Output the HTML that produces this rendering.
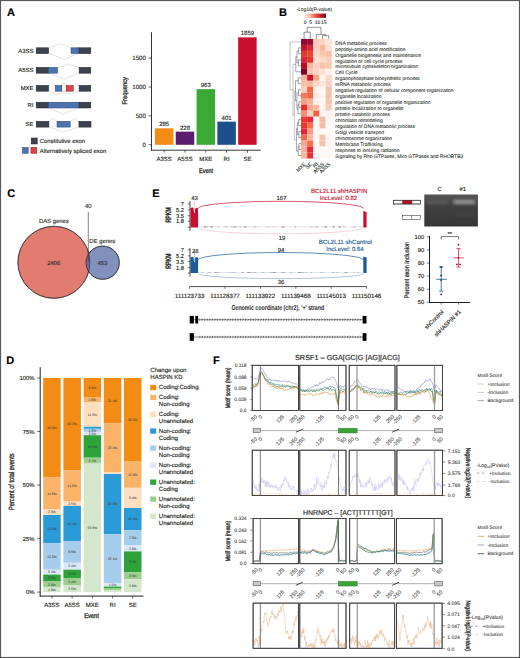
<!DOCTYPE html>
<html><head><meta charset="utf-8"><style>
html,body{margin:0;padding:0;background:#fff;}
body{width:520px;height:658px;overflow:hidden;}
svg{display:block;font-family:"Liberation Sans",sans-serif;text-rendering:geometricPrecision;}
</style></head><body>
<svg width="520" height="658" viewBox="0 0 520 658">
<rect x="0" y="0" width="520" height="658" fill="#fff"/>
<text stroke="#000" stroke-width="0.14" x="7.10" y="15.86" font-size="11" text-anchor="start" fill="#000" font-weight="bold">A</text>
<text stroke="#231f20" stroke-width="0.14" x="33.40" y="52.82" font-size="5.9" text-anchor="end" fill="#231f20">A3SS</text>
<text stroke="#231f20" stroke-width="0.14" x="33.40" y="72.42" font-size="5.9" text-anchor="end" fill="#231f20">A5SS</text>
<text stroke="#231f20" stroke-width="0.14" x="33.40" y="90.42" font-size="5.9" text-anchor="end" fill="#231f20">MXE</text>
<text stroke="#231f20" stroke-width="0.14" x="33.40" y="107.22" font-size="5.9" text-anchor="end" fill="#231f20">RI</text>
<text stroke="#231f20" stroke-width="0.14" x="33.40" y="126.32" font-size="5.9" text-anchor="end" fill="#231f20">SE</text>
<polyline points="48.60,48.10 59.60,43.80 71.00,48.10" fill="none" stroke="#c4c4c8" stroke-width="0.5"/>
<polyline points="48.60,53.30 64.30,59.50 79.10,53.30" fill="none" stroke="#c4c4c8" stroke-width="0.5"/>
<rect x="36.20" y="47.80" width="12.40" height="5.80" fill="#3c4250" stroke="#1d2027" stroke-width="0.5"/>
<rect x="71.00" y="47.80" width="8.10" height="5.80" fill="#4d73ae" stroke="#2c4a7c" stroke-width="0.5"/>
<rect x="79.10" y="47.80" width="11.70" height="5.80" fill="#3c4250" stroke="#1d2027" stroke-width="0.5"/>
<polyline points="57.60,67.70 68.40,64.00 79.10,67.70" fill="none" stroke="#c4c4c8" stroke-width="0.5"/>
<polyline points="48.60,72.90 64.30,79.00 79.10,72.90" fill="none" stroke="#c4c4c8" stroke-width="0.5"/>
<rect x="36.20" y="67.40" width="12.40" height="5.80" fill="#3c4250" stroke="#1d2027" stroke-width="0.5"/>
<rect x="48.60" y="67.40" width="9.00" height="5.80" fill="#4d73ae" stroke="#2c4a7c" stroke-width="0.5"/>
<rect x="79.10" y="67.40" width="11.70" height="5.80" fill="#3c4250" stroke="#1d2027" stroke-width="0.5"/>
<polyline points="48.60,85.90 51.70,82.80 55.20,85.90" fill="none" stroke="#c4c4c8" stroke-width="0.5"/>
<polyline points="61.90,90.70 70.50,94.50 79.10,90.70" fill="none" stroke="#c4c4c8" stroke-width="0.5"/>
<polyline points="48.60,90.70 57.40,94.60 66.10,90.70" fill="none" stroke="#eab4b8" stroke-width="0.5"/>
<polyline points="61.90,85.90 64.30,82.60 66.10,85.90" fill="none" stroke="#eab4b8" stroke-width="0.5"/>
<polyline points="73.30,85.90 76.20,82.80 79.10,85.90" fill="none" stroke="#eab4b8" stroke-width="0.5"/>
<rect x="36.20" y="85.40" width="12.40" height="5.80" fill="#3c4250" stroke="#1d2027" stroke-width="0.5"/>
<rect x="55.20" y="85.40" width="6.70" height="5.80" fill="#4d73ae" stroke="#2c4a7c" stroke-width="0.5"/>
<rect x="66.10" y="85.40" width="7.20" height="5.80" fill="#d9434c" stroke="#a02028" stroke-width="0.5"/>
<rect x="79.10" y="85.40" width="11.70" height="5.80" fill="#3c4250" stroke="#1d2027" stroke-width="0.5"/>
<polyline points="48.60,107.70 62.80,114.00 79.10,107.70" fill="none" stroke="#c4c4c8" stroke-width="0.5"/>
<rect x="36.20" y="102.20" width="12.40" height="5.80" fill="#3c4250" stroke="#1d2027" stroke-width="0.5"/>
<rect x="48.60" y="102.20" width="30.50" height="5.80" fill="#4d73ae" stroke="#2c4a7c" stroke-width="0.5"/>
<rect x="79.10" y="102.20" width="11.70" height="5.80" fill="#3c4250" stroke="#1d2027" stroke-width="0.5"/>
<polyline points="48.90,121.60 52.90,118.40 57.00,121.60" fill="none" stroke="#c4c4c8" stroke-width="0.5"/>
<polyline points="70.20,121.60 74.90,118.40 78.90,121.60" fill="none" stroke="#c4c4c8" stroke-width="0.5"/>
<polyline points="48.90,126.80 63.60,132.20 78.90,126.80" fill="none" stroke="#c4c4c8" stroke-width="0.5"/>
<rect x="36.20" y="121.30" width="12.70" height="5.80" fill="#3c4250" stroke="#1d2027" stroke-width="0.5"/>
<rect x="57.00" y="121.30" width="13.20" height="5.80" fill="#4d73ae" stroke="#2c4a7c" stroke-width="0.5"/>
<rect x="78.90" y="121.30" width="12.10" height="5.80" fill="#3c4250" stroke="#1d2027" stroke-width="0.5"/>
<rect x="31.20" y="138.00" width="6.00" height="6.00" fill="#3c4250" stroke="#1d2027" stroke-width="0.5"/>
<text stroke="#231f20" stroke-width="0.14" x="39.80" y="143.12" font-size="5.9" text-anchor="start" fill="#231f20">Constitutive exon</text>
<rect x="22.50" y="147.40" width="5.70" height="5.90" fill="#4d73ae" stroke="#2c4a7c" stroke-width="0.5"/>
<rect x="30.90" y="147.40" width="5.90" height="5.90" fill="#d9434c" stroke="#a02028" stroke-width="0.5"/>
<text stroke="#231f20" stroke-width="0.14" x="39.80" y="152.52" font-size="5.9" text-anchor="start" fill="#231f20">Alternatively spliced exon</text>
<line x1="151.50" y1="32.20" x2="151.50" y2="150.50" stroke="#231f20" stroke-width="0.9"/>
<line x1="151.10" y1="150.20" x2="260.80" y2="150.20" stroke="#231f20" stroke-width="0.9"/>
<line x1="148.60" y1="144.80" x2="151.50" y2="144.80" stroke="#231f20" stroke-width="0.7"/>
<text stroke="#231f20" stroke-width="0.14" x="146.00" y="147.03" font-size="6.2" text-anchor="end" fill="#231f20">0</text>
<line x1="148.60" y1="115.90" x2="151.50" y2="115.90" stroke="#231f20" stroke-width="0.7"/>
<text stroke="#231f20" stroke-width="0.14" x="146.00" y="118.13" font-size="6.2" text-anchor="end" fill="#231f20">500</text>
<line x1="148.60" y1="87.00" x2="151.50" y2="87.00" stroke="#231f20" stroke-width="0.7"/>
<text stroke="#231f20" stroke-width="0.14" x="146.00" y="89.23" font-size="6.2" text-anchor="end" fill="#231f20">1000</text>
<line x1="148.60" y1="58.10" x2="151.50" y2="58.10" stroke="#231f20" stroke-width="0.7"/>
<text stroke="#231f20" stroke-width="0.14" x="146.00" y="60.33" font-size="6.2" text-anchor="end" fill="#231f20">1500</text>
<rect x="154.95" y="128.33" width="18.50" height="16.47" fill="#f28c14"/>
<text stroke="#231f20" stroke-width="0.14" x="164.20" y="126.29" font-size="6" text-anchor="middle" fill="#231f20">285</text>
<line x1="164.20" y1="150.20" x2="164.20" y2="152.60" stroke="#231f20" stroke-width="0.7"/>
<text stroke="#231f20" stroke-width="0.14" x="164.20" y="161.46" font-size="6" text-anchor="middle" fill="#231f20">A3SS</text>
<rect x="175.75" y="131.62" width="18.50" height="13.18" fill="#5b1e6e"/>
<text stroke="#231f20" stroke-width="0.14" x="185.00" y="129.58" font-size="6" text-anchor="middle" fill="#231f20">228</text>
<line x1="185.00" y1="150.20" x2="185.00" y2="152.60" stroke="#231f20" stroke-width="0.7"/>
<text stroke="#231f20" stroke-width="0.14" x="185.00" y="161.46" font-size="6" text-anchor="middle" fill="#231f20">A5SS</text>
<rect x="196.55" y="89.14" width="18.50" height="55.66" fill="#3aaa35"/>
<text stroke="#231f20" stroke-width="0.14" x="205.80" y="87.10" font-size="6" text-anchor="middle" fill="#231f20">963</text>
<line x1="205.80" y1="150.20" x2="205.80" y2="152.60" stroke="#231f20" stroke-width="0.7"/>
<text stroke="#231f20" stroke-width="0.14" x="205.80" y="161.46" font-size="6" text-anchor="middle" fill="#231f20">MXE</text>
<rect x="217.35" y="121.62" width="18.50" height="23.18" fill="#1d4f8c"/>
<text stroke="#231f20" stroke-width="0.14" x="226.60" y="119.58" font-size="6" text-anchor="middle" fill="#231f20">401</text>
<line x1="226.60" y1="150.20" x2="226.60" y2="152.60" stroke="#231f20" stroke-width="0.7"/>
<text stroke="#231f20" stroke-width="0.14" x="226.60" y="161.46" font-size="6" text-anchor="middle" fill="#231f20">RI</text>
<rect x="238.15" y="37.35" width="18.50" height="107.45" fill="#c8102e"/>
<text stroke="#231f20" stroke-width="0.14" x="247.40" y="35.31" font-size="6" text-anchor="middle" fill="#231f20">1859</text>
<line x1="247.40" y1="150.20" x2="247.40" y2="152.60" stroke="#231f20" stroke-width="0.7"/>
<text stroke="#231f20" stroke-width="0.14" x="247.40" y="161.46" font-size="6" text-anchor="middle" fill="#231f20">SE</text>
<text x="206.00" y="173.00" font-size="6.8" text-anchor="middle" fill="#231f20" stroke="#231f20" stroke-width="0.28" transform="translate(206 0) scale(0.8 1) translate(-206 0)">Event</text>
<text x="0" y="0" font-size="6.8" text-anchor="middle" fill="#231f20" stroke="#231f20" stroke-width="0.28" transform="translate(126.5 90.8) rotate(-90) scale(0.86 1)">Frequency</text>
<text stroke="#000" stroke-width="0.14" x="279.00" y="15.86" font-size="11" text-anchor="start" fill="#000" font-weight="bold">B</text>
<text stroke="#231f20" stroke-width="0.07" x="296.50" y="10.78" font-size="4.95" text-anchor="start" fill="#231f20">-Log10(P-value)</text>
<defs><linearGradient id="hmg" x1="0" x2="1" y1="0" y2="0"><stop offset="0" stop-color="#fff5ee"/><stop offset="0.3" stop-color="#f9b59c"/><stop offset="0.6" stop-color="#e8403a"/><stop offset="1" stop-color="#7a0428"/></linearGradient></defs>
<rect x="303.50" y="13.60" width="22.50" height="4.30" fill="url(#hmg)"/>
<text stroke="#231f20" stroke-width="0.07" x="305.20" y="23.98" font-size="4.95" text-anchor="middle" fill="#231f20">0</text>
<text stroke="#231f20" stroke-width="0.07" x="310.60" y="23.98" font-size="4.95" text-anchor="middle" fill="#231f20">5</text>
<text stroke="#231f20" stroke-width="0.07" x="317.60" y="23.98" font-size="4.95" text-anchor="middle" fill="#231f20">10</text>
<text stroke="#231f20" stroke-width="0.07" x="323.80" y="23.98" font-size="4.95" text-anchor="middle" fill="#231f20">15</text>
<rect x="301.00" y="38.90" width="6.20" height="6.03" fill="#8b0a30"/>
<rect x="307.15" y="38.90" width="6.20" height="6.03" fill="#9a0c35"/>
<rect x="313.30" y="38.90" width="6.20" height="6.03" fill="#f9c9b8"/>
<rect x="319.45" y="38.90" width="6.20" height="6.03" fill="#fbd5c5"/>
<rect x="325.60" y="38.90" width="6.20" height="6.03" fill="#fde5da"/>
<rect x="301.00" y="44.88" width="6.20" height="6.03" fill="#c0152e"/>
<rect x="307.15" y="44.88" width="6.20" height="6.03" fill="#d4283a"/>
<rect x="313.30" y="44.88" width="6.20" height="6.03" fill="#fbd0c0"/>
<rect x="319.45" y="44.88" width="6.20" height="6.03" fill="#f8b8a0"/>
<rect x="325.60" y="44.88" width="6.20" height="6.03" fill="#fde0d0"/>
<rect x="301.00" y="50.86" width="6.20" height="6.03" fill="#e03a30"/>
<rect x="307.15" y="50.86" width="6.20" height="6.03" fill="#e84a35"/>
<rect x="313.30" y="50.86" width="6.20" height="6.03" fill="#fcd8c8"/>
<rect x="319.45" y="50.86" width="6.20" height="6.03" fill="#fac8b0"/>
<rect x="325.60" y="50.86" width="6.20" height="6.03" fill="#f9c0a8"/>
<rect x="301.00" y="56.84" width="6.20" height="6.03" fill="#d82838"/>
<rect x="307.15" y="56.84" width="6.20" height="6.03" fill="#e03a30"/>
<rect x="313.30" y="56.84" width="6.20" height="6.03" fill="#fde0d0"/>
<rect x="319.45" y="56.84" width="6.20" height="6.03" fill="#fcd8c8"/>
<rect x="325.60" y="56.84" width="6.20" height="6.03" fill="#fad0c0"/>
<rect x="301.00" y="62.82" width="6.20" height="6.03" fill="#b0102e"/>
<rect x="307.15" y="62.82" width="6.20" height="6.03" fill="#f8b8a0"/>
<rect x="313.30" y="62.82" width="6.20" height="6.03" fill="#fbd0c0"/>
<rect x="319.45" y="62.82" width="6.20" height="6.03" fill="#f8c0a8"/>
<rect x="325.60" y="62.82" width="6.20" height="6.03" fill="#fac8b0"/>
<rect x="301.00" y="68.80" width="6.20" height="6.03" fill="#7a0428"/>
<rect x="307.15" y="68.80" width="6.20" height="6.03" fill="#f9c4b0"/>
<rect x="313.30" y="68.80" width="6.20" height="6.03" fill="#fcd4c4"/>
<rect x="319.45" y="68.80" width="6.20" height="6.03" fill="#fde0d4"/>
<rect x="325.60" y="68.80" width="6.20" height="6.03" fill="#fef0e8"/>
<rect x="301.00" y="74.78" width="6.20" height="6.03" fill="#f7b09a"/>
<rect x="307.15" y="74.78" width="6.20" height="6.03" fill="#c8142e"/>
<rect x="313.30" y="74.78" width="6.20" height="6.03" fill="#f5a888"/>
<rect x="319.45" y="74.78" width="6.20" height="6.03" fill="#fef4ee"/>
<rect x="325.60" y="74.78" width="6.20" height="6.03" fill="#fcd8c8"/>
<rect x="301.00" y="80.76" width="6.20" height="6.03" fill="#f9c0a8"/>
<rect x="307.15" y="80.76" width="6.20" height="6.03" fill="#f8b8a0"/>
<rect x="313.30" y="80.76" width="6.20" height="6.03" fill="#fcd4c4"/>
<rect x="319.45" y="80.76" width="6.20" height="6.03" fill="#fde8e0"/>
<rect x="325.60" y="80.76" width="6.20" height="6.03" fill="#fbd0c0"/>
<rect x="301.00" y="86.74" width="6.20" height="6.03" fill="#fbd0c0"/>
<rect x="307.15" y="86.74" width="6.20" height="6.03" fill="#f06848"/>
<rect x="313.30" y="86.74" width="6.20" height="6.03" fill="#fef0ea"/>
<rect x="319.45" y="86.74" width="6.20" height="6.03" fill="#fff8f5"/>
<rect x="325.60" y="86.74" width="6.20" height="6.03" fill="#f6c0a8"/>
<rect x="301.00" y="92.72" width="6.20" height="6.03" fill="#f47a5e"/>
<rect x="307.15" y="92.72" width="6.20" height="6.03" fill="#f06a4a"/>
<rect x="313.30" y="92.72" width="6.20" height="6.03" fill="#fde8e0"/>
<rect x="319.45" y="92.72" width="6.20" height="6.03" fill="#fff5f0"/>
<rect x="325.60" y="92.72" width="6.20" height="6.03" fill="#f6c0a8"/>
<rect x="301.00" y="98.70" width="6.20" height="6.03" fill="#f7a088"/>
<rect x="307.15" y="98.70" width="6.20" height="6.03" fill="#f8b098"/>
<rect x="313.30" y="98.70" width="6.20" height="6.03" fill="#fef0ea"/>
<rect x="319.45" y="98.70" width="6.20" height="6.03" fill="#fff8f5"/>
<rect x="325.60" y="98.70" width="6.20" height="6.03" fill="#f6c2aa"/>
<rect x="301.00" y="104.68" width="6.20" height="6.03" fill="#e8302e"/>
<rect x="307.15" y="104.68" width="6.20" height="6.03" fill="#f7a890"/>
<rect x="313.30" y="104.68" width="6.20" height="6.03" fill="#f8bca4"/>
<rect x="319.45" y="104.68" width="6.20" height="6.03" fill="#fff5f0"/>
<rect x="325.60" y="104.68" width="6.20" height="6.03" fill="#f8ccb8"/>
<rect x="301.00" y="110.66" width="6.20" height="6.03" fill="#f4907a"/>
<rect x="307.15" y="110.66" width="6.20" height="6.03" fill="#fbd0bc"/>
<rect x="313.30" y="110.66" width="6.20" height="6.03" fill="#f06048"/>
<rect x="319.45" y="110.66" width="6.20" height="6.03" fill="#fff5f0"/>
<rect x="325.60" y="110.66" width="6.20" height="6.03" fill="#fef0ea"/>
<rect x="301.00" y="116.64" width="6.20" height="6.03" fill="#e83a30"/>
<rect x="307.15" y="116.64" width="6.20" height="6.03" fill="#e82838"/>
<rect x="313.30" y="116.64" width="6.20" height="6.03" fill="#fef4f0"/>
<rect x="319.45" y="116.64" width="6.20" height="6.03" fill="#f5bca4"/>
<rect x="325.60" y="116.64" width="6.20" height="6.03" fill="#fff5f0"/>
<rect x="301.00" y="122.62" width="6.20" height="6.03" fill="#e83830"/>
<rect x="307.15" y="122.62" width="6.20" height="6.03" fill="#f07058"/>
<rect x="313.30" y="122.62" width="6.20" height="6.03" fill="#fff5f0"/>
<rect x="319.45" y="122.62" width="6.20" height="6.03" fill="#f5bca4"/>
<rect x="325.60" y="122.62" width="6.20" height="6.03" fill="#fff8f5"/>
<rect x="301.00" y="128.60" width="6.20" height="6.03" fill="#e0283a"/>
<rect x="307.15" y="128.60" width="6.20" height="6.03" fill="#f7a088"/>
<rect x="313.30" y="128.60" width="6.20" height="6.03" fill="#fff5f0"/>
<rect x="319.45" y="128.60" width="6.20" height="6.03" fill="#fff8f5"/>
<rect x="325.60" y="128.60" width="6.20" height="6.03" fill="#fff8f5"/>
<rect x="301.00" y="134.58" width="6.20" height="6.03" fill="#f06850"/>
<rect x="307.15" y="134.58" width="6.20" height="6.03" fill="#f8b8a0"/>
<rect x="313.30" y="134.58" width="6.20" height="6.03" fill="#fff5f0"/>
<rect x="319.45" y="134.58" width="6.20" height="6.03" fill="#f6c4ac"/>
<rect x="325.60" y="134.58" width="6.20" height="6.03" fill="#fff5f0"/>
<rect x="301.00" y="140.56" width="6.20" height="6.03" fill="#f8a890"/>
<rect x="307.15" y="140.56" width="6.20" height="6.03" fill="#f07050"/>
<rect x="313.30" y="140.56" width="6.20" height="6.03" fill="#fff5f0"/>
<rect x="319.45" y="140.56" width="6.20" height="6.03" fill="#f6c4ac"/>
<rect x="325.60" y="140.56" width="6.20" height="6.03" fill="#fff5f0"/>
<rect x="301.00" y="146.54" width="6.20" height="6.03" fill="#f8b098"/>
<rect x="307.15" y="146.54" width="6.20" height="6.03" fill="#e8283a"/>
<rect x="313.30" y="146.54" width="6.20" height="6.03" fill="#fff5f0"/>
<rect x="319.45" y="146.54" width="6.20" height="6.03" fill="#fff8f5"/>
<rect x="325.60" y="146.54" width="6.20" height="6.03" fill="#fff8f5"/>
<rect x="301.00" y="152.52" width="6.20" height="6.03" fill="#f8b8a0"/>
<rect x="307.15" y="152.52" width="6.20" height="6.03" fill="#e83038"/>
<rect x="313.30" y="152.52" width="6.20" height="6.03" fill="#fff5f0"/>
<rect x="319.45" y="152.52" width="6.20" height="6.03" fill="#fff8f5"/>
<rect x="325.60" y="152.52" width="6.20" height="6.03" fill="#fff8f5"/>
<text stroke="#231f20" stroke-width="0.07" x="335.30" y="44.57" font-size="4.95" text-anchor="start" fill="#231f20">DNA metabolic process</text>
<text stroke="#231f20" stroke-width="0.07" x="335.30" y="50.55" font-size="4.95" text-anchor="start" fill="#231f20">peptidyl-amino acid modification</text>
<text stroke="#231f20" stroke-width="0.07" x="335.30" y="56.53" font-size="4.95" text-anchor="start" fill="#231f20">Organelle biogenesis and maintenance</text>
<text stroke="#231f20" stroke-width="0.07" x="335.30" y="62.51" font-size="4.95" text-anchor="start" fill="#231f20">regulation of cell cycle process</text>
<text stroke="#231f20" stroke-width="0.07" x="335.30" y="68.49" font-size="4.95" text-anchor="start" fill="#231f20">microtubule cytoskeleton organization</text>
<text stroke="#231f20" stroke-width="0.07" x="335.30" y="74.47" font-size="4.95" text-anchor="start" fill="#231f20">Cell Cycle</text>
<text stroke="#231f20" stroke-width="0.07" x="335.30" y="80.45" font-size="4.95" text-anchor="start" fill="#231f20">organophosphate biosynthetic process</text>
<text stroke="#231f20" stroke-width="0.07" x="335.30" y="86.43" font-size="4.95" text-anchor="start" fill="#231f20">mRNA metabolic process</text>
<text stroke="#231f20" stroke-width="0.07" x="335.30" y="92.41" font-size="4.95" text-anchor="start" fill="#231f20">negative regulation of cellular component organization</text>
<text stroke="#231f20" stroke-width="0.07" x="335.30" y="98.39" font-size="4.95" text-anchor="start" fill="#231f20">organelle localization</text>
<text stroke="#231f20" stroke-width="0.07" x="335.30" y="104.37" font-size="4.95" text-anchor="start" fill="#231f20">positive regulation of organelle organization</text>
<text stroke="#231f20" stroke-width="0.07" x="335.30" y="110.35" font-size="4.95" text-anchor="start" fill="#231f20">protein localization to organelle</text>
<text stroke="#231f20" stroke-width="0.07" x="335.30" y="116.33" font-size="4.95" text-anchor="start" fill="#231f20">protein catabolic process</text>
<text stroke="#231f20" stroke-width="0.07" x="335.30" y="122.31" font-size="4.95" text-anchor="start" fill="#231f20">chromatin remodeling</text>
<text stroke="#231f20" stroke-width="0.07" x="335.30" y="128.29" font-size="4.95" text-anchor="start" fill="#231f20">regulation of DNA metabolic process</text>
<text stroke="#231f20" stroke-width="0.07" x="335.30" y="134.27" font-size="4.95" text-anchor="start" fill="#231f20">Golgi vesicle transport</text>
<text stroke="#231f20" stroke-width="0.07" x="335.30" y="140.25" font-size="4.95" text-anchor="start" fill="#231f20">chromosome organization</text>
<text stroke="#231f20" stroke-width="0.07" x="335.30" y="146.23" font-size="4.95" text-anchor="start" fill="#231f20">Membrane Trafficking</text>
<text stroke="#231f20" stroke-width="0.07" x="335.30" y="152.21" font-size="4.95" text-anchor="start" fill="#231f20">response to ionizing radiation</text>
<text stroke="#231f20" stroke-width="0.07" x="335.30" y="158.19" font-size="4.95" text-anchor="start" fill="#231f20">Signaling by Rho GTPases, Miro GTPases and RHOBTB3</text>
<polyline points="304.07,38.90 304.07,32.20 310.23,32.20 310.23,38.90" fill="none" stroke="#3a3a3a" stroke-width="0.55"/>
<polyline points="322.52,38.90 322.52,35.60 328.68,35.60 328.68,38.90" fill="none" stroke="#3a3a3a" stroke-width="0.55"/>
<polyline points="316.38,38.90 316.38,34.40 325.60,34.40 325.60,35.60" fill="none" stroke="#3a3a3a" stroke-width="0.55"/>
<polyline points="307.15,32.20 307.15,27.30 320.99,27.30 320.99,34.40" fill="none" stroke="#3a3a3a" stroke-width="0.55"/>
<polyline points="301.00,47.87 298.60,47.87 298.60,53.85 301.00,53.85" fill="none" stroke="#4a4a4a" stroke-width="0.5"/>
<polyline points="301.00,59.83 298.40,59.83 298.40,65.81 301.00,65.81" fill="none" stroke="#4a4a4a" stroke-width="0.5"/>
<polyline points="298.60,50.86 297.00,50.86 297.00,62.82 298.40,62.82" fill="none" stroke="#4a4a4a" stroke-width="0.5"/>
<polyline points="297.00,56.84 295.80,56.84 295.80,71.79 301.00,71.79" fill="none" stroke="#4a4a4a" stroke-width="0.5"/>
<polyline points="301.00,77.77 298.20,77.77 298.20,83.75 301.00,83.75" fill="none" stroke="#4a4a4a" stroke-width="0.5"/>
<polyline points="301.00,89.73 298.60,89.73 298.60,95.71 301.00,95.71" fill="none" stroke="#4a4a4a" stroke-width="0.5"/>
<polyline points="301.00,101.69 299.00,101.69 299.00,107.67 301.00,107.67" fill="none" stroke="#4a4a4a" stroke-width="0.5"/>
<polyline points="299.00,104.68 298.00,104.68 298.00,113.65 301.00,113.65" fill="none" stroke="#4a4a4a" stroke-width="0.5"/>
<polyline points="298.60,92.72 296.90,92.72 296.90,109.17 298.00,109.17" fill="none" stroke="#4a4a4a" stroke-width="0.5"/>
<polyline points="298.20,80.76 295.50,80.76 295.50,100.94 296.90,100.94" fill="none" stroke="#4a4a4a" stroke-width="0.5"/>
<polyline points="301.00,119.63 298.60,119.63 298.60,125.61 301.00,125.61" fill="none" stroke="#4a4a4a" stroke-width="0.5"/>
<polyline points="301.00,131.59 298.80,131.59 298.80,137.57 301.00,137.57" fill="none" stroke="#4a4a4a" stroke-width="0.5"/>
<polyline points="298.60,122.62 297.40,122.62 297.40,134.58 298.80,134.58" fill="none" stroke="#4a4a4a" stroke-width="0.5"/>
<polyline points="301.00,143.55 299.00,143.55 299.00,149.53 301.00,149.53" fill="none" stroke="#4a4a4a" stroke-width="0.5"/>
<polyline points="299.00,146.54 298.20,146.54 298.20,155.51 301.00,155.51" fill="none" stroke="#4a4a4a" stroke-width="0.5"/>
<polyline points="297.40,128.60 296.40,128.60 296.40,151.03 298.20,151.03" fill="none" stroke="#4a4a4a" stroke-width="0.5"/>
<polyline points="295.50,90.85 294.30,90.85 294.30,139.81 296.40,139.81" fill="none" stroke="#8a8a90" stroke-width="0.5"/>
<polyline points="295.80,64.31 293.00,64.31 293.00,115.33 294.30,115.33" fill="none" stroke="#8a8a90" stroke-width="0.5"/>
<polyline points="301.00,41.89 290.10,41.89 290.10,89.82 293.00,89.82" fill="none" stroke="#8a8a90" stroke-width="0.5"/>
<text stroke="#231f20" stroke-width="0.07" x="0" y="0" font-size="5.1" text-anchor="end" fill="#231f20" transform="translate(306.07 164.50) rotate(-45)">MXE</text>
<text stroke="#231f20" stroke-width="0.07" x="0" y="0" font-size="5.1" text-anchor="end" fill="#231f20" transform="translate(312.23 164.50) rotate(-45)">SE</text>
<text stroke="#231f20" stroke-width="0.07" x="0" y="0" font-size="5.1" text-anchor="end" fill="#231f20" transform="translate(318.38 164.50) rotate(-45)">RI</text>
<text stroke="#231f20" stroke-width="0.07" x="0" y="0" font-size="5.1" text-anchor="end" fill="#231f20" transform="translate(324.52 164.50) rotate(-45)">A5SS</text>
<text stroke="#231f20" stroke-width="0.07" x="0" y="0" font-size="5.1" text-anchor="end" fill="#231f20" transform="translate(330.68 164.50) rotate(-45)">A3SS</text>
<text stroke="#000" stroke-width="0.14" x="7.20" y="196.96" font-size="11" text-anchor="start" fill="#000" font-weight="bold">C</text>
<defs><clipPath id="bigc"><circle cx="53.9" cy="262.3" r="36.0"/></clipPath></defs>
<circle cx="53.9" cy="262.3" r="36.0" fill="#e27b70" stroke="#2a2a2a" stroke-width="0.6"/>
<circle cx="102.7" cy="262.7" r="16.6" fill="#8190bd" stroke="#2a2a2a" stroke-width="0.6"/>
<circle cx="102.7" cy="262.7" r="16.6" fill="#7a6a98" clip-path="url(#bigc)"/>
<circle cx="102.7" cy="262.7" r="16.6" fill="none" stroke="#2a2a2a" stroke-width="0.6"/>
<circle cx="53.9" cy="262.3" r="36.0" fill="none" stroke="#2a2a2a" stroke-width="0.6"/>
<text stroke="#333" stroke-width="0.14" x="53.80" y="222.52" font-size="5.9" text-anchor="middle" fill="#333">DAS genes</text>
<text stroke="#333" stroke-width="0.14" x="102.30" y="242.72" font-size="5.9" text-anchor="middle" fill="#333">DE genes</text>
<text stroke="#333" stroke-width="0.14" x="53.80" y="265.12" font-size="5.9" text-anchor="middle" fill="#333">2406</text>
<text stroke="#333" stroke-width="0.14" x="102.30" y="265.12" font-size="5.9" text-anchor="middle" fill="#333">453</text>
<text stroke="#333" stroke-width="0.14" x="88.20" y="208.22" font-size="5.9" text-anchor="middle" fill="#333">40</text>
<line x1="88.30" y1="212.00" x2="88.30" y2="262.00" stroke="#333" stroke-width="0.6"/>
<text stroke="#000" stroke-width="0.14" x="6.20" y="363.86" font-size="11" text-anchor="start" fill="#000" font-weight="bold">D</text>
<line x1="40.20" y1="367.20" x2="40.20" y2="596.60" stroke="#231f20" stroke-width="1.0"/>
<line x1="39.70" y1="596.10" x2="143.50" y2="596.10" stroke="#231f20" stroke-width="1.0"/>
<line x1="37.30" y1="592.10" x2="40.00" y2="592.10" stroke="#231f20" stroke-width="0.7"/>
<text stroke="#231f20" stroke-width="0.14" x="34.60" y="594.22" font-size="5.9" text-anchor="end" fill="#231f20">0%</text>
<line x1="37.30" y1="538.58" x2="40.00" y2="538.58" stroke="#231f20" stroke-width="0.7"/>
<text stroke="#231f20" stroke-width="0.14" x="34.60" y="540.70" font-size="5.9" text-anchor="end" fill="#231f20">25%</text>
<line x1="37.30" y1="485.05" x2="40.00" y2="485.05" stroke="#231f20" stroke-width="0.7"/>
<text stroke="#231f20" stroke-width="0.14" x="34.60" y="487.17" font-size="5.9" text-anchor="end" fill="#231f20">50%</text>
<line x1="37.30" y1="431.52" x2="40.00" y2="431.52" stroke="#231f20" stroke-width="0.7"/>
<text stroke="#231f20" stroke-width="0.14" x="34.60" y="433.65" font-size="5.9" text-anchor="end" fill="#231f20">75%</text>
<line x1="37.30" y1="378.00" x2="40.00" y2="378.00" stroke="#231f20" stroke-width="0.7"/>
<text stroke="#231f20" stroke-width="0.14" x="34.60" y="380.12" font-size="5.9" text-anchor="end" fill="#231f20">100%</text>
<rect x="43.20" y="378.00" width="17.50" height="99.52" fill="#f28c14"/>
<rect x="43.20" y="477.50" width="17.50" height="32.02" fill="#fbb36a"/>
<rect x="43.20" y="509.50" width="17.50" height="5.52" fill="#fde0c0"/>
<rect x="43.20" y="515.00" width="17.50" height="28.42" fill="#2b9bd8"/>
<rect x="43.20" y="543.40" width="17.50" height="26.32" fill="#a7cdec"/>
<rect x="43.20" y="569.70" width="17.50" height="4.92" fill="#dbe9f6"/>
<rect x="43.20" y="574.60" width="17.50" height="6.92" fill="#2ea33a"/>
<rect x="43.20" y="581.50" width="17.50" height="5.92" fill="#9ccf8d"/>
<rect x="43.20" y="587.40" width="17.50" height="4.72" fill="#d4e7cc"/>
<text stroke="#3a3a3a" stroke-width="0.03" x="51.95" y="428.97" font-size="3.4" text-anchor="middle" fill="#3a3a3a">46.3%</text>
<text stroke="#3a3a3a" stroke-width="0.03" x="51.95" y="494.72" font-size="3.4" text-anchor="middle" fill="#3a3a3a">14.9%</text>
<text stroke="#3a3a3a" stroke-width="0.03" x="51.95" y="513.47" font-size="3.4" text-anchor="middle" fill="#3a3a3a">2.8%</text>
<text stroke="#3a3a3a" stroke-width="0.03" x="51.95" y="530.42" font-size="3.4" text-anchor="middle" fill="#3a3a3a">13.8%</text>
<text stroke="#3a3a3a" stroke-width="0.03" x="51.95" y="557.77" font-size="3.4" text-anchor="middle" fill="#3a3a3a">12.3%</text>
<text stroke="#3a3a3a" stroke-width="0.03" x="51.95" y="573.37" font-size="3.4" text-anchor="middle" fill="#3a3a3a">2.1%</text>
<text stroke="#3a3a3a" stroke-width="0.03" x="51.95" y="579.27" font-size="3.4" text-anchor="middle" fill="#3a3a3a">3.5%</text>
<text stroke="#3a3a3a" stroke-width="0.03" x="51.95" y="585.67" font-size="3.4" text-anchor="middle" fill="#3a3a3a">2.8%</text>
<text stroke="#3a3a3a" stroke-width="0.03" x="51.95" y="590.97" font-size="3.4" text-anchor="middle" fill="#3a3a3a">1.9%</text>
<line x1="51.95" y1="596.10" x2="51.95" y2="598.40" stroke="#231f20" stroke-width="0.7"/>
<text stroke="#231f20" stroke-width="0.14" x="51.95" y="607.16" font-size="6" text-anchor="middle" fill="#231f20">A3SS</text>
<rect x="63.40" y="378.00" width="17.50" height="92.32" fill="#f28c14"/>
<rect x="63.40" y="470.30" width="17.50" height="31.32" fill="#fbb36a"/>
<rect x="63.40" y="501.60" width="17.50" height="4.32" fill="#fde0c0"/>
<rect x="63.40" y="505.90" width="17.50" height="35.12" fill="#2b9bd8"/>
<rect x="63.40" y="541.00" width="17.50" height="21.82" fill="#a7cdec"/>
<rect x="63.40" y="562.80" width="17.50" height="6.92" fill="#dbe9f6"/>
<rect x="63.40" y="569.70" width="17.50" height="8.82" fill="#2ea33a"/>
<rect x="63.40" y="578.50" width="17.50" height="7.02" fill="#9ccf8d"/>
<rect x="63.40" y="585.50" width="17.50" height="6.62" fill="#d4e7cc"/>
<text stroke="#3a3a3a" stroke-width="0.03" x="72.15" y="425.37" font-size="3.4" text-anchor="middle" fill="#3a3a3a">43.2%</text>
<text stroke="#3a3a3a" stroke-width="0.03" x="72.15" y="487.17" font-size="3.4" text-anchor="middle" fill="#3a3a3a">14.6%</text>
<text stroke="#3a3a3a" stroke-width="0.03" x="72.15" y="504.97" font-size="3.4" text-anchor="middle" fill="#3a3a3a">2.5%</text>
<text stroke="#3a3a3a" stroke-width="0.03" x="72.15" y="524.67" font-size="3.4" text-anchor="middle" fill="#3a3a3a">16.1%</text>
<text stroke="#3a3a3a" stroke-width="0.03" x="72.15" y="553.12" font-size="3.4" text-anchor="middle" fill="#3a3a3a">9.9%</text>
<text stroke="#3a3a3a" stroke-width="0.03" x="72.15" y="567.47" font-size="3.4" text-anchor="middle" fill="#3a3a3a">3.4%</text>
<text stroke="#3a3a3a" stroke-width="0.03" x="72.15" y="575.32" font-size="3.4" text-anchor="middle" fill="#3a3a3a">4.3%</text>
<text stroke="#3a3a3a" stroke-width="0.03" x="72.15" y="583.22" font-size="3.4" text-anchor="middle" fill="#3a3a3a">3.4%</text>
<text stroke="#3a3a3a" stroke-width="0.03" x="72.15" y="590.02" font-size="3.4" text-anchor="middle" fill="#3a3a3a">2.5%</text>
<line x1="72.15" y1="596.10" x2="72.15" y2="598.40" stroke="#231f20" stroke-width="0.7"/>
<text stroke="#231f20" stroke-width="0.14" x="72.15" y="607.16" font-size="6" text-anchor="middle" fill="#231f20">A5SS</text>
<rect x="83.60" y="378.00" width="17.50" height="19.62" fill="#f28c14"/>
<rect x="83.60" y="397.60" width="17.50" height="4.62" fill="#fbb36a"/>
<rect x="83.60" y="402.20" width="17.50" height="24.62" fill="#fde0c0"/>
<rect x="83.60" y="426.80" width="17.50" height="2.02" fill="#2b9bd8"/>
<rect x="83.60" y="428.80" width="17.50" height="3.02" fill="#a7cdec"/>
<rect x="83.60" y="431.80" width="17.50" height="3.42" fill="#dbe9f6"/>
<rect x="83.60" y="435.20" width="17.50" height="22.52" fill="#2ea33a"/>
<rect x="83.60" y="457.70" width="17.50" height="5.92" fill="#9ccf8d"/>
<rect x="83.60" y="463.60" width="17.50" height="128.52" fill="#d4e7cc"/>
<text stroke="#3a3a3a" stroke-width="0.03" x="92.35" y="389.02" font-size="3.4" text-anchor="middle" fill="#3a3a3a">8.8%</text>
<text stroke="#3a3a3a" stroke-width="0.03" x="92.35" y="401.12" font-size="3.4" text-anchor="middle" fill="#3a3a3a">1.9%</text>
<text stroke="#3a3a3a" stroke-width="0.03" x="92.35" y="415.72" font-size="3.4" text-anchor="middle" fill="#3a3a3a">11.3%</text>
<text stroke="#3a3a3a" stroke-width="0.03" x="92.35" y="431.52" font-size="3.4" text-anchor="middle" fill="#3a3a3a">1.3%</text>
<text stroke="#3a3a3a" stroke-width="0.03" x="92.35" y="434.72" font-size="3.4" text-anchor="middle" fill="#3a3a3a">2.0%</text>
<text stroke="#3a3a3a" stroke-width="0.03" x="92.35" y="447.67" font-size="3.4" text-anchor="middle" fill="#3a3a3a">10.5%</text>
<text stroke="#3a3a3a" stroke-width="0.03" x="92.35" y="461.87" font-size="3.4" text-anchor="middle" fill="#3a3a3a">2.7%</text>
<text stroke="#3a3a3a" stroke-width="0.03" x="92.35" y="529.07" font-size="3.4" text-anchor="middle" fill="#3a3a3a">59.9%</text>
<line x1="92.35" y1="596.10" x2="92.35" y2="598.40" stroke="#231f20" stroke-width="0.7"/>
<text stroke="#231f20" stroke-width="0.14" x="92.35" y="607.16" font-size="6" text-anchor="middle" fill="#231f20">MXE</text>
<rect x="103.80" y="378.00" width="17.50" height="45.52" fill="#f28c14"/>
<rect x="103.80" y="423.50" width="17.50" height="48.92" fill="#fbb36a"/>
<rect x="103.80" y="472.40" width="17.50" height="1.62" fill="#fde0c0"/>
<rect x="103.80" y="474.00" width="17.50" height="60.22" fill="#2b9bd8"/>
<rect x="103.80" y="534.20" width="17.50" height="48.82" fill="#a7cdec"/>
<rect x="103.80" y="583.00" width="17.50" height="3.62" fill="#dbe9f6"/>
<rect x="103.80" y="586.60" width="17.50" height="1.42" fill="#2ea33a"/>
<rect x="103.80" y="588.00" width="17.50" height="2.02" fill="#9ccf8d"/>
<rect x="103.80" y="590.00" width="17.50" height="2.12" fill="#d4e7cc"/>
<text stroke="#3a3a3a" stroke-width="0.03" x="112.55" y="401.97" font-size="3.4" text-anchor="middle" fill="#3a3a3a">21.4%</text>
<text stroke="#3a3a3a" stroke-width="0.03" x="112.55" y="449.17" font-size="3.4" text-anchor="middle" fill="#3a3a3a">23.4%</text>
<text stroke="#3a3a3a" stroke-width="0.03" x="112.55" y="505.32" font-size="3.4" text-anchor="middle" fill="#3a3a3a">28.5%</text>
<text stroke="#3a3a3a" stroke-width="0.03" x="112.55" y="559.82" font-size="3.4" text-anchor="middle" fill="#3a3a3a">23.1%</text>
<text stroke="#3a3a3a" stroke-width="0.03" x="112.55" y="586.02" font-size="3.4" text-anchor="middle" fill="#3a3a3a">1.5%</text>
<line x1="112.55" y1="596.10" x2="112.55" y2="598.40" stroke="#231f20" stroke-width="0.7"/>
<text stroke="#231f20" stroke-width="0.14" x="112.55" y="607.16" font-size="6" text-anchor="middle" fill="#231f20">RI</text>
<rect x="124.00" y="378.00" width="17.50" height="83.62" fill="#f28c14"/>
<rect x="124.00" y="461.60" width="17.50" height="26.22" fill="#fbb36a"/>
<rect x="124.00" y="487.80" width="17.50" height="20.22" fill="#fde0c0"/>
<rect x="124.00" y="508.00" width="17.50" height="22.32" fill="#2b9bd8"/>
<rect x="124.00" y="530.30" width="17.50" height="15.22" fill="#a7cdec"/>
<rect x="124.00" y="545.50" width="17.50" height="5.92" fill="#dbe9f6"/>
<rect x="124.00" y="551.40" width="17.50" height="21.02" fill="#2ea33a"/>
<rect x="124.00" y="572.40" width="17.50" height="6.92" fill="#9ccf8d"/>
<rect x="124.00" y="579.30" width="17.50" height="12.82" fill="#d4e7cc"/>
<text stroke="#3a3a3a" stroke-width="0.03" x="132.75" y="421.02" font-size="3.4" text-anchor="middle" fill="#3a3a3a">39.2%</text>
<text stroke="#3a3a3a" stroke-width="0.03" x="132.75" y="475.92" font-size="3.4" text-anchor="middle" fill="#3a3a3a">12.8%</text>
<text stroke="#3a3a3a" stroke-width="0.03" x="132.75" y="499.12" font-size="3.4" text-anchor="middle" fill="#3a3a3a">9.4%</text>
<text stroke="#3a3a3a" stroke-width="0.03" x="132.75" y="520.37" font-size="3.4" text-anchor="middle" fill="#3a3a3a">10.1%</text>
<text stroke="#3a3a3a" stroke-width="0.03" x="132.75" y="539.12" font-size="3.4" text-anchor="middle" fill="#3a3a3a">7.2%</text>
<text stroke="#3a3a3a" stroke-width="0.03" x="132.75" y="549.67" font-size="3.4" text-anchor="middle" fill="#3a3a3a">2.8%</text>
<text stroke="#3a3a3a" stroke-width="0.03" x="132.75" y="563.12" font-size="3.4" text-anchor="middle" fill="#3a3a3a">9.7%</text>
<text stroke="#3a3a3a" stroke-width="0.03" x="132.75" y="577.07" font-size="3.4" text-anchor="middle" fill="#3a3a3a">3.5%</text>
<text stroke="#3a3a3a" stroke-width="0.03" x="132.75" y="586.92" font-size="3.4" text-anchor="middle" fill="#3a3a3a">5.8%</text>
<line x1="132.75" y1="596.10" x2="132.75" y2="598.40" stroke="#231f20" stroke-width="0.7"/>
<text stroke="#231f20" stroke-width="0.14" x="132.75" y="607.16" font-size="6" text-anchor="middle" fill="#231f20">SE</text>
<text x="91.50" y="618.20" font-size="6.9" text-anchor="middle" fill="#231f20" stroke="#231f20" stroke-width="0.28" transform="translate(91.5 0) scale(0.82 1) translate(-91.5 0)">Event</text>
<text x="0" y="0" font-size="7.6" text-anchor="middle" fill="#231f20" stroke="#231f20" stroke-width="0.28" transform="translate(14.4 481.7) rotate(-90) scale(0.75 1)">Percent of total events</text>
<text stroke="#231f20" stroke-width="0.14" x="150.30" y="372.46" font-size="6.0" text-anchor="start" fill="#231f20">Change upon</text>
<text stroke="#231f20" stroke-width="0.14" x="150.30" y="379.46" font-size="6.0" text-anchor="start" fill="#231f20">HASPIN KD</text>
<rect x="150.20" y="384.90" width="6.00" height="5.30" fill="#f28c14"/>
<text stroke="#231f20" stroke-width="0.14" x="158.80" y="389.06" font-size="6.0" text-anchor="start" fill="#231f20">Coding:Coding</text>
<rect x="150.20" y="394.70" width="6.00" height="5.30" fill="#fbb36a"/>
<text stroke="#231f20" stroke-width="0.14" x="158.80" y="398.86" font-size="6.0" text-anchor="start" fill="#231f20">Coding:</text>
<text stroke="#231f20" stroke-width="0.14" x="158.80" y="406.26" font-size="6.0" text-anchor="start" fill="#231f20">Non-coding</text>
<rect x="150.20" y="411.80" width="6.00" height="5.30" fill="#fde0c0"/>
<text stroke="#231f20" stroke-width="0.14" x="158.80" y="415.96" font-size="6.0" text-anchor="start" fill="#231f20">Coding:</text>
<text stroke="#231f20" stroke-width="0.14" x="158.80" y="423.36" font-size="6.0" text-anchor="start" fill="#231f20">Unannotated</text>
<rect x="150.20" y="428.40" width="6.00" height="5.30" fill="#2b9bd8"/>
<text stroke="#231f20" stroke-width="0.14" x="158.80" y="432.56" font-size="6.0" text-anchor="start" fill="#231f20">Non-coding:</text>
<text stroke="#231f20" stroke-width="0.14" x="158.80" y="439.96" font-size="6.0" text-anchor="start" fill="#231f20">Coding</text>
<rect x="150.20" y="445.40" width="6.00" height="5.30" fill="#a7cdec"/>
<text stroke="#231f20" stroke-width="0.14" x="158.80" y="449.56" font-size="6.0" text-anchor="start" fill="#231f20">Non-coding:</text>
<text stroke="#231f20" stroke-width="0.14" x="158.80" y="456.96" font-size="6.0" text-anchor="start" fill="#231f20">Non-coding</text>
<rect x="150.20" y="462.50" width="6.00" height="5.30" fill="#dbe9f6"/>
<text stroke="#231f20" stroke-width="0.14" x="158.80" y="466.66" font-size="6.0" text-anchor="start" fill="#231f20">Non-coding:</text>
<text stroke="#231f20" stroke-width="0.14" x="158.80" y="474.06" font-size="6.0" text-anchor="start" fill="#231f20">Unannotated</text>
<rect x="150.20" y="479.50" width="6.00" height="5.30" fill="#2ea33a"/>
<text stroke="#231f20" stroke-width="0.14" x="158.80" y="483.66" font-size="6.0" text-anchor="start" fill="#231f20">Unannotated:</text>
<text stroke="#231f20" stroke-width="0.14" x="158.80" y="491.06" font-size="6.0" text-anchor="start" fill="#231f20">Coding</text>
<rect x="150.20" y="496.50" width="6.00" height="5.30" fill="#9ccf8d"/>
<text stroke="#231f20" stroke-width="0.14" x="158.80" y="500.66" font-size="6.0" text-anchor="start" fill="#231f20">Unannotated:</text>
<text stroke="#231f20" stroke-width="0.14" x="158.80" y="508.06" font-size="6.0" text-anchor="start" fill="#231f20">Non-coding</text>
<rect x="150.20" y="513.60" width="6.00" height="5.30" fill="#d4e7cc"/>
<text stroke="#231f20" stroke-width="0.14" x="158.80" y="517.76" font-size="6.0" text-anchor="start" fill="#231f20">Unannotated:</text>
<text stroke="#231f20" stroke-width="0.14" x="158.80" y="525.16" font-size="6.0" text-anchor="start" fill="#231f20">Unannotated</text>
<text stroke="#000" stroke-width="0.14" x="152.20" y="196.96" font-size="11" text-anchor="start" fill="#000" font-weight="bold">E</text>
<line x1="190.00" y1="201.20" x2="190.00" y2="230.90" stroke="#231f20" stroke-width="0.8"/>
<line x1="187.80" y1="203.80" x2="190.00" y2="203.80" stroke="#231f20" stroke-width="0.6"/>
<text stroke="#231f20" stroke-width="0.14" x="184.00" y="205.85" font-size="5.7" text-anchor="end" fill="#231f20">7</text>
<line x1="187.80" y1="209.90" x2="190.00" y2="209.90" stroke="#231f20" stroke-width="0.6"/>
<text stroke="#231f20" stroke-width="0.14" x="184.00" y="211.95" font-size="5.7" text-anchor="end" fill="#231f20">5.2</text>
<line x1="187.80" y1="215.70" x2="190.00" y2="215.70" stroke="#231f20" stroke-width="0.6"/>
<text stroke="#231f20" stroke-width="0.14" x="184.00" y="217.75" font-size="5.7" text-anchor="end" fill="#231f20">3.5</text>
<line x1="187.80" y1="221.30" x2="190.00" y2="221.30" stroke="#231f20" stroke-width="0.6"/>
<text stroke="#231f20" stroke-width="0.14" x="184.00" y="223.35" font-size="5.7" text-anchor="end" fill="#231f20">1.8</text>
<line x1="187.80" y1="227.40" x2="190.00" y2="227.40" stroke="#231f20" stroke-width="0.6"/>
<path d="M190.40,227.40 L190.40,207.90 L191.20,207.50 L192.00,208.10 L192.80,207.30 L193.60,208.30 L194.10,212.80 L194.70,213.30 L195.20,208.50 L196.00,207.70 L196.80,208.20 L197.50,207.90 L198.10,208.50 L198.10,227.40Z" fill="#c8102e" stroke="none" stroke-width="0.5"/>
<line x1="194.40" y1="201.30" x2="194.40" y2="212.30" stroke="#efb6c0" stroke-width="0.6"/>
<path d="M363.3,210.90 L366.6,211.90 L366.6,227.40 L363.3,227.40Z" fill="#c8102e" stroke="none" stroke-width="0.5"/>
<line x1="198.10" y1="226.90" x2="363.30" y2="226.90" stroke="#f2d0d6" stroke-width="0.7"/>
<rect x="281.89" y="226.50" width="2.89" height="0.80" fill="#bbbbbb"/>
<rect x="351.78" y="226.50" width="1.49" height="0.80" fill="#bbbbbb"/>
<rect x="332.43" y="226.50" width="1.70" height="0.80" fill="#bbbbbb"/>
<rect x="204.41" y="226.50" width="2.46" height="0.80" fill="#bbbbbb"/>
<rect x="252.76" y="226.50" width="2.53" height="0.80" fill="#bbbbbb"/>
<rect x="272.56" y="226.50" width="1.09" height="0.80" fill="#bbbbbb"/>
<rect x="232.55" y="226.50" width="1.38" height="0.80" fill="#888"/>
<rect x="244.87" y="226.50" width="1.87" height="0.80" fill="#888"/>
<rect x="353.87" y="226.50" width="2.39" height="0.80" fill="#bbbbbb"/>
<rect x="244.30" y="226.50" width="1.15" height="0.80" fill="#888"/>
<rect x="282.57" y="226.50" width="1.05" height="0.80" fill="#bbbbbb"/>
<rect x="324.27" y="226.50" width="2.15" height="0.80" fill="#888"/>
<rect x="206.33" y="226.50" width="1.96" height="0.80" fill="#bbbbbb"/>
<rect x="209.98" y="226.50" width="2.21" height="0.80" fill="#888"/>
<rect x="294.87" y="226.50" width="1.37" height="0.80" fill="#888"/>
<rect x="281.52" y="226.50" width="1.92" height="0.80" fill="#888"/>
<rect x="223.67" y="226.50" width="2.60" height="0.80" fill="#bbbbbb"/>
<rect x="325.94" y="226.50" width="1.22" height="0.80" fill="#888"/>
<rect x="230.61" y="226.50" width="0.98" height="0.80" fill="#888"/>
<rect x="337.81" y="226.50" width="2.73" height="0.80" fill="#bbbbbb"/>
<rect x="243.85" y="226.50" width="0.82" height="0.80" fill="#bbbbbb"/>
<rect x="315.19" y="226.50" width="2.64" height="0.80" fill="#bbbbbb"/>
<rect x="234.43" y="226.50" width="2.21" height="0.80" fill="#888"/>
<rect x="354.19" y="226.50" width="1.13" height="0.80" fill="#bbbbbb"/>
<rect x="343.15" y="226.50" width="1.73" height="0.80" fill="#bbbbbb"/>
<rect x="203.92" y="226.50" width="2.28" height="0.80" fill="#888"/>
<rect x="332.29" y="226.50" width="2.75" height="0.80" fill="#bbbbbb"/>
<rect x="239.29" y="226.50" width="2.49" height="0.80" fill="#bbbbbb"/>
<rect x="333.00" y="226.50" width="0.94" height="0.80" fill="#888"/>
<rect x="226.32" y="226.50" width="1.63" height="0.80" fill="#bbbbbb"/>
<rect x="310.61" y="226.50" width="1.19" height="0.80" fill="#bbbbbb"/>
<rect x="200.93" y="226.50" width="1.38" height="0.80" fill="#bbbbbb"/>
<rect x="216.95" y="226.50" width="2.19" height="0.80" fill="#bbbbbb"/>
<rect x="316.05" y="226.50" width="2.24" height="0.80" fill="#bbbbbb"/>
<rect x="338.77" y="226.50" width="2.19" height="0.80" fill="#888"/>
<rect x="254.69" y="226.50" width="2.00" height="0.80" fill="#bbbbbb"/>
<rect x="359.38" y="226.50" width="1.34" height="0.80" fill="#bbbbbb"/>
<rect x="211.71" y="226.50" width="1.37" height="0.80" fill="#888"/>
<rect x="311.66" y="226.50" width="1.08" height="0.80" fill="#bbbbbb"/>
<rect x="267.35" y="226.50" width="2.26" height="0.80" fill="#bbbbbb"/>
<path d="M198.1,208.50 A82.65,7.20 0 0 1 363.4,208.50" fill="none" stroke="#c8102e" stroke-width="0.7"/>
<path d="M198.1,227.50 A82.65,6.30 0 0 0 363.4,227.50" fill="none" stroke="#efb6c0" stroke-width="0.6"/>
<text stroke="#231f20" stroke-width="0.14" x="194.60" y="199.72" font-size="5.9" text-anchor="middle" fill="#231f20">43</text>
<text stroke="#231f20" stroke-width="0.14" x="281.50" y="199.72" font-size="5.9" text-anchor="middle" fill="#231f20">167</text>
<text stroke="#231f20" stroke-width="0.14" x="282.00" y="240.32" font-size="5.9" text-anchor="middle" fill="#231f20">19</text>
<text stroke="#c8102e" stroke-width="0.14" x="339.00" y="193.01" font-size="6.15" text-anchor="middle" fill="#c8102e">BCL2L11 shHASPIN</text>
<text stroke="#c8102e" stroke-width="0.14" x="338.50" y="199.76" font-size="6.0" text-anchor="middle" fill="#c8102e">IncLevel: 0.82</text>
<text stroke="#231f20" stroke-width="0.14" x="0" y="0" font-size="8" text-anchor="middle" fill="#231f20" transform="translate(170.8 214.80) rotate(-90) scale(0.66 1)" font-weight="bold">RPKM</text>
<line x1="190.00" y1="248.10" x2="190.00" y2="276.50" stroke="#231f20" stroke-width="0.8"/>
<line x1="187.80" y1="249.70" x2="190.00" y2="249.70" stroke="#231f20" stroke-width="0.6"/>
<text stroke="#231f20" stroke-width="0.14" x="184.00" y="251.75" font-size="5.7" text-anchor="end" fill="#231f20">7</text>
<line x1="187.80" y1="255.90" x2="190.00" y2="255.90" stroke="#231f20" stroke-width="0.6"/>
<text stroke="#231f20" stroke-width="0.14" x="184.00" y="257.95" font-size="5.7" text-anchor="end" fill="#231f20">5.2</text>
<line x1="187.80" y1="261.50" x2="190.00" y2="261.50" stroke="#231f20" stroke-width="0.6"/>
<text stroke="#231f20" stroke-width="0.14" x="184.00" y="263.55" font-size="5.7" text-anchor="end" fill="#231f20">3.5</text>
<line x1="187.80" y1="267.60" x2="190.00" y2="267.60" stroke="#231f20" stroke-width="0.6"/>
<text stroke="#231f20" stroke-width="0.14" x="184.00" y="269.65" font-size="5.7" text-anchor="end" fill="#231f20">1.8</text>
<line x1="187.80" y1="273.00" x2="190.00" y2="273.00" stroke="#231f20" stroke-width="0.6"/>
<path d="M190.40,273.00 L190.40,257.20 L191.20,256.80 L192.00,257.40 L192.80,256.60 L193.60,257.60 L194.10,262.10 L194.70,262.60 L195.20,257.80 L196.00,257.00 L196.80,257.50 L197.50,257.20 L198.10,257.80 L198.10,273.00Z" fill="#1d5b96" stroke="none" stroke-width="0.5"/>
<line x1="194.40" y1="249.10" x2="194.40" y2="261.60" stroke="#7f9fc0" stroke-width="0.6"/>
<path d="M363.3,256.50 L366.6,257.50 L366.6,273.00 L363.3,273.00Z" fill="#1d5b96" stroke="none" stroke-width="0.5"/>
<line x1="198.10" y1="272.50" x2="363.30" y2="272.50" stroke="#d0dcea" stroke-width="0.7"/>
<rect x="241.86" y="272.10" width="1.46" height="0.80" fill="#888"/>
<rect x="214.71" y="272.10" width="2.12" height="0.80" fill="#888"/>
<rect x="230.06" y="272.10" width="0.92" height="0.80" fill="#bbbbbb"/>
<rect x="305.19" y="272.10" width="2.04" height="0.80" fill="#bbbbbb"/>
<rect x="269.22" y="272.10" width="2.27" height="0.80" fill="#bbbbbb"/>
<rect x="301.31" y="272.10" width="2.93" height="0.80" fill="#bbbbbb"/>
<rect x="262.66" y="272.10" width="1.21" height="0.80" fill="#bbbbbb"/>
<rect x="281.77" y="272.10" width="2.76" height="0.80" fill="#888"/>
<rect x="250.90" y="272.10" width="2.83" height="0.80" fill="#bbbbbb"/>
<rect x="311.00" y="272.10" width="1.04" height="0.80" fill="#bbbbbb"/>
<rect x="232.31" y="272.10" width="2.75" height="0.80" fill="#bbbbbb"/>
<rect x="335.88" y="272.10" width="2.22" height="0.80" fill="#bbbbbb"/>
<rect x="282.65" y="272.10" width="2.11" height="0.80" fill="#888"/>
<rect x="270.11" y="272.10" width="2.76" height="0.80" fill="#bbbbbb"/>
<rect x="332.70" y="272.10" width="1.90" height="0.80" fill="#bbbbbb"/>
<rect x="254.24" y="272.10" width="1.95" height="0.80" fill="#bbbbbb"/>
<rect x="216.11" y="272.10" width="0.88" height="0.80" fill="#888"/>
<rect x="273.03" y="272.10" width="2.78" height="0.80" fill="#888"/>
<rect x="261.62" y="272.10" width="2.94" height="0.80" fill="#bbbbbb"/>
<rect x="322.54" y="272.10" width="1.70" height="0.80" fill="#bbbbbb"/>
<rect x="227.48" y="272.10" width="1.20" height="0.80" fill="#bbbbbb"/>
<rect x="218.02" y="272.10" width="0.84" height="0.80" fill="#888"/>
<rect x="215.91" y="272.10" width="1.79" height="0.80" fill="#bbbbbb"/>
<rect x="299.24" y="272.10" width="1.91" height="0.80" fill="#888"/>
<rect x="320.06" y="272.10" width="2.06" height="0.80" fill="#bbbbbb"/>
<rect x="281.05" y="272.10" width="2.92" height="0.80" fill="#bbbbbb"/>
<rect x="310.24" y="272.10" width="2.02" height="0.80" fill="#bbbbbb"/>
<rect x="247.38" y="272.10" width="2.84" height="0.80" fill="#888"/>
<rect x="202.05" y="272.10" width="1.45" height="0.80" fill="#bbbbbb"/>
<rect x="332.39" y="272.10" width="1.04" height="0.80" fill="#bbbbbb"/>
<rect x="357.10" y="272.10" width="1.78" height="0.80" fill="#bbbbbb"/>
<rect x="207.84" y="272.10" width="1.66" height="0.80" fill="#bbbbbb"/>
<rect x="283.76" y="272.10" width="0.81" height="0.80" fill="#bbbbbb"/>
<rect x="233.58" y="272.10" width="1.77" height="0.80" fill="#bbbbbb"/>
<rect x="298.13" y="272.10" width="1.43" height="0.80" fill="#888"/>
<rect x="353.90" y="272.10" width="0.93" height="0.80" fill="#bbbbbb"/>
<rect x="290.08" y="272.10" width="2.50" height="0.80" fill="#bbbbbb"/>
<rect x="229.57" y="272.10" width="1.80" height="0.80" fill="#bbbbbb"/>
<rect x="344.53" y="272.10" width="2.71" height="0.80" fill="#888"/>
<rect x="208.44" y="272.10" width="2.95" height="0.80" fill="#bbbbbb"/>
<path d="M198.1,260.00 A82.65,7.50 0 0 1 363.4,260.00" fill="none" stroke="#1d5b96" stroke-width="0.7"/>
<path d="M198.1,273.50 A82.65,5.10 0 0 0 363.4,273.50" fill="none" stroke="#7f9fc0" stroke-width="0.6"/>
<text stroke="#231f20" stroke-width="0.14" x="195.20" y="252.92" font-size="5.9" text-anchor="middle" fill="#231f20">28</text>
<text stroke="#231f20" stroke-width="0.14" x="281.00" y="252.22" font-size="5.9" text-anchor="middle" fill="#231f20">94</text>
<text stroke="#231f20" stroke-width="0.14" x="281.00" y="284.02" font-size="5.9" text-anchor="middle" fill="#231f20">36</text>
<text stroke="#1d5b96" stroke-width="0.14" x="345.20" y="244.41" font-size="6.15" text-anchor="middle" fill="#1d5b96">BCL2L11 shControl</text>
<text stroke="#1d5b96" stroke-width="0.14" x="345.00" y="250.96" font-size="6.0" text-anchor="middle" fill="#1d5b96">IncLevel: 0.64</text>
<text stroke="#231f20" stroke-width="0.14" x="0" y="0" font-size="8" text-anchor="middle" fill="#231f20" transform="translate(170.8 261.05) rotate(-90) scale(0.66 1)" font-weight="bold">RPKM</text>
<line x1="189.60" y1="286.60" x2="366.50" y2="286.60" stroke="#231f20" stroke-width="0.8"/>
<line x1="189.60" y1="286.60" x2="189.60" y2="288.80" stroke="#231f20" stroke-width="0.6"/>
<text stroke="#231f20" stroke-width="0.14" x="189.60" y="298.43" font-size="6.2" text-anchor="middle" fill="#231f20">111123733</text>
<line x1="225.00" y1="286.60" x2="225.00" y2="288.80" stroke="#231f20" stroke-width="0.6"/>
<text stroke="#231f20" stroke-width="0.14" x="225.00" y="298.43" font-size="6.2" text-anchor="middle" fill="#231f20">111128377</text>
<line x1="260.40" y1="286.60" x2="260.40" y2="288.80" stroke="#231f20" stroke-width="0.6"/>
<text stroke="#231f20" stroke-width="0.14" x="260.40" y="298.43" font-size="6.2" text-anchor="middle" fill="#231f20">111133922</text>
<line x1="295.80" y1="286.60" x2="295.80" y2="288.80" stroke="#231f20" stroke-width="0.6"/>
<text stroke="#231f20" stroke-width="0.14" x="295.80" y="298.43" font-size="6.2" text-anchor="middle" fill="#231f20">111139468</text>
<line x1="331.20" y1="286.60" x2="331.20" y2="288.80" stroke="#231f20" stroke-width="0.6"/>
<text stroke="#231f20" stroke-width="0.14" x="331.20" y="298.43" font-size="6.2" text-anchor="middle" fill="#231f20">111145013</text>
<line x1="366.50" y1="286.60" x2="366.50" y2="288.80" stroke="#231f20" stroke-width="0.6"/>
<text stroke="#231f20" stroke-width="0.14" x="366.50" y="298.43" font-size="6.2" text-anchor="middle" fill="#231f20">111150146</text>
<text x="0" y="0" font-size="7.0" text-anchor="middle" fill="#2a2a2a" stroke="none" font-weight="bold" transform="translate(277.8 309.6) scale(0.75 1)">Genomic coordinate (chr2), '+' strand</text>
<line x1="194.00" y1="319.70" x2="363.00" y2="319.70" stroke="#333" stroke-width="0.6"/>
<polyline points="199.10,318.60 200.30,319.70 199.10,320.80" fill="none" stroke="#222" stroke-width="0.5"/>
<polyline points="201.65,318.60 202.85,319.70 201.65,320.80" fill="none" stroke="#222" stroke-width="0.5"/>
<polyline points="204.20,318.60 205.40,319.70 204.20,320.80" fill="none" stroke="#222" stroke-width="0.5"/>
<polyline points="206.75,318.60 207.95,319.70 206.75,320.80" fill="none" stroke="#222" stroke-width="0.5"/>
<polyline points="209.30,318.60 210.50,319.70 209.30,320.80" fill="none" stroke="#222" stroke-width="0.5"/>
<polyline points="211.85,318.60 213.05,319.70 211.85,320.80" fill="none" stroke="#222" stroke-width="0.5"/>
<polyline points="214.40,318.60 215.60,319.70 214.40,320.80" fill="none" stroke="#222" stroke-width="0.5"/>
<polyline points="216.95,318.60 218.15,319.70 216.95,320.80" fill="none" stroke="#222" stroke-width="0.5"/>
<polyline points="219.50,318.60 220.70,319.70 219.50,320.80" fill="none" stroke="#222" stroke-width="0.5"/>
<polyline points="222.05,318.60 223.25,319.70 222.05,320.80" fill="none" stroke="#222" stroke-width="0.5"/>
<polyline points="224.60,318.60 225.80,319.70 224.60,320.80" fill="none" stroke="#222" stroke-width="0.5"/>
<polyline points="227.15,318.60 228.35,319.70 227.15,320.80" fill="none" stroke="#222" stroke-width="0.5"/>
<polyline points="229.70,318.60 230.90,319.70 229.70,320.80" fill="none" stroke="#222" stroke-width="0.5"/>
<polyline points="232.25,318.60 233.45,319.70 232.25,320.80" fill="none" stroke="#222" stroke-width="0.5"/>
<polyline points="234.80,318.60 236.00,319.70 234.80,320.80" fill="none" stroke="#222" stroke-width="0.5"/>
<polyline points="237.35,318.60 238.55,319.70 237.35,320.80" fill="none" stroke="#222" stroke-width="0.5"/>
<polyline points="239.90,318.60 241.10,319.70 239.90,320.80" fill="none" stroke="#222" stroke-width="0.5"/>
<polyline points="242.45,318.60 243.65,319.70 242.45,320.80" fill="none" stroke="#222" stroke-width="0.5"/>
<polyline points="245.00,318.60 246.20,319.70 245.00,320.80" fill="none" stroke="#222" stroke-width="0.5"/>
<polyline points="247.55,318.60 248.75,319.70 247.55,320.80" fill="none" stroke="#222" stroke-width="0.5"/>
<polyline points="250.10,318.60 251.30,319.70 250.10,320.80" fill="none" stroke="#222" stroke-width="0.5"/>
<polyline points="252.65,318.60 253.85,319.70 252.65,320.80" fill="none" stroke="#222" stroke-width="0.5"/>
<polyline points="255.20,318.60 256.40,319.70 255.20,320.80" fill="none" stroke="#222" stroke-width="0.5"/>
<polyline points="257.75,318.60 258.95,319.70 257.75,320.80" fill="none" stroke="#222" stroke-width="0.5"/>
<polyline points="260.30,318.60 261.50,319.70 260.30,320.80" fill="none" stroke="#222" stroke-width="0.5"/>
<polyline points="262.85,318.60 264.05,319.70 262.85,320.80" fill="none" stroke="#222" stroke-width="0.5"/>
<polyline points="265.40,318.60 266.60,319.70 265.40,320.80" fill="none" stroke="#222" stroke-width="0.5"/>
<polyline points="267.95,318.60 269.15,319.70 267.95,320.80" fill="none" stroke="#222" stroke-width="0.5"/>
<polyline points="270.50,318.60 271.70,319.70 270.50,320.80" fill="none" stroke="#222" stroke-width="0.5"/>
<polyline points="273.05,318.60 274.25,319.70 273.05,320.80" fill="none" stroke="#222" stroke-width="0.5"/>
<polyline points="275.60,318.60 276.80,319.70 275.60,320.80" fill="none" stroke="#222" stroke-width="0.5"/>
<polyline points="278.15,318.60 279.35,319.70 278.15,320.80" fill="none" stroke="#222" stroke-width="0.5"/>
<polyline points="280.70,318.60 281.90,319.70 280.70,320.80" fill="none" stroke="#222" stroke-width="0.5"/>
<polyline points="283.25,318.60 284.45,319.70 283.25,320.80" fill="none" stroke="#222" stroke-width="0.5"/>
<polyline points="285.80,318.60 287.00,319.70 285.80,320.80" fill="none" stroke="#222" stroke-width="0.5"/>
<polyline points="288.35,318.60 289.55,319.70 288.35,320.80" fill="none" stroke="#222" stroke-width="0.5"/>
<polyline points="290.90,318.60 292.10,319.70 290.90,320.80" fill="none" stroke="#222" stroke-width="0.5"/>
<polyline points="293.45,318.60 294.65,319.70 293.45,320.80" fill="none" stroke="#222" stroke-width="0.5"/>
<polyline points="296.00,318.60 297.20,319.70 296.00,320.80" fill="none" stroke="#222" stroke-width="0.5"/>
<polyline points="298.55,318.60 299.75,319.70 298.55,320.80" fill="none" stroke="#222" stroke-width="0.5"/>
<polyline points="301.10,318.60 302.30,319.70 301.10,320.80" fill="none" stroke="#222" stroke-width="0.5"/>
<polyline points="303.65,318.60 304.85,319.70 303.65,320.80" fill="none" stroke="#222" stroke-width="0.5"/>
<polyline points="306.20,318.60 307.40,319.70 306.20,320.80" fill="none" stroke="#222" stroke-width="0.5"/>
<polyline points="308.75,318.60 309.95,319.70 308.75,320.80" fill="none" stroke="#222" stroke-width="0.5"/>
<polyline points="311.30,318.60 312.50,319.70 311.30,320.80" fill="none" stroke="#222" stroke-width="0.5"/>
<polyline points="313.85,318.60 315.05,319.70 313.85,320.80" fill="none" stroke="#222" stroke-width="0.5"/>
<polyline points="316.40,318.60 317.60,319.70 316.40,320.80" fill="none" stroke="#222" stroke-width="0.5"/>
<polyline points="318.95,318.60 320.15,319.70 318.95,320.80" fill="none" stroke="#222" stroke-width="0.5"/>
<polyline points="321.50,318.60 322.70,319.70 321.50,320.80" fill="none" stroke="#222" stroke-width="0.5"/>
<polyline points="324.05,318.60 325.25,319.70 324.05,320.80" fill="none" stroke="#222" stroke-width="0.5"/>
<polyline points="326.60,318.60 327.80,319.70 326.60,320.80" fill="none" stroke="#222" stroke-width="0.5"/>
<polyline points="329.15,318.60 330.35,319.70 329.15,320.80" fill="none" stroke="#222" stroke-width="0.5"/>
<polyline points="331.70,318.60 332.90,319.70 331.70,320.80" fill="none" stroke="#222" stroke-width="0.5"/>
<polyline points="334.25,318.60 335.45,319.70 334.25,320.80" fill="none" stroke="#222" stroke-width="0.5"/>
<polyline points="336.80,318.60 338.00,319.70 336.80,320.80" fill="none" stroke="#222" stroke-width="0.5"/>
<polyline points="339.35,318.60 340.55,319.70 339.35,320.80" fill="none" stroke="#222" stroke-width="0.5"/>
<polyline points="341.90,318.60 343.10,319.70 341.90,320.80" fill="none" stroke="#222" stroke-width="0.5"/>
<polyline points="344.45,318.60 345.65,319.70 344.45,320.80" fill="none" stroke="#222" stroke-width="0.5"/>
<polyline points="347.00,318.60 348.20,319.70 347.00,320.80" fill="none" stroke="#222" stroke-width="0.5"/>
<polyline points="349.55,318.60 350.75,319.70 349.55,320.80" fill="none" stroke="#222" stroke-width="0.5"/>
<polyline points="352.10,318.60 353.30,319.70 352.10,320.80" fill="none" stroke="#222" stroke-width="0.5"/>
<polyline points="354.65,318.60 355.85,319.70 354.65,320.80" fill="none" stroke="#222" stroke-width="0.5"/>
<polyline points="357.20,318.60 358.40,319.70 357.20,320.80" fill="none" stroke="#222" stroke-width="0.5"/>
<polyline points="359.75,318.60 360.95,319.70 359.75,320.80" fill="none" stroke="#222" stroke-width="0.5"/>
<rect x="189.70" y="315.90" width="4.20" height="7.60" fill="#000"/>
<rect x="195.30" y="315.90" width="2.80" height="7.60" fill="#000"/>
<rect x="362.60" y="315.90" width="3.90" height="7.60" fill="#000"/>
<line x1="194.00" y1="337.00" x2="363.00" y2="337.00" stroke="#333" stroke-width="0.6"/>
<polyline points="199.10,335.90 200.30,337.00 199.10,338.10" fill="none" stroke="#222" stroke-width="0.5"/>
<polyline points="201.65,335.90 202.85,337.00 201.65,338.10" fill="none" stroke="#222" stroke-width="0.5"/>
<polyline points="204.20,335.90 205.40,337.00 204.20,338.10" fill="none" stroke="#222" stroke-width="0.5"/>
<polyline points="206.75,335.90 207.95,337.00 206.75,338.10" fill="none" stroke="#222" stroke-width="0.5"/>
<polyline points="209.30,335.90 210.50,337.00 209.30,338.10" fill="none" stroke="#222" stroke-width="0.5"/>
<polyline points="211.85,335.90 213.05,337.00 211.85,338.10" fill="none" stroke="#222" stroke-width="0.5"/>
<polyline points="214.40,335.90 215.60,337.00 214.40,338.10" fill="none" stroke="#222" stroke-width="0.5"/>
<polyline points="216.95,335.90 218.15,337.00 216.95,338.10" fill="none" stroke="#222" stroke-width="0.5"/>
<polyline points="219.50,335.90 220.70,337.00 219.50,338.10" fill="none" stroke="#222" stroke-width="0.5"/>
<polyline points="222.05,335.90 223.25,337.00 222.05,338.10" fill="none" stroke="#222" stroke-width="0.5"/>
<polyline points="224.60,335.90 225.80,337.00 224.60,338.10" fill="none" stroke="#222" stroke-width="0.5"/>
<polyline points="227.15,335.90 228.35,337.00 227.15,338.10" fill="none" stroke="#222" stroke-width="0.5"/>
<polyline points="229.70,335.90 230.90,337.00 229.70,338.10" fill="none" stroke="#222" stroke-width="0.5"/>
<polyline points="232.25,335.90 233.45,337.00 232.25,338.10" fill="none" stroke="#222" stroke-width="0.5"/>
<polyline points="234.80,335.90 236.00,337.00 234.80,338.10" fill="none" stroke="#222" stroke-width="0.5"/>
<polyline points="237.35,335.90 238.55,337.00 237.35,338.10" fill="none" stroke="#222" stroke-width="0.5"/>
<polyline points="239.90,335.90 241.10,337.00 239.90,338.10" fill="none" stroke="#222" stroke-width="0.5"/>
<polyline points="242.45,335.90 243.65,337.00 242.45,338.10" fill="none" stroke="#222" stroke-width="0.5"/>
<polyline points="245.00,335.90 246.20,337.00 245.00,338.10" fill="none" stroke="#222" stroke-width="0.5"/>
<polyline points="247.55,335.90 248.75,337.00 247.55,338.10" fill="none" stroke="#222" stroke-width="0.5"/>
<polyline points="250.10,335.90 251.30,337.00 250.10,338.10" fill="none" stroke="#222" stroke-width="0.5"/>
<polyline points="252.65,335.90 253.85,337.00 252.65,338.10" fill="none" stroke="#222" stroke-width="0.5"/>
<polyline points="255.20,335.90 256.40,337.00 255.20,338.10" fill="none" stroke="#222" stroke-width="0.5"/>
<polyline points="257.75,335.90 258.95,337.00 257.75,338.10" fill="none" stroke="#222" stroke-width="0.5"/>
<polyline points="260.30,335.90 261.50,337.00 260.30,338.10" fill="none" stroke="#222" stroke-width="0.5"/>
<polyline points="262.85,335.90 264.05,337.00 262.85,338.10" fill="none" stroke="#222" stroke-width="0.5"/>
<polyline points="265.40,335.90 266.60,337.00 265.40,338.10" fill="none" stroke="#222" stroke-width="0.5"/>
<polyline points="267.95,335.90 269.15,337.00 267.95,338.10" fill="none" stroke="#222" stroke-width="0.5"/>
<polyline points="270.50,335.90 271.70,337.00 270.50,338.10" fill="none" stroke="#222" stroke-width="0.5"/>
<polyline points="273.05,335.90 274.25,337.00 273.05,338.10" fill="none" stroke="#222" stroke-width="0.5"/>
<polyline points="275.60,335.90 276.80,337.00 275.60,338.10" fill="none" stroke="#222" stroke-width="0.5"/>
<polyline points="278.15,335.90 279.35,337.00 278.15,338.10" fill="none" stroke="#222" stroke-width="0.5"/>
<polyline points="280.70,335.90 281.90,337.00 280.70,338.10" fill="none" stroke="#222" stroke-width="0.5"/>
<polyline points="283.25,335.90 284.45,337.00 283.25,338.10" fill="none" stroke="#222" stroke-width="0.5"/>
<polyline points="285.80,335.90 287.00,337.00 285.80,338.10" fill="none" stroke="#222" stroke-width="0.5"/>
<polyline points="288.35,335.90 289.55,337.00 288.35,338.10" fill="none" stroke="#222" stroke-width="0.5"/>
<polyline points="290.90,335.90 292.10,337.00 290.90,338.10" fill="none" stroke="#222" stroke-width="0.5"/>
<polyline points="293.45,335.90 294.65,337.00 293.45,338.10" fill="none" stroke="#222" stroke-width="0.5"/>
<polyline points="296.00,335.90 297.20,337.00 296.00,338.10" fill="none" stroke="#222" stroke-width="0.5"/>
<polyline points="298.55,335.90 299.75,337.00 298.55,338.10" fill="none" stroke="#222" stroke-width="0.5"/>
<polyline points="301.10,335.90 302.30,337.00 301.10,338.10" fill="none" stroke="#222" stroke-width="0.5"/>
<polyline points="303.65,335.90 304.85,337.00 303.65,338.10" fill="none" stroke="#222" stroke-width="0.5"/>
<polyline points="306.20,335.90 307.40,337.00 306.20,338.10" fill="none" stroke="#222" stroke-width="0.5"/>
<polyline points="308.75,335.90 309.95,337.00 308.75,338.10" fill="none" stroke="#222" stroke-width="0.5"/>
<polyline points="311.30,335.90 312.50,337.00 311.30,338.10" fill="none" stroke="#222" stroke-width="0.5"/>
<polyline points="313.85,335.90 315.05,337.00 313.85,338.10" fill="none" stroke="#222" stroke-width="0.5"/>
<polyline points="316.40,335.90 317.60,337.00 316.40,338.10" fill="none" stroke="#222" stroke-width="0.5"/>
<polyline points="318.95,335.90 320.15,337.00 318.95,338.10" fill="none" stroke="#222" stroke-width="0.5"/>
<polyline points="321.50,335.90 322.70,337.00 321.50,338.10" fill="none" stroke="#222" stroke-width="0.5"/>
<polyline points="324.05,335.90 325.25,337.00 324.05,338.10" fill="none" stroke="#222" stroke-width="0.5"/>
<polyline points="326.60,335.90 327.80,337.00 326.60,338.10" fill="none" stroke="#222" stroke-width="0.5"/>
<polyline points="329.15,335.90 330.35,337.00 329.15,338.10" fill="none" stroke="#222" stroke-width="0.5"/>
<polyline points="331.70,335.90 332.90,337.00 331.70,338.10" fill="none" stroke="#222" stroke-width="0.5"/>
<polyline points="334.25,335.90 335.45,337.00 334.25,338.10" fill="none" stroke="#222" stroke-width="0.5"/>
<polyline points="336.80,335.90 338.00,337.00 336.80,338.10" fill="none" stroke="#222" stroke-width="0.5"/>
<polyline points="339.35,335.90 340.55,337.00 339.35,338.10" fill="none" stroke="#222" stroke-width="0.5"/>
<polyline points="341.90,335.90 343.10,337.00 341.90,338.10" fill="none" stroke="#222" stroke-width="0.5"/>
<polyline points="344.45,335.90 345.65,337.00 344.45,338.10" fill="none" stroke="#222" stroke-width="0.5"/>
<polyline points="347.00,335.90 348.20,337.00 347.00,338.10" fill="none" stroke="#222" stroke-width="0.5"/>
<polyline points="349.55,335.90 350.75,337.00 349.55,338.10" fill="none" stroke="#222" stroke-width="0.5"/>
<polyline points="352.10,335.90 353.30,337.00 352.10,338.10" fill="none" stroke="#222" stroke-width="0.5"/>
<polyline points="354.65,335.90 355.85,337.00 354.65,338.10" fill="none" stroke="#222" stroke-width="0.5"/>
<polyline points="357.20,335.90 358.40,337.00 357.20,338.10" fill="none" stroke="#222" stroke-width="0.5"/>
<polyline points="359.75,335.90 360.95,337.00 359.75,338.10" fill="none" stroke="#222" stroke-width="0.5"/>
<rect x="189.70" y="333.20" width="4.20" height="7.60" fill="#000"/>
<rect x="362.60" y="333.20" width="3.90" height="7.60" fill="#000"/>
<defs><linearGradient id="gelg" x1="0" x2="0" y1="0" y2="1"><stop offset="0" stop-color="#555555"/><stop offset="0.38" stop-color="#404040"/><stop offset="1" stop-color="#363636"/></linearGradient><filter id="blur1" x="-20%" y="-50%" width="140%" height="200%"><feGaussianBlur stdDeviation="0.9"/></filter></defs>
<rect x="424.30" y="194.50" width="53.60" height="32.00" fill="url(#gelg)"/>
<rect x="426.50" y="200.20" width="21.50" height="4.00" fill="#585858" filter="url(#blur1)"/>
<rect x="453.00" y="199.50" width="22.50" height="5.00" fill="#7a7a7a" filter="url(#blur1)"/>
<rect x="455.50" y="200.60" width="17.50" height="2.60" fill="#8c8c8c" filter="url(#blur1)"/>
<rect x="428.00" y="211.00" width="19.00" height="6.00" fill="#3c3c3c" filter="url(#blur1)"/>
<rect x="455.00" y="211.00" width="20.00" height="6.00" fill="#404040" filter="url(#blur1)"/>
<text stroke="#231f20" stroke-width="0.14" x="439.70" y="191.42" font-size="5.9" text-anchor="middle" fill="#231f20">C</text>
<text stroke="#231f20" stroke-width="0.14" x="462.70" y="191.42" font-size="5.9" text-anchor="middle" fill="#231f20">#1</text>
<rect x="393.60" y="200.20" width="27.00" height="3.80" fill="#fff" stroke="#222" stroke-width="0.5"/>
<rect x="402.20" y="200.20" width="9.80" height="3.80" fill="#b80f28"/>
<rect x="393.60" y="200.20" width="27.00" height="3.80" fill="none" stroke="#222" stroke-width="0.5"/>
<rect x="402.60" y="215.40" width="18.00" height="3.90" fill="#fff" stroke="#222" stroke-width="0.5"/>
<line x1="411.60" y1="215.40" x2="411.60" y2="219.30" stroke="#222" stroke-width="0.5"/>
<line x1="429.50" y1="235.80" x2="429.50" y2="302.80" stroke="#231f20" stroke-width="1.0"/>
<line x1="429.00" y1="302.50" x2="470.00" y2="302.50" stroke="#231f20" stroke-width="1.0"/>
<line x1="426.80" y1="236.90" x2="429.20" y2="236.90" stroke="#231f20" stroke-width="0.6"/>
<text stroke="#231f20" stroke-width="0.14" x="424.20" y="238.99" font-size="5.8" text-anchor="end" fill="#231f20">100</text>
<line x1="426.80" y1="249.98" x2="429.20" y2="249.98" stroke="#231f20" stroke-width="0.6"/>
<text stroke="#231f20" stroke-width="0.14" x="424.20" y="252.07" font-size="5.8" text-anchor="end" fill="#231f20">90</text>
<line x1="426.80" y1="263.06" x2="429.20" y2="263.06" stroke="#231f20" stroke-width="0.6"/>
<text stroke="#231f20" stroke-width="0.14" x="424.20" y="265.15" font-size="5.8" text-anchor="end" fill="#231f20">80</text>
<line x1="426.80" y1="276.14" x2="429.20" y2="276.14" stroke="#231f20" stroke-width="0.6"/>
<text stroke="#231f20" stroke-width="0.14" x="424.20" y="278.23" font-size="5.8" text-anchor="end" fill="#231f20">70</text>
<line x1="426.80" y1="289.22" x2="429.20" y2="289.22" stroke="#231f20" stroke-width="0.6"/>
<text stroke="#231f20" stroke-width="0.14" x="424.20" y="291.31" font-size="5.8" text-anchor="end" fill="#231f20">60</text>
<line x1="426.80" y1="302.30" x2="429.20" y2="302.30" stroke="#231f20" stroke-width="0.6"/>
<text stroke="#231f20" stroke-width="0.14" x="424.20" y="304.39" font-size="5.8" text-anchor="end" fill="#231f20">50</text>
<line x1="441.20" y1="302.30" x2="441.20" y2="304.60" stroke="#231f20" stroke-width="0.6"/>
<line x1="458.50" y1="302.30" x2="458.50" y2="304.60" stroke="#231f20" stroke-width="0.6"/>
<line x1="441.20" y1="266.98" x2="441.20" y2="291.18" stroke="#1d5b96" stroke-width="0.8"/>
<line x1="439.00" y1="266.98" x2="443.40" y2="266.98" stroke="#1d5b96" stroke-width="0.8"/>
<line x1="439.00" y1="291.18" x2="443.40" y2="291.18" stroke="#1d5b96" stroke-width="0.8"/>
<line x1="436.20" y1="279.28" x2="446.90" y2="279.28" stroke="#1d5b96" stroke-width="0.8"/>
<circle cx="441.2" cy="266.98" r="0.9" fill="#1a3050"/>
<circle cx="441.2" cy="275.49" r="0.9" fill="#1a3050"/>
<circle cx="441.2" cy="280.06" r="0.9" fill="#1a3050"/>
<circle cx="441.2" cy="294.45" r="0.9" fill="#1a3050"/>
<line x1="458.50" y1="248.67" x2="458.50" y2="266.98" stroke="#d6304a" stroke-width="0.8"/>
<line x1="456.30" y1="248.67" x2="460.70" y2="248.67" stroke="#d6304a" stroke-width="0.8"/>
<line x1="456.30" y1="266.98" x2="460.70" y2="266.98" stroke="#d6304a" stroke-width="0.8"/>
<line x1="453.00" y1="257.83" x2="463.80" y2="257.83" stroke="#d6304a" stroke-width="0.8"/>
<circle cx="458.50" cy="244.75" r="0.9" fill="#8a1030"/>
<circle cx="458.50" cy="257.83" r="0.9" fill="#8a1030"/>
<circle cx="456.90" cy="264.37" r="0.9" fill="#8a1030"/>
<circle cx="460.10" cy="264.37" r="0.9" fill="#8a1030"/>
<polyline points="441.20,239.40 441.20,236.60 458.50,236.60 458.50,239.40" fill="none" stroke="#222" stroke-width="0.6"/>
<text stroke="#231f20" stroke-width="0.14" x="449.80" y="235.92" font-size="5.9" text-anchor="middle" fill="#231f20">**</text>
<text x="0" y="0" font-size="6.6" text-anchor="middle" fill="#231f20" stroke="#231f20" stroke-width="0.22" transform="translate(408.8 270) rotate(-90) scale(0.85 1)">Percent exon inclusion</text>
<text stroke="#231f20" stroke-width="0.14" x="0" y="0" font-size="5.7" text-anchor="end" fill="#231f20" transform="translate(444.00 312.3) rotate(-45)">shControl</text>
<text stroke="#231f20" stroke-width="0.14" x="0" y="0" font-size="5.7" text-anchor="end" fill="#231f20" transform="translate(461.30 312.3) rotate(-45)">shHASPIN #1</text>
<text stroke="#000" stroke-width="0.14" x="212.90" y="363.86" font-size="11" text-anchor="start" fill="#000" font-weight="bold">F</text>
<text stroke="#222" stroke-width="0.14" x="295.00" y="360.13" font-size="7.3" text-anchor="start" fill="#222">SRSF1 – GGA[GC|G [AG][ACG]</text>
<rect x="252.20" y="365.30" width="46.20" height="45.30" fill="none" stroke="#3c3c3c" stroke-width="0.8"/>
<rect x="299.80" y="365.30" width="46.20" height="45.30" fill="none" stroke="#3c3c3c" stroke-width="0.8"/>
<rect x="349.20" y="365.30" width="45.80" height="45.30" fill="none" stroke="#3c3c3c" stroke-width="0.8"/>
<rect x="396.90" y="365.30" width="45.70" height="45.30" fill="none" stroke="#3c3c3c" stroke-width="0.8"/>
<line x1="250.40" y1="365.40" x2="252.40" y2="365.40" stroke="#3c3c3c" stroke-width="0.6"/>
<text stroke="#333" stroke-width="0.07" x="246.60" y="367.16" font-size="4.9" text-anchor="end" fill="#333">0.118</text>
<line x1="250.40" y1="376.90" x2="252.40" y2="376.90" stroke="#3c3c3c" stroke-width="0.6"/>
<text stroke="#333" stroke-width="0.07" x="246.60" y="378.66" font-size="4.9" text-anchor="end" fill="#333">0.088</text>
<line x1="250.40" y1="388.10" x2="252.40" y2="388.10" stroke="#3c3c3c" stroke-width="0.6"/>
<text stroke="#333" stroke-width="0.07" x="246.60" y="389.86" font-size="4.9" text-anchor="end" fill="#333">0.059</text>
<line x1="250.40" y1="399.40" x2="252.40" y2="399.40" stroke="#3c3c3c" stroke-width="0.6"/>
<text stroke="#333" stroke-width="0.07" x="246.60" y="401.16" font-size="4.9" text-anchor="end" fill="#333">0.029</text>
<line x1="250.40" y1="410.50" x2="252.40" y2="410.50" stroke="#3c3c3c" stroke-width="0.6"/>
<text stroke="#333" stroke-width="0.07" x="246.60" y="412.26" font-size="4.9" text-anchor="end" fill="#333">0.0</text>
<polyline points="252.60,379.80 253.11,379.76 253.62,379.47 254.13,378.79 254.64,378.55 255.15,378.34 255.66,378.38 256.17,379.20 256.68,378.80 257.19,377.80 257.70,378.04 258.21,377.62 258.72,375.67 259.23,373.34 259.74,371.50 260.25,370.86 260.76,369.45 261.27,368.11 261.78,367.97 262.29,368.46 262.80,369.34 263.31,370.64 263.82,371.73 264.33,372.80 264.84,374.25 265.35,374.91 265.86,374.62 266.37,375.07 266.88,376.63 267.39,377.42 267.90,377.30 268.41,377.56 268.92,378.30 269.43,378.67 269.94,380.05 270.45,380.15 270.96,379.74 271.47,380.51 271.98,380.33 272.49,379.95 273.00,380.30 273.51,380.43 274.02,379.91 274.53,379.97 275.04,381.11 275.56,380.48 276.07,380.31 276.58,381.07 277.09,380.49 277.60,381.34 278.11,381.98 278.62,380.68 279.13,380.43 279.64,381.24 280.15,381.18 280.66,381.28 281.17,381.38 281.68,381.42 282.19,382.11 282.70,381.59 283.21,381.12 283.72,381.26 284.23,381.28 284.74,381.02 285.25,380.77 285.76,381.25 286.27,381.93 286.78,382.55 287.29,381.65 287.80,380.88 288.31,381.77 288.82,381.31 289.33,380.89 289.84,381.75 290.35,382.62 290.86,383.15 291.37,382.67 291.88,382.41 292.39,382.63 292.90,383.63 293.41,383.74 293.92,383.16 294.43,383.68 294.94,383.95 295.45,383.91 295.96,383.68 296.47,383.95 296.98,384.42 297.49,385.12 298.00,385.77" fill="none" stroke="#7d7dc8" stroke-width="0.55" stroke-linejoin="round"/>
<polyline points="300.20,390.20 300.71,389.48 301.22,389.49 301.73,389.75 302.24,389.20 302.75,389.11 303.26,389.53 303.77,389.84 304.28,390.50 304.79,390.56 305.30,390.33 305.81,389.56 306.32,389.45 306.83,389.96 307.34,389.16 307.85,388.63 308.36,388.73 308.87,388.93 309.38,388.44 309.89,387.55 310.40,387.86 310.91,387.90 311.42,386.84 311.93,386.68 312.44,387.13 312.95,386.67 313.46,386.45 313.97,386.44 314.48,385.53 314.99,385.89 315.50,386.09 316.01,384.28 316.52,384.40 317.03,385.77 317.54,385.38 318.05,385.22 318.56,385.90 319.07,384.67 319.58,382.75 320.09,382.37 320.60,383.62 321.11,383.49 321.62,382.04 322.13,381.51 322.64,381.84 323.16,382.10 323.67,382.16 324.18,382.29 324.69,381.21 325.20,380.42 325.71,380.03 326.22,379.82 326.73,379.51 327.24,378.66 327.75,379.74 328.26,379.96 328.77,379.03 329.28,379.79 329.79,379.54 330.30,378.14 330.81,377.57 331.32,377.05 331.83,377.24 332.34,377.16 332.85,377.19 333.36,377.64 333.87,377.50 334.38,378.24 334.89,379.42 335.40,380.44 335.91,381.52 336.42,382.60 336.93,383.67 337.44,386.26 337.95,387.57 338.46,386.89 338.97,387.41 339.48,387.16 339.99,385.97 340.50,384.85 341.01,386.14 341.52,387.20 342.03,386.72 342.54,386.33 343.05,386.57 343.56,386.99 344.07,386.24 344.58,385.64 345.09,385.77 345.60,385.95" fill="none" stroke="#7d7dc8" stroke-width="0.55" stroke-linejoin="round"/>
<polyline points="349.60,387.06 350.11,386.66 350.61,385.79 351.12,385.46 351.62,386.14 352.13,385.17 352.63,384.36 353.14,384.15 353.64,383.29 354.15,382.32 354.66,381.11 355.16,381.56 355.67,381.86 356.17,381.78 356.68,381.61 357.18,380.11 357.69,379.42 358.20,380.65 358.70,381.46 359.21,382.29 359.71,383.09 360.22,383.26 360.72,383.53 361.23,385.20 361.73,386.56 362.24,385.89 362.75,386.46 363.25,386.44 363.76,386.61 364.26,386.68 364.77,386.77 365.27,387.02 365.78,386.19 366.29,386.57 366.79,386.92 367.30,387.60 367.80,388.42 368.31,388.59 368.81,388.81 369.32,388.63 369.82,388.80 370.33,389.48 370.84,389.43 371.34,388.69 371.85,388.39 372.35,388.65 372.86,388.78 373.36,389.70 373.87,389.56 374.38,388.33 374.88,388.74 375.39,389.51 375.89,389.56 376.40,388.91 376.90,388.71 377.41,389.00 377.91,389.79 378.42,389.56 378.93,389.14 379.43,389.33 379.94,389.54 380.44,390.00 380.95,389.28 381.45,390.16 381.96,390.89 382.47,389.70 382.97,389.27 383.48,389.41 383.98,389.84 384.49,390.23 384.99,390.25 385.50,390.31 386.00,389.72 386.51,389.30 387.02,389.66 387.52,390.15 388.03,390.87 388.53,390.28 389.04,390.11 389.54,391.15 390.05,391.71 390.56,391.03 391.06,390.98 391.57,391.70 392.07,391.37 392.58,392.16 393.08,391.98 393.59,391.12 394.09,391.89 394.60,392.22" fill="none" stroke="#7d7dc8" stroke-width="0.55" stroke-linejoin="round"/>
<polyline points="397.30,386.72 397.80,386.73 398.31,387.18 398.81,387.91 399.32,388.46 399.82,388.71 400.33,389.49 400.83,390.12 401.34,390.28 401.84,390.04 402.34,389.83 402.85,389.99 403.35,390.48 403.86,391.12 404.36,391.17 404.87,391.02 405.37,391.61 405.88,391.26 406.38,391.00 406.89,391.92 407.39,391.52 407.89,390.82 408.40,390.86 408.90,391.56 409.41,391.78 409.91,390.66 410.42,390.48 410.92,391.66 411.43,392.21 411.93,391.99 412.43,391.42 412.94,390.32 413.44,390.44 413.95,391.10 414.45,391.01 414.96,391.69 415.46,391.32 415.97,390.33 416.47,390.05 416.98,389.37 417.48,388.38 417.98,387.72 418.49,387.87 418.99,387.95 419.50,386.96 420.00,386.78 420.51,386.61 421.01,385.10 421.52,384.82 422.02,384.88 422.52,383.60 423.03,383.43 423.53,383.39 424.04,382.55 424.54,382.50 425.05,381.30 425.55,380.30 426.06,380.85 426.56,381.30 427.07,381.00 427.57,380.27 428.07,379.90 428.58,380.07 429.08,380.60 429.59,379.84 430.09,378.62 430.60,379.78 431.10,381.18 431.61,381.59 432.11,382.69 432.61,384.09 433.12,384.74 433.62,386.94 434.13,390.11 434.63,391.44 435.14,388.25 435.64,386.05 436.15,384.76 436.65,385.51 437.16,386.27 437.66,386.64 438.16,387.67 438.67,388.28 439.17,388.38 439.68,388.59 440.18,390.18 440.69,391.67 441.19,390.89 441.70,390.56 442.20,391.80" fill="none" stroke="#7d7dc8" stroke-width="0.55" stroke-linejoin="round"/>
<polyline points="252.60,386.27 253.11,386.24 253.62,385.37 254.13,384.52 254.64,383.78 255.15,384.15 255.66,384.44 256.17,383.89 256.68,383.97 257.19,384.15 257.70,383.11 258.21,382.37 258.72,379.93 259.23,377.77 259.74,376.33 260.25,373.55 260.76,372.85 261.27,372.04 261.78,371.87 262.29,372.92 262.80,374.12 263.31,375.54 263.82,375.71 264.33,376.02 264.84,377.57 265.35,378.76 265.86,378.67 266.37,380.10 266.88,380.43 267.39,378.97 267.90,379.63 268.41,381.04 268.92,382.63 269.43,382.57 269.94,381.92 270.45,382.38 270.96,382.68 271.47,382.92 271.98,382.88 272.49,383.31 273.00,384.24 273.51,383.31 274.02,383.38 274.53,384.76 275.04,385.31 275.56,384.93 276.07,384.16 276.58,384.14 277.09,384.97 277.60,385.04 278.11,384.52 278.62,385.40 279.13,385.43 279.64,384.59 280.15,384.92 280.66,385.42 281.17,385.94 281.68,385.51 282.19,384.44 282.70,384.79 283.21,385.77 283.72,385.23 284.23,384.78 284.74,385.57 285.25,385.91 285.76,385.85 286.27,385.68 286.78,385.34 287.29,385.08 287.80,385.95 288.31,385.90 288.82,385.97 289.33,385.92 289.84,386.66 290.35,386.54 290.86,386.05 291.37,386.47 291.88,385.80 292.39,386.22 292.90,386.06 293.41,387.10 293.92,387.48 294.43,386.03 294.94,386.33 295.45,387.26 295.96,386.56 296.47,386.55 296.98,387.13 297.49,387.31 298.00,387.65" fill="none" stroke="#2b7f86" stroke-width="0.55" stroke-linejoin="round"/>
<polyline points="300.20,389.82 300.71,389.34 301.22,389.81 301.73,389.82 302.24,390.39 302.75,391.25 303.26,390.24 303.77,390.09 304.28,390.93 304.79,391.89 305.30,390.81 305.81,390.06 306.32,390.67 306.83,390.10 307.34,390.35 307.85,390.68 308.36,390.67 308.87,390.23 309.38,389.78 309.89,390.17 310.40,390.18 310.91,390.02 311.42,389.68 311.93,389.73 312.44,390.13 312.95,390.05 313.46,389.97 313.97,390.29 314.48,390.02 314.99,390.02 315.50,390.13 316.01,389.76 316.52,389.64 317.03,389.89 317.54,390.20 318.05,389.72 318.56,389.10 319.07,389.79 319.58,390.10 320.09,388.72 320.60,388.39 321.11,388.73 321.62,388.93 322.13,388.78 322.64,388.06 323.16,388.62 323.67,387.99 324.18,386.72 324.69,387.24 325.20,387.52 325.71,387.59 326.22,387.70 326.73,388.07 327.24,387.33 327.75,388.07 328.26,388.88 328.77,387.18 329.28,386.57 329.79,386.59 330.30,385.91 330.81,386.38 331.32,386.96 331.83,386.66 332.34,386.77 332.85,386.85 333.36,387.43 333.87,387.24 334.38,387.97 334.89,388.08 335.40,389.10 335.91,392.01 336.42,394.87 336.93,397.35 337.44,399.48 337.95,401.98 338.46,399.38 338.97,395.44 339.48,392.21 339.99,389.03 340.50,388.30 341.01,388.62 341.52,388.98 342.03,389.21 342.54,389.63 343.05,389.35 343.56,389.44 344.07,389.76 344.58,389.02 345.09,389.78 345.60,390.56" fill="none" stroke="#2b7f86" stroke-width="0.55" stroke-linejoin="round"/>
<polyline points="349.60,391.35 350.11,391.35 350.61,391.27 351.12,390.17 351.62,389.86 352.13,389.09 352.63,388.64 353.14,388.60 353.64,388.20 354.15,388.21 354.66,387.20 355.16,386.82 355.67,386.88 356.17,385.96 356.68,386.25 357.18,386.45 357.69,384.99 358.20,384.63 358.70,385.68 359.21,386.63 359.71,386.59 360.22,387.38 360.72,388.14 361.23,387.66 361.73,387.86 362.24,388.56 362.75,388.46 363.25,388.59 363.76,388.88 364.26,389.52 364.77,390.95 365.27,390.73 365.78,390.64 366.29,390.72 366.79,390.55 367.30,390.86 367.80,390.45 368.31,390.47 368.81,390.50 369.32,390.89 369.82,391.47 370.33,391.88 370.84,391.28 371.34,391.27 371.85,391.89 372.35,391.63 372.86,391.62 373.36,392.13 373.87,392.84 374.38,392.67 374.88,392.22 375.39,390.81 375.89,390.97 376.40,391.98 376.90,391.72 377.41,391.96 377.91,392.55 378.42,392.52 378.93,391.84 379.43,391.43 379.94,391.82 380.44,392.65 380.95,392.76 381.45,392.52 381.96,392.13 382.47,391.45 382.97,392.07 383.48,392.89 383.98,391.75 384.49,391.22 384.99,392.45 385.50,393.25 386.00,392.58 386.51,393.12 387.02,394.02 387.52,393.50 388.03,392.89 388.53,391.92 389.04,392.36 389.54,393.74 390.05,393.81 390.56,392.63 391.06,392.76 391.57,392.97 392.07,391.59 392.58,392.04 393.08,391.86 393.59,391.80 394.09,393.42 394.60,393.84" fill="none" stroke="#2b7f86" stroke-width="0.55" stroke-linejoin="round"/>
<polyline points="397.30,392.83 397.80,393.31 398.31,394.03 398.81,393.63 399.32,393.18 399.82,392.81 400.33,392.22 400.83,392.02 401.34,391.95 401.84,392.70 402.34,393.07 402.85,392.71 403.35,392.43 403.86,391.88 404.36,391.62 404.87,391.69 405.37,392.43 405.88,392.77 406.38,392.29 406.89,392.15 407.39,391.71 407.89,392.31 408.40,392.37 408.90,391.84 409.41,393.24 409.91,392.11 410.42,390.57 410.92,391.32 411.43,391.94 411.93,391.49 412.43,391.31 412.94,392.00 413.44,392.15 413.95,391.12 414.45,391.29 414.96,392.96 415.46,392.76 415.97,391.66 416.47,391.09 416.98,390.16 417.48,390.51 417.98,392.15 418.49,392.11 418.99,390.09 419.50,389.52 420.00,390.62 420.51,390.48 421.01,390.85 421.52,390.19 422.02,389.33 422.52,390.21 423.03,390.82 423.53,390.52 424.04,390.43 424.54,390.47 425.05,389.45 425.55,389.66 426.06,389.78 426.56,388.42 427.07,388.71 427.57,390.06 428.07,390.20 428.58,389.98 429.08,389.78 429.59,388.43 430.09,388.76 430.60,390.01 431.10,388.72 431.61,388.50 432.11,389.92 432.61,393.27 433.12,396.32 433.62,398.62 434.13,401.30 434.63,401.39 435.14,396.08 435.64,392.30 436.15,390.02 436.65,390.41 437.16,390.89 437.66,391.10 438.16,391.83 438.67,392.54 439.17,392.46 439.68,391.99 440.18,391.58 440.69,392.19 441.19,393.65 441.70,395.07 442.20,395.21" fill="none" stroke="#2b7f86" stroke-width="0.55" stroke-linejoin="round"/>
<polyline points="252.60,388.23 253.11,388.31 253.62,387.93 254.13,386.88 254.64,386.59 255.15,386.72 255.66,386.02 256.17,386.31 256.68,385.95 257.19,384.68 257.70,384.41 258.21,383.24 258.72,380.10 259.23,378.00 259.74,376.40 260.25,373.75 260.76,372.56 261.27,372.57 261.78,372.75 262.29,373.12 262.80,373.93 263.31,375.41 263.82,376.75 264.33,377.30 264.84,378.30 265.35,380.29 265.86,380.18 266.37,380.33 266.88,380.94 267.39,381.05 267.90,381.70 268.41,382.59 268.92,383.19 269.43,383.27 269.94,383.08 270.45,383.23 270.96,384.56 271.47,384.35 271.98,384.31 272.49,385.10 273.00,385.07 273.51,384.62 274.02,385.05 274.53,385.75 275.04,386.14 275.56,386.62 276.07,387.05 276.58,386.40 277.09,386.15 277.60,386.84 278.11,386.54 278.62,386.53 279.13,386.59 279.64,386.65 280.15,386.79 280.66,386.30 281.17,386.22 281.68,386.77 282.19,386.40 282.70,385.98 283.21,386.94 283.72,387.28 284.23,386.49 284.74,386.15 285.25,387.05 285.76,387.52 286.27,386.15 286.78,386.21 287.29,386.67 287.80,386.44 288.31,386.17 288.82,386.13 289.33,386.52 289.84,386.16 290.35,386.93 290.86,388.55 291.37,388.47 291.88,387.56 292.39,386.86 292.90,386.73 293.41,387.03 293.92,386.41 294.43,386.99 294.94,387.83 295.45,387.35 295.96,386.80 296.47,387.36 296.98,388.63 297.49,388.55 298.00,387.82" fill="none" stroke="#3d6e35" stroke-width="0.55" stroke-linejoin="round"/>
<polyline points="300.20,390.49 300.71,390.54 301.22,390.96 301.73,390.68 302.24,390.90 302.75,391.52 303.26,391.39 303.77,390.49 304.28,390.67 304.79,390.98 305.30,391.23 305.81,391.28 306.32,391.16 306.83,390.81 307.34,391.23 307.85,391.39 308.36,390.41 308.87,390.91 309.38,392.14 309.89,391.97 310.40,391.06 310.91,390.14 311.42,390.44 311.93,391.26 312.44,391.16 312.95,392.03 313.46,391.03 313.97,390.15 314.48,391.37 314.99,392.11 315.50,391.69 316.01,390.60 316.52,390.03 317.03,390.07 317.54,390.44 318.05,390.90 318.56,390.81 319.07,390.60 319.58,390.61 320.09,390.14 320.60,389.93 321.11,389.34 321.62,388.90 322.13,390.01 322.64,390.51 323.16,390.66 323.67,389.71 324.18,389.43 324.69,389.59 325.20,389.48 325.71,389.00 326.22,388.32 326.73,388.95 327.24,388.50 327.75,388.14 328.26,389.61 328.77,390.42 329.28,389.68 329.79,389.00 330.30,388.67 330.81,388.75 331.32,390.13 331.83,390.64 332.34,389.99 332.85,389.71 333.36,389.54 333.87,390.06 334.38,389.99 334.89,389.92 335.40,391.90 335.91,394.16 336.42,396.32 336.93,399.01 337.44,401.66 337.95,404.20 338.46,401.37 338.97,397.02 339.48,393.46 339.99,390.41 340.50,390.74 341.01,390.78 341.52,390.58 342.03,391.14 342.54,391.48 343.05,390.92 343.56,391.24 344.07,391.29 344.58,390.64 345.09,391.26 345.60,391.40" fill="none" stroke="#3d6e35" stroke-width="0.55" stroke-linejoin="round"/>
<polyline points="349.60,392.34 350.11,391.94 350.61,391.62 351.12,391.12 351.62,390.80 352.13,390.35 352.63,390.04 353.14,389.70 353.64,389.40 354.15,388.72 354.66,387.91 355.16,387.41 355.67,386.44 356.17,385.43 356.68,385.75 357.18,385.93 357.69,385.48 358.20,385.99 358.70,386.89 359.21,387.78 359.71,388.30 360.22,388.86 360.72,390.24 361.23,390.38 361.73,389.58 362.24,388.93 362.75,388.55 363.25,390.82 363.76,393.10 364.26,392.77 364.77,391.97 365.27,392.22 365.78,391.42 366.29,391.00 366.79,391.72 367.30,392.72 367.80,392.50 368.31,391.95 368.81,392.72 369.32,393.05 369.82,392.60 370.33,391.88 370.84,391.17 371.34,391.99 371.85,393.45 372.35,392.78 372.86,392.41 373.36,392.06 373.87,391.91 374.38,392.85 374.88,392.76 375.39,392.51 375.89,393.22 376.40,393.48 376.90,392.79 377.41,393.25 377.91,394.30 378.42,394.08 378.93,393.61 379.43,393.52 379.94,393.67 380.44,392.87 380.95,392.99 381.45,393.20 381.96,392.86 382.47,393.21 382.97,393.36 383.48,394.18 383.98,394.24 384.49,393.48 384.99,393.57 385.50,393.70 386.00,392.75 386.51,391.96 387.02,392.47 387.52,394.12 388.03,394.26 388.53,393.73 389.04,394.42 389.54,393.61 390.05,393.68 390.56,394.64 391.06,394.33 391.57,394.41 392.07,393.33 392.58,393.03 393.08,393.28 393.59,393.38 394.09,394.00 394.60,393.70" fill="none" stroke="#3d6e35" stroke-width="0.55" stroke-linejoin="round"/>
<polyline points="397.30,394.65 397.80,394.94 398.31,393.83 398.81,393.40 399.32,393.66 399.82,394.73 400.33,394.42 400.83,393.97 401.34,394.40 401.84,394.22 402.34,394.14 402.85,393.84 403.35,394.02 403.86,393.87 404.36,393.91 404.87,393.99 405.37,394.21 405.88,394.80 406.38,394.21 406.89,393.33 407.39,393.52 407.89,392.86 408.40,392.79 408.90,393.25 409.41,392.74 409.91,392.26 410.42,392.49 410.92,393.35 411.43,393.19 411.93,392.56 412.43,392.52 412.94,392.81 413.44,392.53 413.95,392.34 414.45,392.35 414.96,392.49 415.46,393.58 415.97,393.59 416.47,393.58 416.98,393.10 417.48,391.65 417.98,391.71 418.49,392.11 418.99,392.27 419.50,392.29 420.00,391.88 420.51,391.97 421.01,391.95 421.52,391.76 422.02,391.87 422.52,391.56 423.03,391.35 423.53,390.82 424.04,390.84 424.54,391.27 425.05,390.72 425.55,391.44 426.06,391.60 426.56,389.86 427.07,389.00 427.57,389.07 428.07,388.73 428.58,389.39 429.08,389.99 429.59,390.11 430.09,390.10 430.60,390.16 431.10,391.33 431.61,391.61 432.11,391.13 432.61,393.73 433.12,397.13 433.62,400.43 434.13,403.60 434.63,404.74 435.14,399.95 435.64,393.99 436.15,390.31 436.65,391.70 437.16,392.09 437.66,392.06 438.16,393.81 438.67,394.17 439.17,393.30 439.68,394.09 440.18,395.05 440.69,394.60 441.19,395.19 441.70,396.19 442.20,396.42" fill="none" stroke="#3d6e35" stroke-width="0.55" stroke-linejoin="round"/>
<polyline points="252.60,387.18 253.11,386.82 253.62,385.71 254.13,386.01 254.64,386.81 255.15,386.58 255.66,384.92 256.17,383.87 256.68,385.05 257.19,386.17 257.70,385.10 258.21,383.72 258.72,382.28 259.23,379.33 259.74,375.73 260.25,373.66 260.76,373.05 261.27,372.60 261.78,373.24 262.29,373.55 262.80,374.14 263.31,375.57 263.82,376.56 264.33,377.99 264.84,378.97 265.35,379.56 265.86,380.07 266.37,380.90 266.88,381.77 267.39,383.14 267.90,384.24 268.41,384.16 268.92,384.77 269.43,384.84 269.94,385.25 270.45,385.98 270.96,386.69 271.47,386.87 271.98,386.06 272.49,386.01 273.00,386.65 273.51,386.16 274.02,386.59 274.53,387.76 275.04,387.28 275.56,388.02 276.07,388.68 276.58,387.64 277.09,388.47 277.60,388.60 278.11,387.97 278.62,387.59 279.13,387.20 279.64,388.85 280.15,389.02 280.66,388.06 281.17,388.51 281.68,388.65 282.19,388.37 282.70,388.42 283.21,389.02 283.72,390.23 284.23,390.76 284.74,391.22 285.25,390.54 285.76,389.53 286.27,389.89 286.78,389.91 287.29,389.99 287.80,388.93 288.31,389.13 288.82,389.74 289.33,388.78 289.84,388.78 290.35,388.62 290.86,387.86 291.37,387.84 291.88,387.43 292.39,386.99 292.90,388.01 293.41,388.57 293.92,387.65 294.43,386.38 294.94,386.83 295.45,387.82 295.96,387.60 296.47,386.90 296.98,386.83 297.49,386.99 298.00,386.92" fill="none" stroke="#dd8222" stroke-width="0.55" stroke-linejoin="round"/>
<polyline points="300.20,394.63 300.71,394.72 301.22,394.25 301.73,394.60 302.24,394.71 302.75,395.02 303.26,394.37 303.77,394.14 304.28,394.71 304.79,394.91 305.30,395.45 305.81,395.31 306.32,394.58 306.83,394.01 307.34,394.35 307.85,394.40 308.36,393.55 308.87,393.18 309.38,394.17 309.89,394.36 310.40,394.11 310.91,394.58 311.42,394.15 311.93,394.01 312.44,395.19 312.95,395.98 313.46,395.66 313.97,395.33 314.48,395.05 314.99,394.89 315.50,395.18 316.01,394.37 316.52,393.69 317.03,394.04 317.54,394.41 318.05,393.96 318.56,394.27 319.07,394.26 319.58,394.16 320.09,394.30 320.60,393.34 321.11,393.90 321.62,392.96 322.13,392.40 322.64,393.72 323.16,392.88 323.67,392.33 324.18,392.32 324.69,392.22 325.20,392.29 325.71,392.54 326.22,392.65 326.73,392.12 327.24,392.34 327.75,392.29 328.26,393.18 328.77,394.02 329.28,394.11 329.79,394.44 330.30,394.64 330.81,393.87 331.32,393.59 331.83,394.14 332.34,394.16 332.85,394.38 333.36,393.86 333.87,393.40 334.38,393.26 334.89,394.49 335.40,396.89 335.91,397.93 336.42,399.86 336.93,401.73 337.44,403.16 337.95,405.20 338.46,402.46 338.97,398.66 339.48,394.70 339.99,391.54 340.50,393.15 341.01,393.13 341.52,392.66 342.03,393.33 342.54,392.71 343.05,391.53 343.56,391.47 344.07,392.41 344.58,393.23 345.09,393.26 345.60,392.65" fill="none" stroke="#dd8222" stroke-width="0.55" stroke-linejoin="round"/>
<polyline points="349.60,392.49 350.11,392.17 350.61,391.79 351.12,390.86 351.62,389.84 352.13,389.91 352.63,390.15 353.14,390.37 353.64,389.49 354.15,388.41 354.66,388.30 355.16,387.59 355.67,386.53 356.17,385.55 356.68,386.48 357.18,386.76 357.69,387.16 358.20,388.03 358.70,387.28 359.21,387.54 359.71,387.53 360.22,387.51 360.72,388.53 361.23,389.23 361.73,389.38 362.24,389.18 362.75,389.70 363.25,390.55 363.76,390.82 364.26,391.09 364.77,392.03 365.27,393.03 365.78,393.55 366.29,393.03 366.79,392.67 367.30,393.63 367.80,394.32 368.31,394.95 368.81,394.89 369.32,394.75 369.82,394.67 370.33,394.12 370.84,394.30 371.34,395.17 371.85,394.65 372.35,394.01 372.86,394.41 373.36,394.70 373.87,395.66 374.38,396.07 374.88,396.06 375.39,395.38 375.89,395.44 376.40,396.75 376.90,396.85 377.41,396.91 377.91,396.38 378.42,396.05 378.93,397.12 379.43,397.07 379.94,396.23 380.44,395.78 380.95,396.01 381.45,396.52 381.96,396.36 382.47,396.04 382.97,395.90 383.48,395.80 383.98,396.18 384.49,396.27 384.99,396.28 385.50,396.52 386.00,396.91 386.51,396.72 387.02,395.52 387.52,395.67 388.03,396.04 388.53,395.95 389.04,396.02 389.54,396.01 390.05,396.21 390.56,395.42 391.06,395.70 391.57,395.78 392.07,395.08 392.58,395.66 393.08,395.40 393.59,395.00 394.09,395.72 394.60,395.79" fill="none" stroke="#dd8222" stroke-width="0.55" stroke-linejoin="round"/>
<polyline points="397.30,393.58 397.80,393.25 398.31,393.53 398.81,394.42 399.32,394.42 399.82,393.77 400.33,394.16 400.83,395.31 401.34,395.20 401.84,394.43 402.34,395.02 402.85,395.49 403.35,395.69 403.86,395.50 404.36,395.06 404.87,394.85 405.37,395.50 405.88,396.10 406.38,396.26 406.89,396.48 407.39,397.01 407.89,397.35 408.40,396.95 408.90,396.84 409.41,396.67 409.91,396.60 410.42,396.53 410.92,397.14 411.43,397.00 411.93,395.89 412.43,395.88 412.94,396.23 413.44,395.45 413.95,393.95 414.45,394.11 414.96,395.34 415.46,394.96 415.97,394.59 416.47,394.82 416.98,394.64 417.48,394.03 417.98,393.39 418.49,394.14 418.99,394.38 419.50,392.43 420.00,392.47 420.51,394.26 421.01,393.49 421.52,392.86 422.02,392.48 422.52,392.03 423.03,392.30 423.53,391.89 424.04,392.11 424.54,392.48 425.05,392.24 425.55,392.27 426.06,390.94 426.56,390.58 427.07,390.70 427.57,390.25 428.07,390.95 428.58,391.68 429.08,392.75 429.59,393.65 430.09,394.41 430.60,396.36 431.10,397.15 431.61,397.86 432.11,398.72 432.61,400.19 433.12,401.51 433.62,402.37 434.13,403.80 434.63,404.13 435.14,399.72 435.64,394.67 436.15,391.96 436.65,392.92 437.16,393.39 437.66,393.24 438.16,393.96 438.67,394.76 439.17,394.41 439.68,395.18 440.18,395.18 440.69,394.66 441.19,395.95 441.70,396.66 442.20,396.52" fill="none" stroke="#dd8222" stroke-width="0.55" stroke-linejoin="round"/>
<line x1="260.30" y1="365.30" x2="260.30" y2="410.60" stroke="#444" stroke-width="0.7"/>
<rect x="252.20" y="365.30" width="46.20" height="45.30" fill="none" stroke="#3c3c3c" stroke-width="0.8"/>
<line x1="338.50" y1="365.30" x2="338.50" y2="410.60" stroke="#444" stroke-width="0.7"/>
<rect x="299.80" y="365.30" width="46.20" height="45.30" fill="none" stroke="#3c3c3c" stroke-width="0.8"/>
<line x1="357.00" y1="365.30" x2="357.00" y2="410.60" stroke="#9c9c9c" stroke-width="1.3"/>
<rect x="349.20" y="365.30" width="45.80" height="45.30" fill="none" stroke="#3c3c3c" stroke-width="0.8"/>
<line x1="434.50" y1="365.30" x2="434.50" y2="410.60" stroke="#9c9c9c" stroke-width="1.3"/>
<rect x="396.90" y="365.30" width="45.70" height="45.30" fill="none" stroke="#3c3c3c" stroke-width="0.8"/>
<text x="0" y="0" font-size="6.6" text-anchor="middle" fill="#222" stroke="#222" stroke-width="0.3" transform="translate(229.6 387.95) rotate(-90) scale(0.735 1)">Motif score (mean)</text>
<text stroke="#333" stroke-width="0.07" x="0" y="0" font-size="5.3" text-anchor="end" fill="#333" transform="translate(257.50 417.10) rotate(-45)">-50</text>
<text stroke="#333" stroke-width="0.07" x="0" y="0" font-size="5.3" text-anchor="end" fill="#333" transform="translate(262.50 417.10) rotate(-45)">0</text>
<text stroke="#333" stroke-width="0.07" x="0" y="0" font-size="5.3" text-anchor="end" fill="#333" transform="translate(284.55 417.10) rotate(-45)">125</text>
<text stroke="#333" stroke-width="0.07" x="0" y="0" font-size="5.3" text-anchor="end" fill="#333" transform="translate(297.90 417.10) rotate(-45)">250</text>
<text stroke="#333" stroke-width="0.07" x="0" y="0" font-size="5.3" text-anchor="end" fill="#333" transform="translate(305.20 417.10) rotate(-45)">-250</text>
<text stroke="#333" stroke-width="0.07" x="0" y="0" font-size="5.3" text-anchor="end" fill="#333" transform="translate(324.35 417.10) rotate(-45)">-125</text>
<text stroke="#333" stroke-width="0.07" x="0" y="0" font-size="5.3" text-anchor="end" fill="#333" transform="translate(340.40 417.10) rotate(-45)">0</text>
<text stroke="#333" stroke-width="0.07" x="0" y="0" font-size="5.3" text-anchor="end" fill="#333" transform="translate(346.80 417.10) rotate(-45)">50</text>
<text stroke="#333" stroke-width="0.07" x="0" y="0" font-size="5.3" text-anchor="end" fill="#333" transform="translate(354.50 417.10) rotate(-45)">-50</text>
<text stroke="#333" stroke-width="0.07" x="0" y="0" font-size="5.3" text-anchor="end" fill="#333" transform="translate(359.20 417.10) rotate(-45)">0</text>
<text stroke="#333" stroke-width="0.07" x="0" y="0" font-size="5.3" text-anchor="end" fill="#333" transform="translate(381.20 417.10) rotate(-45)">125</text>
<text stroke="#333" stroke-width="0.07" x="0" y="0" font-size="5.3" text-anchor="end" fill="#333" transform="translate(394.50 417.10) rotate(-45)">250</text>
<text stroke="#333" stroke-width="0.07" x="0" y="0" font-size="5.3" text-anchor="end" fill="#333" transform="translate(402.30 417.10) rotate(-45)">-250</text>
<text stroke="#333" stroke-width="0.07" x="0" y="0" font-size="5.3" text-anchor="end" fill="#333" transform="translate(420.90 417.10) rotate(-45)">-125</text>
<text stroke="#333" stroke-width="0.07" x="0" y="0" font-size="5.3" text-anchor="end" fill="#333" transform="translate(436.40 417.10) rotate(-45)">0</text>
<text stroke="#333" stroke-width="0.07" x="0" y="0" font-size="5.3" text-anchor="end" fill="#333" transform="translate(443.40 417.10) rotate(-45)">50</text>
<line x1="260.40" y1="430.60" x2="434.80" y2="430.60" stroke="#9a9a9a" stroke-width="0.8"/>
<rect x="253.10" y="428.50" width="7.30" height="4.20" fill="#c8c8c8" stroke="#444" stroke-width="0.5"/>
<rect x="338.60" y="428.40" width="18.50" height="4.50" fill="#3aa535" stroke="#1f6d1c" stroke-width="0.5"/>
<rect x="434.80" y="428.40" width="7.70" height="4.40" fill="#c8c8c8" stroke="#444" stroke-width="0.5"/>
<line x1="295.90" y1="432.20" x2="302.70" y2="429.20" stroke="#333" stroke-width="0.9"/>
<line x1="392.20" y1="432.20" x2="399.00" y2="429.20" stroke="#333" stroke-width="0.9"/>
<text stroke="#333" stroke-width="0.07" x="0" y="0" font-size="5.3" text-anchor="end" fill="#333" transform="translate(257.50 439.40) rotate(-45)">-50</text>
<text stroke="#333" stroke-width="0.07" x="0" y="0" font-size="5.3" text-anchor="end" fill="#333" transform="translate(262.50 439.40) rotate(-45)">0</text>
<text stroke="#333" stroke-width="0.07" x="0" y="0" font-size="5.3" text-anchor="end" fill="#333" transform="translate(284.55 439.40) rotate(-45)">125</text>
<text stroke="#333" stroke-width="0.07" x="0" y="0" font-size="5.3" text-anchor="end" fill="#333" transform="translate(297.90 439.40) rotate(-45)">250</text>
<text stroke="#333" stroke-width="0.07" x="0" y="0" font-size="5.3" text-anchor="end" fill="#333" transform="translate(305.20 439.40) rotate(-45)">-250</text>
<text stroke="#333" stroke-width="0.07" x="0" y="0" font-size="5.3" text-anchor="end" fill="#333" transform="translate(324.35 439.40) rotate(-45)">-125</text>
<text stroke="#333" stroke-width="0.07" x="0" y="0" font-size="5.3" text-anchor="end" fill="#333" transform="translate(340.40 439.40) rotate(-45)">0</text>
<text stroke="#333" stroke-width="0.07" x="0" y="0" font-size="5.3" text-anchor="end" fill="#333" transform="translate(346.80 439.40) rotate(-45)">50</text>
<text stroke="#333" stroke-width="0.07" x="0" y="0" font-size="5.3" text-anchor="end" fill="#333" transform="translate(354.50 439.40) rotate(-45)">-50</text>
<text stroke="#333" stroke-width="0.07" x="0" y="0" font-size="5.3" text-anchor="end" fill="#333" transform="translate(359.20 439.40) rotate(-45)">0</text>
<text stroke="#333" stroke-width="0.07" x="0" y="0" font-size="5.3" text-anchor="end" fill="#333" transform="translate(381.20 439.40) rotate(-45)">125</text>
<text stroke="#333" stroke-width="0.07" x="0" y="0" font-size="5.3" text-anchor="end" fill="#333" transform="translate(394.50 439.40) rotate(-45)">250</text>
<text stroke="#333" stroke-width="0.07" x="0" y="0" font-size="5.3" text-anchor="end" fill="#333" transform="translate(402.30 439.40) rotate(-45)">-250</text>
<text stroke="#333" stroke-width="0.07" x="0" y="0" font-size="5.3" text-anchor="end" fill="#333" transform="translate(420.90 439.40) rotate(-45)">-125</text>
<text stroke="#333" stroke-width="0.07" x="0" y="0" font-size="5.3" text-anchor="end" fill="#333" transform="translate(436.40 439.40) rotate(-45)">0</text>
<text stroke="#333" stroke-width="0.07" x="0" y="0" font-size="5.3" text-anchor="end" fill="#333" transform="translate(443.40 439.40) rotate(-45)">50</text>
<rect x="252.20" y="450.20" width="46.20" height="45.40" fill="none" stroke="#3c3c3c" stroke-width="0.8"/>
<rect x="299.80" y="450.20" width="46.20" height="45.40" fill="none" stroke="#3c3c3c" stroke-width="0.8"/>
<rect x="349.20" y="450.20" width="45.80" height="45.40" fill="none" stroke="#3c3c3c" stroke-width="0.8"/>
<rect x="396.90" y="450.20" width="45.70" height="45.40" fill="none" stroke="#3c3c3c" stroke-width="0.8"/>
<polyline points="252.60,494.19 252.95,493.06 253.30,493.98 253.66,494.89 254.01,493.25 254.36,494.30 254.71,493.70 255.06,494.79 255.42,493.78 255.77,493.70 256.12,494.85 256.47,494.66 256.82,493.83 257.18,493.00 257.53,493.17 257.88,494.24 258.23,494.25 258.58,493.28 258.93,494.65 259.29,494.28 259.64,493.74 259.99,493.94 260.34,494.11 260.69,493.71 261.05,494.36 261.40,493.92 261.75,493.93 262.10,494.48 262.45,494.24 262.81,493.25 263.16,494.01 263.51,493.47 263.86,494.09 264.21,494.23 264.57,493.31 264.92,494.51 265.27,494.93 265.62,494.21 265.97,493.43 266.33,493.93 266.68,494.16 267.03,494.26 267.38,494.29 267.73,493.64 268.09,493.76 268.44,494.39 268.79,495.20 269.14,494.16 269.49,494.01 269.84,494.33 270.20,494.89 270.55,494.06 270.90,492.73 271.25,493.75 271.60,493.66 271.96,493.47 272.31,493.31 272.66,493.51 273.01,495.20 273.36,494.37 273.72,494.12 274.07,493.34 274.42,493.78 274.77,494.18 275.12,493.90 275.48,493.90 275.83,494.83 276.18,494.70 276.53,494.26 276.88,493.18 277.24,494.04 277.59,493.41 277.94,493.61 278.29,493.89 278.64,494.15 279.00,494.48 279.35,492.76 279.70,494.33 280.05,493.66 280.40,493.95 280.76,493.50 281.11,494.77 281.46,493.97 281.81,494.39 282.16,493.55 282.51,494.48 282.87,494.07 283.22,493.55 283.57,493.87 283.92,493.66 284.27,493.55 284.63,494.66 284.98,494.10 285.33,493.75 285.68,493.15 286.03,494.47 286.39,493.91 286.74,493.77 287.09,493.52 287.44,494.71 287.79,494.54 288.15,493.75 288.50,493.67 288.85,493.73 289.20,493.86 289.55,493.92 289.91,493.21 290.26,493.58 290.61,493.92 290.96,494.47 291.31,494.22 291.67,494.01 292.02,493.52 292.37,494.12 292.72,494.35 293.07,494.42 293.42,494.60 293.78,493.78 294.13,493.63 294.48,494.48 294.83,493.70 295.18,494.25 295.54,493.96 295.89,493.18 296.24,493.95 296.59,493.82 296.94,493.75 297.30,493.69 297.65,493.26 298.00,493.63" fill="none" stroke="#f3d2b0" stroke-width="0.4" stroke-linejoin="round"/>
<polyline points="300.20,495.20 300.55,494.53 300.90,495.20 301.26,493.91 301.61,494.84 301.96,495.05 302.31,493.55 302.66,494.38 303.02,494.85 303.37,495.20 303.72,494.33 304.07,494.97 304.42,494.21 304.78,495.01 305.13,495.20 305.48,495.20 305.83,493.73 306.18,493.90 306.53,493.74 306.89,494.27 307.24,493.79 307.59,495.20 307.94,494.64 308.29,495.20 308.65,494.54 309.00,494.63 309.35,494.48 309.70,494.72 310.05,494.79 310.41,494.73 310.76,494.24 311.11,493.96 311.46,494.63 311.81,495.03 312.17,494.86 312.52,493.99 312.87,495.07 313.22,494.32 313.57,493.65 313.93,494.54 314.28,493.79 314.63,495.18 314.98,494.65 315.33,494.10 315.69,494.25 316.04,494.51 316.39,494.27 316.74,494.10 317.09,495.20 317.44,494.29 317.80,494.22 318.15,493.51 318.50,494.81 318.85,494.73 319.20,494.87 319.56,494.06 319.91,495.20 320.26,494.02 320.61,493.98 320.96,494.47 321.32,494.45 321.67,494.92 322.02,495.20 322.37,494.70 322.72,495.20 323.08,494.97 323.43,494.26 323.78,493.73 324.13,494.45 324.48,493.92 324.84,494.10 325.19,494.65 325.54,494.28 325.89,494.97 326.24,493.49 326.60,493.88 326.95,495.20 327.30,494.98 327.65,494.67 328.00,494.88 328.36,493.82 328.71,493.90 329.06,494.95 329.41,493.42 329.76,494.78 330.11,493.35 330.47,495.17 330.82,494.76 331.17,494.39 331.52,494.69 331.87,494.63 332.23,494.00 332.58,493.78 332.93,494.34 333.28,494.74 333.63,493.97 333.99,494.56 334.34,495.20 334.69,494.42 335.04,494.41 335.39,493.64 335.75,495.20 336.10,494.39 336.45,494.29 336.80,493.86 337.15,495.05 337.51,494.51 337.86,494.69 338.21,494.36 338.56,493.90 338.91,494.64 339.27,494.71 339.62,494.09 339.97,494.08 340.32,494.43 340.67,494.27 341.02,495.20 341.38,495.20 341.73,494.31 342.08,494.12 342.43,495.02 342.78,494.71 343.14,494.56 343.49,494.47 343.84,494.95 344.19,494.65 344.54,494.66 344.90,494.85 345.25,493.19 345.60,494.61" fill="none" stroke="#f3d2b0" stroke-width="0.4" stroke-linejoin="round"/>
<polyline points="349.60,494.42 349.95,494.56 350.30,494.00 350.65,493.37 351.00,494.38 351.34,494.19 351.69,493.88 352.04,493.97 352.39,493.89 352.74,494.15 353.09,494.12 353.44,493.56 353.79,494.03 354.13,493.67 354.48,493.38 354.83,493.96 355.18,494.46 355.53,494.18 355.88,494.20 356.23,494.70 356.58,494.31 356.93,494.07 357.27,493.94 357.62,494.74 357.97,493.81 358.32,493.82 358.67,494.41 359.02,494.51 359.37,493.53 359.72,494.37 360.07,494.01 360.41,494.13 360.76,493.91 361.11,494.03 361.46,494.70 361.81,494.34 362.16,493.75 362.51,493.89 362.86,493.54 363.20,493.12 363.55,493.75 363.90,494.43 364.25,494.34 364.60,493.60 364.95,495.16 365.30,494.51 365.65,493.74 366.00,494.07 366.34,494.10 366.69,493.90 367.04,494.78 367.39,494.88 367.74,494.05 368.09,494.28 368.44,494.25 368.79,493.91 369.13,493.49 369.48,493.42 369.83,494.19 370.18,494.11 370.53,494.04 370.88,494.09 371.23,494.15 371.58,493.85 371.93,493.18 372.27,493.07 372.62,494.52 372.97,494.02 373.32,493.36 373.67,493.62 374.02,494.20 374.37,494.71 374.72,494.55 375.07,494.19 375.41,494.17 375.76,493.46 376.11,494.09 376.46,493.72 376.81,494.03 377.16,493.20 377.51,494.19 377.86,493.73 378.20,494.38 378.55,493.22 378.90,494.26 379.25,494.03 379.60,493.64 379.95,494.10 380.30,493.57 380.65,494.53 381.00,493.15 381.34,495.18 381.69,493.46 382.04,493.18 382.39,492.98 382.74,494.12 383.09,493.72 383.44,493.39 383.79,493.38 384.13,493.17 384.48,494.12 384.83,494.05 385.18,494.05 385.53,493.14 385.88,494.05 386.23,493.57 386.58,493.87 386.93,493.48 387.27,494.11 387.62,494.47 387.97,493.86 388.32,494.06 388.67,493.88 389.02,493.43 389.37,494.05 389.72,493.49 390.07,493.98 390.41,494.27 390.76,494.63 391.11,493.54 391.46,494.43 391.81,494.78 392.16,494.08 392.51,494.14 392.86,494.27 393.20,494.27 393.55,493.91 393.90,494.28 394.25,492.68 394.60,493.39" fill="none" stroke="#f3d2b0" stroke-width="0.4" stroke-linejoin="round"/>
<polyline points="397.30,494.13 397.65,494.07 398.00,494.62 398.34,493.98 398.69,493.34 399.04,494.00 399.39,494.26 399.74,494.60 400.08,494.94 400.43,493.32 400.78,493.71 401.13,493.92 401.48,494.45 401.82,493.91 402.17,493.70 402.52,493.89 402.87,493.40 403.22,493.69 403.57,494.20 403.91,493.96 404.26,493.32 404.61,493.11 404.96,494.64 405.31,494.67 405.65,493.95 406.00,493.89 406.35,494.41 406.70,494.44 407.05,494.65 407.39,494.87 407.74,494.13 408.09,492.94 408.44,494.35 408.79,493.84 409.13,493.13 409.48,494.36 409.83,494.85 410.18,493.74 410.53,494.28 410.87,494.50 411.22,494.17 411.57,494.31 411.92,493.86 412.27,493.88 412.61,493.97 412.96,494.22 413.31,494.06 413.66,493.52 414.01,493.66 414.36,494.13 414.70,494.07 415.05,493.83 415.40,494.21 415.75,493.78 416.10,494.85 416.44,493.99 416.79,495.20 417.14,494.30 417.49,493.42 417.84,494.46 418.18,493.82 418.53,493.80 418.88,493.94 419.23,494.90 419.58,494.02 419.92,493.54 420.27,493.22 420.62,493.60 420.97,493.89 421.32,493.72 421.66,494.02 422.01,493.72 422.36,493.98 422.71,492.75 423.06,494.80 423.40,493.28 423.75,493.89 424.10,493.90 424.45,494.06 424.80,494.35 425.14,494.04 425.49,494.58 425.84,493.28 426.19,494.72 426.54,493.91 426.89,494.69 427.23,494.22 427.58,494.41 427.93,494.39 428.28,494.88 428.63,493.44 428.97,494.00 429.32,494.42 429.67,493.96 430.02,495.02 430.37,493.59 430.71,494.92 431.06,493.75 431.41,493.03 431.76,494.51 432.11,493.10 432.45,493.99 432.80,494.66 433.15,494.58 433.50,494.36 433.85,493.83 434.19,494.02 434.54,493.28 434.89,493.67 435.24,493.57 435.59,493.56 435.93,494.44 436.28,493.74 436.63,493.60 436.98,493.54 437.33,494.48 437.68,493.82 438.02,494.00 438.37,493.98 438.72,493.76 439.07,494.23 439.42,494.11 439.76,493.50 440.11,493.57 440.46,493.44 440.81,493.84 441.16,494.86 441.50,493.69 441.85,494.35 442.20,493.29" fill="none" stroke="#f3d2b0" stroke-width="0.4" stroke-linejoin="round"/>
<polyline points="252.60,479.80 252.95,482.67 253.30,479.21 253.66,486.05 254.01,483.56 254.36,484.05 254.71,487.39 255.06,487.77 255.42,485.88 255.77,488.76 256.12,486.13 256.47,490.35 256.82,488.91 257.18,489.32 257.53,488.59 257.88,491.33 258.23,488.61 258.58,485.89 258.93,484.01 259.29,491.46 259.64,485.06 259.99,484.90 260.34,483.37 260.69,483.28 261.05,479.61 261.40,480.06 261.75,481.71 262.10,477.39 262.45,482.55 262.81,480.93 263.16,481.53 263.51,480.49 263.86,483.83 264.21,482.28 264.57,480.15 264.92,480.34 265.27,486.95 265.62,481.10 265.97,481.27 266.33,487.27 266.68,481.57 267.03,486.96 267.38,482.85 267.73,482.37 268.09,485.01 268.44,481.67 268.79,485.17 269.14,486.66 269.49,483.88 269.84,485.10 270.20,488.06 270.55,484.90 270.90,487.50 271.25,486.53 271.60,486.04 271.96,484.62 272.31,486.41 272.66,487.76 273.01,485.13 273.36,487.27 273.72,486.22 274.07,487.01 274.42,485.79 274.77,487.98 275.12,488.24 275.48,488.29 275.83,484.27 276.18,488.52 276.53,487.44 276.88,485.72 277.24,486.82 277.59,490.25 277.94,489.77 278.29,490.74 278.64,487.49 279.00,486.92 279.35,487.56 279.70,488.33 280.05,491.73 280.40,489.70 280.76,486.04 281.11,485.02 281.46,488.18 281.81,483.80 282.16,486.65 282.51,485.28 282.87,483.27 283.22,484.83 283.57,480.89 283.92,479.80 284.27,479.38 284.63,481.61 284.98,475.71 285.33,478.01 285.68,480.06 286.03,478.40 286.39,481.90 286.74,480.61 287.09,483.28 287.44,483.00 287.79,482.47 288.15,484.77 288.50,486.79 288.85,481.51 289.20,483.84 289.55,487.33 289.91,486.69 290.26,485.23 290.61,489.35 290.96,487.95 291.31,489.81 291.67,489.23 292.02,487.02 292.37,485.91 292.72,486.76 293.07,487.43 293.42,488.89 293.78,486.08 294.13,489.92 294.48,490.16 294.83,489.95 295.18,490.13 295.54,490.18 295.89,490.55 296.24,491.80 296.59,491.35 296.94,491.99 297.30,489.28 297.65,490.27 298.00,491.39" fill="none" stroke="#c4c4ea" stroke-width="0.45" stroke-linejoin="round"/>
<polyline points="300.20,492.87 300.55,494.80 300.90,493.96 301.26,489.63 301.61,494.25 301.96,492.95 302.31,492.27 302.66,493.83 303.02,494.73 303.37,492.93 303.72,490.07 304.07,491.68 304.42,493.50 304.78,493.81 305.13,490.59 305.48,489.83 305.83,492.15 306.18,494.89 306.53,495.20 306.89,492.81 307.24,488.42 307.59,494.46 307.94,493.61 308.29,491.62 308.65,489.42 309.00,491.55 309.35,493.47 309.70,492.84 310.05,491.41 310.41,490.69 310.76,487.90 311.11,487.72 311.46,489.00 311.81,492.76 312.17,490.32 312.52,489.60 312.87,489.37 313.22,491.01 313.57,487.59 313.93,489.52 314.28,483.74 314.63,487.15 314.98,485.02 315.33,487.43 315.69,490.05 316.04,483.64 316.39,484.39 316.74,476.63 317.09,484.45 317.44,483.28 317.80,482.55 318.15,479.76 318.50,477.71 318.85,482.13 319.20,484.19 319.56,485.20 319.91,485.15 320.26,486.98 320.61,486.80 320.96,482.18 321.32,487.85 321.67,491.25 322.02,486.71 322.37,484.76 322.72,489.61 323.08,488.51 323.43,485.93 323.78,485.27 324.13,487.56 324.48,481.42 324.84,487.47 325.19,483.21 325.54,482.49 325.89,482.29 326.24,480.25 326.60,484.46 326.95,480.87 327.30,476.11 327.65,477.77 328.00,476.93 328.36,478.58 328.71,471.64 329.06,472.57 329.41,474.11 329.76,472.73 330.11,468.86 330.47,468.35 330.82,463.79 331.17,468.74 331.52,462.78 331.87,459.59 332.23,459.50 332.58,457.92 332.93,454.38 333.28,456.90 333.63,453.45 333.99,458.96 334.34,458.50 334.69,456.10 335.04,452.56 335.39,459.00 335.75,461.00 336.10,459.84 336.45,460.81 336.80,463.55 337.15,465.08 337.51,467.10 337.86,468.62 338.21,473.66 338.56,473.09 338.91,476.36 339.27,479.41 339.62,477.28 339.97,484.09 340.32,484.58 340.67,482.97 341.02,488.07 341.38,486.81 341.73,489.70 342.08,490.47 342.43,488.68 342.78,491.03 343.14,489.12 343.49,489.70 343.84,486.93 344.19,493.58 344.54,492.59 344.90,490.06 345.25,485.97 345.60,489.74" fill="none" stroke="#c4c4ea" stroke-width="0.45" stroke-linejoin="round"/>
<polyline points="349.60,484.00 349.95,488.45 350.30,482.41 350.65,482.83 351.00,482.80 351.34,482.21 351.69,482.52 352.04,479.76 352.39,480.81 352.74,475.79 353.09,478.18 353.44,477.62 353.79,475.95 354.13,476.78 354.48,474.50 354.83,475.41 355.18,476.99 355.53,475.27 355.88,474.49 356.23,473.50 356.58,477.63 356.93,477.52 357.27,476.42 357.62,477.08 357.97,473.47 358.32,480.54 358.67,481.81 359.02,481.54 359.37,482.71 359.72,478.41 360.07,483.00 360.41,480.71 360.76,487.36 361.11,482.89 361.46,486.23 361.81,486.72 362.16,485.39 362.51,485.00 362.86,487.31 363.20,487.66 363.55,486.57 363.90,487.11 364.25,484.36 364.60,483.08 364.95,482.70 365.30,483.83 365.65,483.51 366.00,487.72 366.34,482.35 366.69,485.49 367.04,486.28 367.39,481.89 367.74,482.13 368.09,479.85 368.44,482.79 368.79,480.92 369.13,483.36 369.48,479.87 369.83,476.78 370.18,481.66 370.53,481.95 370.88,481.44 371.23,480.77 371.58,484.14 371.93,484.66 372.27,486.34 372.62,482.77 372.97,489.73 373.32,487.36 373.67,487.50 374.02,490.88 374.37,491.00 374.72,483.65 375.07,490.49 375.41,486.93 375.76,490.04 376.11,485.29 376.46,488.71 376.81,489.89 377.16,489.24 377.51,489.67 377.86,488.99 378.20,487.79 378.55,483.35 378.90,489.10 379.25,487.93 379.60,485.51 379.95,484.54 380.30,487.88 380.65,484.47 381.00,484.19 381.34,484.97 381.69,483.10 382.04,488.07 382.39,481.78 382.74,486.49 383.09,485.29 383.44,484.38 383.79,482.51 384.13,480.18 384.48,481.95 384.83,479.36 385.18,483.60 385.53,479.77 385.88,481.62 386.23,482.24 386.58,482.55 386.93,478.86 387.27,480.69 387.62,476.36 387.97,477.20 388.32,481.07 388.67,479.78 389.02,477.50 389.37,477.18 389.72,475.96 390.07,477.25 390.41,479.62 390.76,476.73 391.11,482.03 391.46,478.00 391.81,484.07 392.16,484.07 392.51,484.19 392.86,482.23 393.20,485.82 393.55,482.52 393.90,484.41 394.25,492.07 394.60,490.33" fill="none" stroke="#c4c4ea" stroke-width="0.45" stroke-linejoin="round"/>
<polyline points="397.30,473.10 397.65,476.64 398.00,475.26 398.34,474.18 398.69,479.54 399.04,474.55 399.39,476.03 399.74,480.18 400.08,476.15 400.43,478.42 400.78,477.39 401.13,481.31 401.48,480.08 401.82,478.05 402.17,479.02 402.52,483.35 402.87,481.47 403.22,484.82 403.57,479.64 403.91,485.11 404.26,481.52 404.61,483.36 404.96,484.01 405.31,484.28 405.65,482.93 406.00,485.96 406.35,487.16 406.70,488.26 407.05,490.18 407.39,485.89 407.74,489.67 408.09,487.93 408.44,490.45 408.79,491.02 409.13,490.24 409.48,491.72 409.83,491.63 410.18,491.42 410.53,495.20 410.87,488.79 411.22,489.02 411.57,488.36 411.92,490.24 412.27,488.29 412.61,488.37 412.96,490.53 413.31,485.99 413.66,485.15 414.01,490.65 414.36,482.19 414.70,483.89 415.05,479.41 415.40,481.58 415.75,483.79 416.10,486.04 416.44,479.99 416.79,479.08 417.14,480.67 417.49,480.81 417.84,479.12 418.18,478.19 418.53,481.90 418.88,478.54 419.23,478.98 419.58,474.26 419.92,475.40 420.27,471.77 420.62,475.44 420.97,473.37 421.32,472.73 421.66,473.01 422.01,468.26 422.36,467.85 422.71,471.39 423.06,468.44 423.40,470.95 423.75,467.55 424.10,464.64 424.45,465.06 424.80,464.53 425.14,465.54 425.49,464.29 425.84,464.00 426.19,461.20 426.54,461.99 426.89,464.78 427.23,463.56 427.58,458.79 427.93,459.41 428.28,458.83 428.63,461.74 428.97,461.34 429.32,460.77 429.67,463.57 430.02,461.36 430.37,464.26 430.71,466.74 431.06,468.06 431.41,469.62 431.76,470.28 432.11,476.17 432.45,479.72 432.80,481.31 433.15,482.67 433.50,483.63 433.85,486.25 434.19,487.77 434.54,485.76 434.89,485.36 435.24,484.98 435.59,489.34 435.93,484.16 436.28,484.89 436.63,482.35 436.98,482.00 437.33,486.11 437.68,482.74 438.02,482.13 438.37,483.52 438.72,485.94 439.07,485.98 439.42,483.06 439.76,485.05 440.11,486.12 440.46,486.61 440.81,485.02 441.16,488.87 441.50,485.66 441.85,481.19 442.20,489.47" fill="none" stroke="#c4c4ea" stroke-width="0.45" stroke-linejoin="round"/>
<line x1="260.30" y1="450.20" x2="260.30" y2="495.60" stroke="#444" stroke-width="0.7"/>
<rect x="252.20" y="450.20" width="46.20" height="45.40" fill="none" stroke="#3c3c3c" stroke-width="0.8"/>
<line x1="338.50" y1="450.20" x2="338.50" y2="495.60" stroke="#444" stroke-width="0.7"/>
<rect x="299.80" y="450.20" width="46.20" height="45.40" fill="none" stroke="#3c3c3c" stroke-width="0.8"/>
<line x1="357.00" y1="450.20" x2="357.00" y2="495.60" stroke="#9c9c9c" stroke-width="1.3"/>
<rect x="349.20" y="450.20" width="45.80" height="45.40" fill="none" stroke="#3c3c3c" stroke-width="0.8"/>
<line x1="434.50" y1="450.20" x2="434.50" y2="495.60" stroke="#9c9c9c" stroke-width="1.3"/>
<rect x="396.90" y="450.20" width="45.70" height="45.40" fill="none" stroke="#3c3c3c" stroke-width="0.8"/>
<line x1="442.60" y1="450.80" x2="445.40" y2="450.80" stroke="#3c3c3c" stroke-width="0.6"/>
<text stroke="#333" stroke-width="0.07" x="447.80" y="452.60" font-size="5.0" text-anchor="start" fill="#333">7.151</text>
<line x1="442.60" y1="462.00" x2="445.40" y2="462.00" stroke="#3c3c3c" stroke-width="0.6"/>
<text stroke="#333" stroke-width="0.07" x="447.80" y="463.80" font-size="5.0" text-anchor="start" fill="#333">5.363</text>
<line x1="442.60" y1="473.40" x2="445.40" y2="473.40" stroke="#3c3c3c" stroke-width="0.6"/>
<text stroke="#333" stroke-width="0.07" x="447.80" y="475.20" font-size="5.0" text-anchor="start" fill="#333">3.575</text>
<line x1="442.60" y1="485.00" x2="445.40" y2="485.00" stroke="#3c3c3c" stroke-width="0.6"/>
<text stroke="#333" stroke-width="0.07" x="447.80" y="486.80" font-size="5.0" text-anchor="start" fill="#333">1.788</text>
<line x1="442.60" y1="495.60" x2="445.40" y2="495.60" stroke="#3c3c3c" stroke-width="0.6"/>
<text stroke="#333" stroke-width="0.07" x="447.80" y="497.40" font-size="5.0" text-anchor="start" fill="#333">0.0</text>
<text x="0" y="0" font-size="6.6" text-anchor="middle" fill="#222" stroke="#222" stroke-width="0.3" transform="translate(466.40 472.90) rotate(90) scale(0.71 1)">Negative log10(P-value)</text>
<text stroke="#333" stroke-width="0.07" x="477.60" y="377.05" font-size="4.85" text-anchor="start" fill="#333">Motif Score</text>
<line x1="477.60" y1="384.00" x2="484.10" y2="384.00" stroke="#d8d8c8" stroke-width="1.0"/>
<text stroke="#333" stroke-width="0.07" x="487.40" y="385.75" font-size="4.85" text-anchor="start" fill="#333">+Inclusion</text>
<line x1="477.60" y1="392.40" x2="484.10" y2="392.40" stroke="#c8ccd8" stroke-width="1.0"/>
<text stroke="#333" stroke-width="0.07" x="487.40" y="394.15" font-size="4.85" text-anchor="start" fill="#333">-Inclusion</text>
<line x1="477.60" y1="400.60" x2="484.10" y2="400.60" stroke="#a8b0a8" stroke-width="1.0"/>
<text stroke="#333" stroke-width="0.07" x="487.40" y="402.35" font-size="4.85" text-anchor="start" fill="#333">Background</text>
<text stroke="#333" stroke-width="0.07" x="476.90" y="466.60" font-size="5.0" fill="#333">-Log<tspan font-size="3.2" dy="1">10</tspan><tspan dy="-1">(PValue)</tspan></text>
<line x1="476.90" y1="473.10" x2="479.40" y2="473.10" stroke="#8a8a8a" stroke-width="0.8"/>
<line x1="481.90" y1="473.10" x2="484.40" y2="473.10" stroke="#8a8a8a" stroke-width="0.8"/>
<text stroke="#333" stroke-width="0.07" x="489.20" y="474.81" font-size="4.75" text-anchor="start" fill="#333">+Inclusion</text>
<line x1="476.90" y1="481.50" x2="479.40" y2="481.50" stroke="#c8c8c8" stroke-width="0.8"/>
<line x1="481.90" y1="481.50" x2="484.40" y2="481.50" stroke="#c8c8c8" stroke-width="0.8"/>
<text stroke="#333" stroke-width="0.07" x="489.20" y="483.21" font-size="4.75" text-anchor="start" fill="#333">-Inclusion</text>
<text stroke="#222" stroke-width="0.14" x="302.90" y="514.80" font-size="6.95" text-anchor="start" fill="#222">HNRNPC – [ACT]TTTTT[GT]</text>
<rect x="253.10" y="518.50" width="45.50" height="45.20" fill="none" stroke="#3c3c3c" stroke-width="0.8"/>
<rect x="299.80" y="518.50" width="46.20" height="45.20" fill="none" stroke="#3c3c3c" stroke-width="0.8"/>
<rect x="349.70" y="518.50" width="45.00" height="45.20" fill="none" stroke="#3c3c3c" stroke-width="0.8"/>
<rect x="396.40" y="518.50" width="45.70" height="45.20" fill="none" stroke="#3c3c3c" stroke-width="0.8"/>
<line x1="250.40" y1="518.50" x2="252.40" y2="518.50" stroke="#3c3c3c" stroke-width="0.6"/>
<text stroke="#333" stroke-width="0.07" x="246.60" y="520.26" font-size="4.9" text-anchor="end" fill="#333">0.324</text>
<line x1="250.40" y1="530.20" x2="252.40" y2="530.20" stroke="#3c3c3c" stroke-width="0.6"/>
<text stroke="#333" stroke-width="0.07" x="246.60" y="531.96" font-size="4.9" text-anchor="end" fill="#333">0.243</text>
<line x1="250.40" y1="541.00" x2="252.40" y2="541.00" stroke="#3c3c3c" stroke-width="0.6"/>
<text stroke="#333" stroke-width="0.07" x="246.60" y="542.76" font-size="4.9" text-anchor="end" fill="#333">0.162</text>
<line x1="250.40" y1="552.30" x2="252.40" y2="552.30" stroke="#3c3c3c" stroke-width="0.6"/>
<text stroke="#333" stroke-width="0.07" x="246.60" y="554.06" font-size="4.9" text-anchor="end" fill="#333">0.081</text>
<line x1="250.40" y1="563.70" x2="252.40" y2="563.70" stroke="#3c3c3c" stroke-width="0.6"/>
<text stroke="#333" stroke-width="0.07" x="246.60" y="565.46" font-size="4.9" text-anchor="end" fill="#333">0.0</text>
<polyline points="253.50,561.08 254.00,561.42 254.50,560.94 255.01,560.98 255.51,561.37 256.01,560.81 256.51,560.64 257.02,560.58 257.52,560.71 258.02,561.14 258.52,561.32 259.02,561.28 259.53,560.55 260.03,556.03 260.53,553.00 261.03,553.68 261.54,553.93 262.04,554.09 262.54,553.47 263.04,553.59 263.54,554.07 264.05,553.94 264.55,553.72 265.05,553.77 265.55,554.03 266.06,554.34 266.56,554.50 267.06,554.77 267.56,554.67 268.07,554.52 268.57,554.92 269.07,554.72 269.57,554.45 270.07,554.96 270.58,555.34 271.08,555.08 271.58,555.05 272.08,554.94 272.59,554.90 273.09,554.92 273.59,554.91 274.09,555.26 274.59,555.15 275.10,555.11 275.60,554.96 276.10,554.70 276.60,554.63 277.11,554.67 277.61,555.00 278.11,554.97 278.61,554.90 279.11,555.24 279.62,555.62 280.12,555.05 280.62,554.99 281.12,554.88 281.63,554.45 282.13,554.80 282.63,554.99 283.13,554.79 283.63,554.60 284.14,554.85 284.64,554.86 285.14,554.68 285.64,554.91 286.15,555.18 286.65,554.94 287.15,554.66 287.65,554.59 288.16,554.41 288.66,554.22 289.16,554.01 289.66,554.20 290.16,554.33 290.67,554.08 291.17,554.07 291.67,554.14 292.17,554.34 292.68,554.08 293.18,553.59 293.68,553.62 294.18,553.44 294.68,553.61 295.19,553.93 295.69,553.72 296.19,553.41 296.69,553.34 297.20,553.53 297.70,553.40 298.20,553.05" fill="none" stroke="#5a7fa8" stroke-width="0.55" stroke-linejoin="round"/>
<polyline points="300.20,552.69 300.71,552.41 301.22,552.44 301.73,552.57 302.24,553.19 302.75,552.97 303.26,552.85 303.77,553.50 304.28,553.20 304.79,552.76 305.30,552.95 305.81,553.38 306.32,553.76 306.83,553.69 307.34,553.56 307.85,553.26 308.36,552.70 308.87,552.42 309.38,552.35 309.89,552.66 310.40,552.56 310.91,551.84 311.42,551.47 311.93,551.23 312.44,550.39 312.95,549.73 313.46,550.56 313.97,551.08 314.48,550.73 314.99,550.78 315.50,551.70 316.01,552.09 316.52,552.25 317.03,553.01 317.54,552.52 318.05,552.79 318.56,553.34 319.07,552.86 319.58,552.86 320.09,553.30 320.60,553.58 321.11,553.62 321.62,553.45 322.13,553.72 322.64,554.29 323.16,554.49 323.67,554.45 324.18,554.53 324.69,554.85 325.20,554.56 325.71,554.12 326.22,553.92 326.73,553.68 327.24,553.57 327.75,552.89 328.26,552.46 328.77,552.78 329.28,552.21 329.79,551.61 330.30,552.27 330.81,552.18 331.32,551.13 331.83,550.60 332.34,549.75 332.85,548.62 333.36,547.76 333.87,547.01 334.38,545.07 334.89,542.92 335.40,541.11 335.91,538.86 336.42,534.82 336.93,530.49 337.44,525.89 337.95,521.16 338.46,546.02 338.97,561.03 339.48,561.16 339.99,560.82 340.50,560.92 341.01,561.30 341.52,561.21 342.03,560.96 342.54,560.28 343.05,560.74 343.56,561.31 344.07,560.49 344.58,560.66 345.09,560.99 345.60,561.00" fill="none" stroke="#5a7fa8" stroke-width="0.55" stroke-linejoin="round"/>
<polyline points="350.10,561.12 350.60,561.17 351.09,561.04 351.59,560.47 352.09,560.58 352.58,560.62 353.08,560.73 353.58,561.34 354.07,561.32 354.57,561.37 355.07,561.25 355.56,560.95 356.06,560.81 356.56,561.27 357.05,555.07 357.55,543.86 358.05,544.22 358.54,544.55 359.04,545.05 359.54,545.62 360.03,546.01 360.53,546.12 361.03,546.29 361.52,546.64 362.02,546.73 362.52,546.97 363.01,547.81 363.51,547.88 364.01,547.82 364.50,548.87 365.00,548.91 365.50,548.16 365.99,548.54 366.49,549.55 366.99,550.36 367.48,549.93 367.98,549.84 368.48,550.37 368.97,550.35 369.47,550.16 369.97,550.78 370.46,551.27 370.96,551.35 371.46,551.81 371.95,552.42 372.45,552.65 372.94,551.93 373.44,551.57 373.94,552.03 374.43,551.75 374.93,551.39 375.43,551.70 375.92,551.39 376.42,551.02 376.92,550.96 377.41,551.26 377.91,551.48 378.41,551.59 378.90,551.70 379.40,551.58 379.90,551.50 380.39,551.50 380.89,551.46 381.39,551.03 381.88,551.28 382.38,551.69 382.88,551.89 383.37,551.60 383.87,550.92 384.37,550.59 384.86,549.82 385.36,549.84 385.86,550.82 386.35,550.91 386.85,550.22 387.35,550.55 387.84,551.00 388.34,550.79 388.84,550.82 389.33,550.87 389.83,551.08 390.33,550.72 390.82,550.56 391.32,550.83 391.82,551.14 392.31,551.02 392.81,551.14 393.31,551.51 393.80,551.50 394.30,551.21" fill="none" stroke="#5a7fa8" stroke-width="0.55" stroke-linejoin="round"/>
<polyline points="396.80,553.30 397.30,553.43 397.81,552.94 398.31,552.90 398.82,553.16 399.32,553.23 399.83,553.52 400.33,553.36 400.84,553.52 401.34,553.63 401.84,553.45 402.35,553.98 402.85,554.25 403.36,553.97 403.86,554.30 404.37,554.61 404.87,554.08 405.38,554.08 405.88,554.19 406.39,554.35 406.89,554.32 407.39,554.41 407.90,554.39 408.40,554.60 408.91,555.14 409.41,555.28 409.92,555.13 410.42,554.37 410.93,554.22 411.43,554.64 411.93,555.39 412.44,555.57 412.94,555.42 413.45,555.10 413.95,554.68 414.46,554.81 414.96,555.19 415.47,555.14 415.97,554.81 416.48,555.30 416.98,555.17 417.48,554.80 417.99,554.69 418.49,554.64 419.00,555.13 419.50,555.45 420.01,554.96 420.51,554.12 421.02,554.55 421.52,555.50 422.02,555.22 422.53,554.90 423.03,555.07 423.54,554.52 424.04,553.91 424.55,554.38 425.05,555.06 425.56,554.45 426.06,553.98 426.57,553.85 427.07,553.42 427.57,553.02 428.08,553.21 428.58,553.22 429.09,552.61 429.59,552.21 430.10,552.06 430.60,551.77 431.11,551.43 431.61,551.08 432.11,549.29 432.62,542.33 433.12,535.32 433.63,534.17 434.13,551.24 434.64,560.52 435.14,561.05 435.65,561.19 436.15,560.82 436.66,560.57 437.16,560.37 437.66,560.37 438.17,560.55 438.67,560.72 439.18,561.09 439.68,561.10 440.19,560.98 440.69,561.15 441.20,561.04 441.70,560.86" fill="none" stroke="#5a7fa8" stroke-width="0.55" stroke-linejoin="round"/>
<polyline points="253.50,560.91 254.00,560.97 254.50,561.20 255.01,560.92 255.51,560.95 256.01,561.23 256.51,561.23 257.02,561.24 257.52,561.32 258.02,561.05 258.52,561.19 259.02,561.67 259.53,560.89 260.03,556.25 260.53,552.25 261.03,551.76 261.54,551.85 262.04,552.16 262.54,552.03 263.04,552.08 263.54,552.09 264.05,552.29 264.55,552.46 265.05,552.15 265.55,552.12 266.06,552.22 266.56,552.05 267.06,552.33 267.56,552.86 268.07,553.13 268.57,552.86 269.07,552.61 269.57,552.61 270.07,552.85 270.58,553.24 271.08,553.21 271.58,553.16 272.08,553.23 272.59,553.41 273.09,552.89 273.59,552.07 274.09,552.48 274.59,553.10 275.10,553.05 275.60,553.00 276.10,552.83 276.60,552.45 277.11,552.56 277.61,553.03 278.11,553.35 278.61,553.00 279.11,552.88 279.62,552.90 280.12,552.86 280.62,552.75 281.12,552.74 281.63,552.82 282.13,552.82 282.63,552.84 283.13,552.67 283.63,552.84 284.14,552.95 284.64,552.93 285.14,552.90 285.64,552.99 286.15,552.87 286.65,552.86 287.15,553.31 287.65,553.04 288.16,553.09 288.66,553.57 289.16,553.24 289.66,552.44 290.16,551.93 290.67,552.16 291.17,552.89 291.67,553.02 292.17,552.75 292.68,552.52 293.18,552.15 293.68,552.25 294.18,552.13 294.68,551.96 295.19,552.29 295.69,552.30 296.19,552.27 296.69,552.12 297.20,552.10 297.70,552.25 298.20,551.72" fill="none" stroke="#3c4a40" stroke-width="0.55" stroke-linejoin="round"/>
<polyline points="300.20,552.20 300.71,552.37 301.22,552.16 301.73,552.14 302.24,552.00 302.75,551.44 303.26,551.97 303.77,552.48 304.28,551.64 304.79,551.30 305.30,551.62 305.81,551.94 306.32,552.38 306.83,552.37 307.34,551.97 307.85,552.01 308.36,552.06 308.87,551.99 309.38,551.89 309.89,551.58 310.40,551.68 310.91,551.46 311.42,550.77 311.93,550.28 312.44,549.71 312.95,549.34 313.46,549.80 313.97,550.41 314.48,550.64 314.99,550.49 315.50,551.26 316.01,551.82 316.52,551.66 317.03,551.61 317.54,551.59 318.05,552.09 318.56,551.83 319.07,551.59 319.58,552.14 320.09,552.93 320.60,553.01 321.11,552.31 321.62,552.01 322.13,552.54 322.64,552.70 323.16,552.48 323.67,553.17 324.18,553.34 324.69,552.89 325.20,552.68 325.71,552.89 326.22,553.19 326.73,552.57 327.24,551.78 327.75,551.74 328.26,552.20 328.77,552.16 329.28,551.40 329.79,551.21 330.30,551.48 330.81,551.23 331.32,550.50 331.83,549.66 332.34,548.66 332.85,547.66 333.36,546.61 333.87,545.64 334.38,543.64 334.89,541.71 335.40,539.92 335.91,537.53 336.42,533.48 336.93,529.06 337.44,524.37 337.95,520.34 338.46,545.92 338.97,560.87 339.48,560.47 339.99,560.40 340.50,560.96 341.01,561.00 341.52,560.71 342.03,560.42 342.54,560.46 343.05,561.15 343.56,561.16 344.07,561.08 344.58,561.11 345.09,561.11 345.60,561.10" fill="none" stroke="#3c4a40" stroke-width="0.55" stroke-linejoin="round"/>
<polyline points="350.10,561.09 350.60,560.96 351.09,561.01 351.59,561.14 352.09,560.66 352.58,560.87 353.08,561.20 353.58,561.12 354.07,561.55 354.57,561.47 355.07,560.82 355.56,560.61 356.06,561.08 356.56,560.90 357.05,555.31 357.55,546.18 358.05,546.19 358.54,546.47 359.04,547.19 359.54,547.31 360.03,547.41 360.53,548.03 361.03,548.18 361.52,548.19 362.02,549.03 362.52,549.58 363.01,549.38 363.51,549.69 364.01,550.78 364.50,550.76 365.00,550.84 365.50,551.50 365.99,551.41 366.49,551.52 366.99,551.55 367.48,551.91 367.98,552.59 368.48,552.18 368.97,551.89 369.47,552.26 369.97,552.31 370.46,552.50 370.96,552.55 371.46,552.74 371.95,553.05 372.45,552.82 372.94,552.88 373.44,552.98 373.94,552.54 374.43,552.39 374.93,552.70 375.43,552.38 375.92,552.41 376.42,552.15 376.92,551.57 377.41,551.71 377.91,551.57 378.41,551.68 378.90,551.76 379.40,551.72 379.90,551.33 380.39,550.61 380.89,551.04 381.39,550.90 381.88,550.73 382.38,550.66 382.88,550.37 383.37,550.70 383.87,550.51 384.37,549.87 384.86,549.66 385.36,550.15 385.86,550.30 386.35,550.20 386.85,550.18 387.35,550.08 387.84,550.02 388.34,549.73 388.84,549.90 389.33,550.17 389.83,549.60 390.33,549.56 390.82,550.22 391.32,550.66 391.82,550.13 392.31,549.72 392.81,550.15 393.31,550.30 393.80,550.02 394.30,549.96" fill="none" stroke="#3c4a40" stroke-width="0.55" stroke-linejoin="round"/>
<polyline points="396.80,551.99 397.30,551.73 397.81,552.36 398.31,552.79 398.82,552.39 399.32,552.28 399.83,552.18 400.33,552.35 400.84,552.41 401.34,552.24 401.84,552.37 402.35,552.66 402.85,552.53 403.36,552.30 403.86,552.17 404.37,552.14 404.87,552.44 405.38,552.63 405.88,552.80 406.39,552.72 406.89,552.72 407.39,552.97 407.90,552.72 408.40,552.98 408.91,553.18 409.41,553.17 409.92,553.42 410.42,553.33 410.93,552.94 411.43,552.84 411.93,553.14 412.44,552.92 412.94,552.79 413.45,552.85 413.95,552.58 414.46,552.47 414.96,552.30 415.47,552.33 415.97,552.63 416.48,552.21 416.98,552.00 417.48,552.46 417.99,552.42 418.49,552.51 419.00,552.38 419.50,552.34 420.01,552.67 420.51,552.56 421.02,552.18 421.52,552.45 422.02,552.53 422.53,552.21 423.03,552.02 423.54,551.71 424.04,551.98 424.55,551.80 425.05,551.76 425.56,552.24 426.06,551.61 426.57,550.94 427.07,551.23 427.57,550.99 428.08,550.77 428.58,550.67 429.09,549.90 429.59,549.06 430.10,549.17 430.60,549.73 431.11,549.38 431.61,549.23 432.11,547.37 432.62,540.51 433.12,534.10 433.63,533.47 434.13,551.37 434.64,560.75 435.14,560.81 435.65,560.71 436.15,560.94 436.66,560.92 437.16,560.85 437.66,560.88 438.17,560.45 438.67,560.83 439.18,561.20 439.68,561.08 440.19,561.40 440.69,561.22 441.20,561.03 441.70,561.28" fill="none" stroke="#3c4a40" stroke-width="0.55" stroke-linejoin="round"/>
<polyline points="253.50,560.72 254.00,560.78 254.50,561.06 255.01,561.11 255.51,560.81 256.01,560.95 256.51,561.27 257.02,560.76 257.52,560.43 258.02,560.40 258.52,560.54 259.02,561.11 259.53,561.20 260.03,555.79 260.53,550.75 261.03,551.28 261.54,551.58 262.04,550.94 262.54,550.68 263.04,550.74 263.54,550.78 264.05,551.05 264.55,550.92 265.05,550.78 265.55,550.94 266.06,551.01 266.56,550.72 267.06,550.46 267.56,551.02 268.07,551.00 268.57,550.54 269.07,550.65 269.57,550.49 270.07,550.28 270.58,550.77 271.08,551.13 271.58,550.49 272.08,550.20 272.59,550.14 273.09,549.76 273.59,550.04 274.09,550.71 274.59,550.67 275.10,550.64 275.60,550.41 276.10,550.09 276.60,550.33 277.11,550.30 277.61,550.49 278.11,550.58 278.61,550.22 279.11,549.77 279.62,549.75 280.12,550.03 280.62,550.02 281.12,549.66 281.63,549.37 282.13,549.88 282.63,550.32 283.13,549.99 283.63,550.01 284.14,550.24 284.64,550.08 285.14,549.84 285.64,550.11 286.15,550.36 286.65,550.39 287.15,550.38 287.65,550.08 288.16,549.71 288.66,549.54 289.16,549.47 289.66,549.52 290.16,549.66 290.67,549.87 291.17,550.09 291.67,549.79 292.17,549.53 292.68,549.23 293.18,548.95 293.68,548.94 294.18,549.08 294.68,549.16 295.19,548.92 295.69,549.00 296.19,548.71 296.69,548.66 297.20,549.14 297.70,549.40 298.20,549.01" fill="none" stroke="#e0a050" stroke-width="0.6" stroke-linejoin="round"/>
<polyline points="300.20,550.09 300.71,549.91 301.22,550.06 301.73,550.55 302.24,550.00 302.75,549.54 303.26,550.06 303.77,550.33 304.28,550.35 304.79,550.28 305.30,550.54 305.81,550.95 306.32,550.82 306.83,550.95 307.34,551.09 307.85,550.70 308.36,550.73 308.87,550.75 309.38,550.92 309.89,551.18 310.40,550.68 310.91,550.20 311.42,550.17 311.93,549.95 312.44,549.24 312.95,548.86 313.46,549.23 313.97,549.59 314.48,549.77 314.99,549.99 315.50,550.58 316.01,550.60 316.52,550.20 317.03,550.32 317.54,550.77 318.05,551.41 318.56,551.39 319.07,551.09 319.58,551.08 320.09,551.56 320.60,552.06 321.11,552.18 321.62,552.01 322.13,552.08 322.64,552.41 323.16,552.55 323.67,552.86 324.18,553.01 324.69,553.11 325.20,553.07 325.71,552.73 326.22,552.60 326.73,551.95 327.24,551.48 327.75,551.45 328.26,551.12 328.77,550.91 329.28,551.14 329.79,550.75 330.30,550.37 330.81,549.94 331.32,549.02 331.83,548.58 332.34,547.94 332.85,547.21 333.36,546.41 333.87,545.32 334.38,543.12 334.89,541.09 335.40,538.86 335.91,536.08 336.42,531.84 336.93,527.49 337.44,523.44 337.95,520.26 338.46,545.50 338.97,560.11 339.48,560.06 339.99,560.36 340.50,560.33 341.01,560.36 341.52,560.35 342.03,560.23 342.54,560.36 343.05,560.25 343.56,560.51 344.07,560.74 344.58,560.71 345.09,560.99 345.60,561.15" fill="none" stroke="#e0a050" stroke-width="0.6" stroke-linejoin="round"/>
<polyline points="350.10,561.05 350.60,561.21 351.09,561.02 351.59,560.66 352.09,560.35 352.58,560.77 353.08,561.22 353.58,561.05 354.07,560.87 354.57,561.10 355.07,561.49 355.56,561.18 356.06,560.85 356.56,560.79 357.05,555.68 357.55,546.85 358.05,547.09 358.54,547.41 359.04,547.67 359.54,547.65 360.03,548.28 360.53,548.39 361.03,547.89 361.52,548.34 362.02,548.42 362.52,548.60 363.01,549.49 363.51,549.64 364.01,549.62 364.50,549.34 365.00,549.66 365.50,550.31 365.99,550.02 366.49,550.46 366.99,550.55 367.48,549.84 367.98,549.81 368.48,550.29 368.97,550.88 369.47,551.07 369.97,551.02 370.46,550.83 370.96,551.20 371.46,551.28 371.95,550.92 372.45,551.53 372.94,551.94 373.44,551.83 373.94,552.03 374.43,551.90 374.93,551.74 375.43,551.90 375.92,551.73 376.42,551.51 376.92,551.48 377.41,550.99 377.91,551.08 378.41,550.90 378.90,550.59 379.40,550.75 379.90,550.83 380.39,550.41 380.89,549.86 381.39,549.94 381.88,549.95 382.38,550.02 382.88,549.90 383.37,549.56 383.87,549.58 384.37,549.89 384.86,549.21 385.36,548.69 385.86,549.17 386.35,549.19 386.85,549.34 387.35,549.25 387.84,548.70 388.34,548.97 388.84,548.57 389.33,548.27 389.83,549.43 390.33,549.54 390.82,549.09 391.32,548.87 391.82,548.78 392.31,548.96 392.81,549.39 393.31,549.19 393.80,548.15 394.30,548.47" fill="none" stroke="#e0a050" stroke-width="0.6" stroke-linejoin="round"/>
<polyline points="396.80,550.33 397.30,550.37 397.81,550.16 398.31,550.43 398.82,550.58 399.32,550.49 399.83,550.26 400.33,549.94 400.84,550.15 401.34,550.30 401.84,550.44 402.35,550.65 402.85,550.33 403.36,550.38 403.86,550.75 404.37,550.77 404.87,550.47 405.38,550.53 405.88,550.82 406.39,550.99 406.89,551.11 407.39,550.76 407.90,550.52 408.40,550.90 408.91,550.67 409.41,550.75 409.92,550.98 410.42,550.69 410.93,551.17 411.43,551.21 411.93,550.79 412.44,550.83 412.94,550.85 413.45,550.61 413.95,550.65 414.46,551.24 414.96,551.36 415.47,550.94 415.97,550.76 416.48,550.81 416.98,550.85 417.48,550.45 417.99,550.39 418.49,550.56 419.00,550.80 419.50,550.71 420.01,550.57 420.51,550.32 421.02,550.08 421.52,550.14 422.02,549.84 422.53,550.14 423.03,550.09 423.54,549.85 424.04,549.87 424.55,549.96 425.05,550.14 425.56,549.42 426.06,549.37 426.57,549.57 427.07,549.72 427.57,549.92 428.08,549.53 428.58,548.66 429.09,548.70 429.59,549.10 430.10,548.27 430.60,548.18 431.11,548.62 431.61,548.06 432.11,546.37 432.62,539.92 433.12,532.83 433.63,532.49 434.13,550.93 434.64,560.87 435.14,561.11 435.65,561.29 436.15,561.55 436.66,561.25 437.16,561.18 437.66,560.99 438.17,560.89 438.67,560.91 439.18,560.64 439.68,561.02 440.19,560.98 440.69,560.95 441.20,560.80 441.70,560.53" fill="none" stroke="#e0a050" stroke-width="0.6" stroke-linejoin="round"/>
<polyline points="253.50,560.87 254.00,560.73 254.50,560.88 255.01,561.30 255.51,561.21 256.01,560.68 256.51,560.57 257.02,561.22 257.52,561.32 258.02,560.65 258.52,560.67 259.02,561.00 259.53,560.92 260.03,557.25 260.53,553.38 261.03,552.72 261.54,553.21 262.04,553.73 262.54,553.56 263.04,553.45 263.54,553.26 264.05,553.87 264.55,553.87 265.05,553.48 265.55,553.67 266.06,554.24 266.56,554.67 267.06,554.29 267.56,554.49 268.07,555.19 268.57,554.92 269.07,554.39 269.57,554.80 270.07,555.14 270.58,554.80 271.08,554.60 271.58,554.85 272.08,555.19 272.59,554.86 273.09,554.82 273.59,555.27 274.09,555.58 274.59,554.92 275.10,554.38 275.60,554.83 276.10,555.26 276.60,555.08 277.11,554.61 277.61,554.94 278.11,555.20 278.61,555.26 279.11,554.82 279.62,555.16 280.12,555.29 280.62,554.95 281.12,555.33 281.63,555.14 282.13,555.05 282.63,554.78 283.13,554.63 283.63,554.85 284.14,554.52 284.64,554.48 285.14,554.58 285.64,554.88 286.15,554.85 286.65,554.19 287.15,554.25 287.65,554.46 288.16,555.04 288.66,555.46 289.16,554.82 289.66,554.13 290.16,554.56 290.67,554.73 291.17,553.71 291.67,553.66 292.17,553.58 292.68,553.70 293.18,554.13 293.68,553.48 294.18,553.16 294.68,552.83 295.19,553.31 295.69,553.78 296.19,553.45 296.69,553.66 297.20,553.32 297.70,552.79 298.20,552.73" fill="none" stroke="#2e8c8c" stroke-width="0.5" stroke-linejoin="round"/>
<polyline points="300.20,552.81 300.71,552.87 301.22,553.04 301.73,552.96 302.24,553.05 302.75,553.22 303.26,553.19 303.77,553.08 304.28,552.78 304.79,552.87 305.30,553.06 305.81,553.15 306.32,553.52 306.83,552.93 307.34,552.93 307.85,553.15 308.36,552.61 308.87,552.71 309.38,553.02 309.89,553.29 310.40,553.46 310.91,552.39 311.42,551.17 311.93,551.07 312.44,550.52 312.95,549.54 313.46,549.84 313.97,550.53 314.48,550.97 314.99,551.20 315.50,551.72 316.01,552.16 316.52,552.34 317.03,552.37 317.54,551.92 318.05,552.61 318.56,553.34 319.07,553.39 319.58,553.42 320.09,553.27 320.60,553.25 321.11,553.62 321.62,553.58 322.13,553.36 322.64,553.60 323.16,553.81 323.67,554.39 324.18,554.27 324.69,554.41 325.20,554.55 325.71,553.81 326.22,553.51 326.73,553.54 327.24,553.85 327.75,553.27 328.26,552.70 328.77,552.67 329.28,552.40 329.79,552.07 330.30,552.12 330.81,552.34 331.32,551.72 331.83,550.59 332.34,549.72 332.85,549.21 333.36,548.41 333.87,547.56 334.38,545.50 334.89,543.17 335.40,541.06 335.91,538.46 336.42,534.24 336.93,529.80 337.44,525.44 337.95,520.86 338.46,545.96 338.97,561.03 339.48,560.89 339.99,561.00 340.50,560.88 341.01,560.77 341.52,560.50 342.03,560.27 342.54,560.94 343.05,561.11 343.56,561.02 344.07,560.86 344.58,560.45 345.09,560.42 345.60,560.76" fill="none" stroke="#2e8c8c" stroke-width="0.5" stroke-linejoin="round"/>
<polyline points="350.10,561.02 350.60,560.84 351.09,561.02 351.59,560.99 352.09,560.54 352.58,560.86 353.08,561.41 353.58,561.58 354.07,561.59 354.57,561.40 355.07,561.01 355.56,561.05 356.06,561.26 356.56,561.15 357.05,554.72 357.55,543.84 358.05,544.46 358.54,544.63 359.04,544.89 359.54,545.27 360.03,546.14 360.53,546.82 361.03,546.64 361.52,546.94 362.02,547.26 362.52,547.17 363.01,547.39 363.51,547.73 364.01,548.79 364.50,548.85 365.00,547.65 365.50,548.29 365.99,548.87 366.49,548.63 366.99,549.48 367.48,549.85 367.98,549.49 368.48,549.94 368.97,550.21 369.47,550.62 369.97,550.97 370.46,551.07 370.96,551.84 371.46,552.52 371.95,551.92 372.45,551.34 372.94,551.72 373.44,551.99 373.94,551.94 374.43,551.50 374.93,551.91 375.43,552.38 375.92,552.03 376.42,551.21 376.92,551.11 377.41,551.24 377.91,551.70 378.41,552.09 378.90,551.67 379.40,551.72 379.90,551.76 380.39,551.24 380.89,551.18 381.39,551.50 381.88,550.73 382.38,550.89 382.88,551.54 383.37,551.20 383.87,551.19 384.37,550.98 384.86,551.07 385.36,551.16 385.86,550.62 386.35,551.19 386.85,551.67 387.35,551.21 387.84,551.09 388.34,551.19 388.84,551.47 389.33,551.52 389.83,551.50 390.33,551.18 390.82,550.68 391.32,550.89 391.82,551.16 392.31,551.10 392.81,550.80 393.31,550.74 393.80,551.14 394.30,551.40" fill="none" stroke="#2e8c8c" stroke-width="0.5" stroke-linejoin="round"/>
<polyline points="396.80,552.78 397.30,552.78 397.81,553.36 398.31,553.88 398.82,553.56 399.32,553.53 399.83,553.60 400.33,553.40 400.84,553.84 401.34,553.84 401.84,554.21 402.35,553.79 402.85,553.26 403.36,553.73 403.86,553.82 404.37,554.10 404.87,553.87 405.38,554.18 405.88,554.34 406.39,554.30 406.89,554.87 407.39,554.56 407.90,554.68 408.40,555.06 408.91,554.81 409.41,555.02 409.92,555.53 410.42,555.67 410.93,555.39 411.43,555.00 411.93,554.80 412.44,555.04 412.94,555.19 413.45,554.90 413.95,554.72 414.46,554.62 414.96,554.60 415.47,554.91 415.97,554.88 416.48,554.54 416.98,554.58 417.48,554.61 417.99,554.54 418.49,554.97 419.00,555.62 419.50,555.42 420.01,555.08 420.51,555.03 421.02,555.07 421.52,554.85 422.02,554.77 422.53,555.36 423.03,555.10 423.54,554.71 424.04,554.87 424.55,554.72 425.05,554.91 425.56,554.76 426.06,554.63 426.57,554.40 427.07,553.66 427.57,553.19 428.08,552.77 428.58,552.84 429.09,552.77 429.59,552.69 430.10,552.46 430.60,551.92 431.11,551.73 431.61,551.04 432.11,549.26 432.62,542.55 433.12,535.16 433.63,534.21 434.13,551.86 434.64,561.19 435.14,561.22 435.65,561.23 436.15,561.38 436.66,561.24 437.16,560.88 437.66,560.84 438.17,561.01 438.67,560.94 439.18,560.58 439.68,560.45 440.19,561.00 440.69,561.31 441.20,561.32 441.70,561.39" fill="none" stroke="#2e8c8c" stroke-width="0.5" stroke-linejoin="round"/>
<line x1="260.30" y1="518.50" x2="260.30" y2="563.70" stroke="#444" stroke-width="0.7"/>
<rect x="253.10" y="518.50" width="45.50" height="45.20" fill="none" stroke="#3c3c3c" stroke-width="0.8"/>
<line x1="338.30" y1="518.50" x2="338.30" y2="563.70" stroke="#444" stroke-width="0.7"/>
<rect x="299.80" y="518.50" width="46.20" height="45.20" fill="none" stroke="#3c3c3c" stroke-width="0.8"/>
<line x1="357.30" y1="518.50" x2="357.30" y2="563.70" stroke="#9c9c9c" stroke-width="1.3"/>
<rect x="349.70" y="518.50" width="45.00" height="45.20" fill="none" stroke="#3c3c3c" stroke-width="0.8"/>
<line x1="434.20" y1="518.50" x2="434.20" y2="563.70" stroke="#9c9c9c" stroke-width="1.3"/>
<rect x="396.40" y="518.50" width="45.70" height="45.20" fill="none" stroke="#3c3c3c" stroke-width="0.8"/>
<text x="0" y="0" font-size="6.6" text-anchor="middle" fill="#222" stroke="#222" stroke-width="0.3" transform="translate(229.6 541.10) rotate(-90) scale(0.735 1)">Motif score (mean)</text>
<text stroke="#333" stroke-width="0.07" x="0" y="0" font-size="5.3" text-anchor="end" fill="#333" transform="translate(258.40 570.20) rotate(-45)">-50</text>
<text stroke="#333" stroke-width="0.07" x="0" y="0" font-size="5.3" text-anchor="end" fill="#333" transform="translate(262.50 570.20) rotate(-45)">0</text>
<text stroke="#333" stroke-width="0.07" x="0" y="0" font-size="5.3" text-anchor="end" fill="#333" transform="translate(284.65 570.20) rotate(-45)">125</text>
<text stroke="#333" stroke-width="0.07" x="0" y="0" font-size="5.3" text-anchor="end" fill="#333" transform="translate(298.10 570.20) rotate(-45)">250</text>
<text stroke="#333" stroke-width="0.07" x="0" y="0" font-size="5.3" text-anchor="end" fill="#333" transform="translate(305.20 570.20) rotate(-45)">-250</text>
<text stroke="#333" stroke-width="0.07" x="0" y="0" font-size="5.3" text-anchor="end" fill="#333" transform="translate(324.25 570.20) rotate(-45)">-125</text>
<text stroke="#333" stroke-width="0.07" x="0" y="0" font-size="5.3" text-anchor="end" fill="#333" transform="translate(340.20 570.20) rotate(-45)">0</text>
<text stroke="#333" stroke-width="0.07" x="0" y="0" font-size="5.3" text-anchor="end" fill="#333" transform="translate(346.80 570.20) rotate(-45)">50</text>
<text stroke="#333" stroke-width="0.07" x="0" y="0" font-size="5.3" text-anchor="end" fill="#333" transform="translate(355.00 570.20) rotate(-45)">-50</text>
<text stroke="#333" stroke-width="0.07" x="0" y="0" font-size="5.3" text-anchor="end" fill="#333" transform="translate(359.50 570.20) rotate(-45)">0</text>
<text stroke="#333" stroke-width="0.07" x="0" y="0" font-size="5.3" text-anchor="end" fill="#333" transform="translate(381.20 570.20) rotate(-45)">125</text>
<text stroke="#333" stroke-width="0.07" x="0" y="0" font-size="5.3" text-anchor="end" fill="#333" transform="translate(394.20 570.20) rotate(-45)">250</text>
<text stroke="#333" stroke-width="0.07" x="0" y="0" font-size="5.3" text-anchor="end" fill="#333" transform="translate(401.80 570.20) rotate(-45)">-250</text>
<text stroke="#333" stroke-width="0.07" x="0" y="0" font-size="5.3" text-anchor="end" fill="#333" transform="translate(420.50 570.20) rotate(-45)">-125</text>
<text stroke="#333" stroke-width="0.07" x="0" y="0" font-size="5.3" text-anchor="end" fill="#333" transform="translate(436.10 570.20) rotate(-45)">0</text>
<text stroke="#333" stroke-width="0.07" x="0" y="0" font-size="5.3" text-anchor="end" fill="#333" transform="translate(442.90 570.20) rotate(-45)">50</text>
<line x1="260.40" y1="583.70" x2="434.80" y2="583.70" stroke="#9a9a9a" stroke-width="0.8"/>
<rect x="253.10" y="581.60" width="7.30" height="4.20" fill="#c8c8c8" stroke="#444" stroke-width="0.5"/>
<rect x="338.60" y="581.50" width="18.50" height="4.50" fill="#3aa535" stroke="#1f6d1c" stroke-width="0.5"/>
<rect x="434.80" y="581.50" width="7.70" height="4.40" fill="#c8c8c8" stroke="#444" stroke-width="0.5"/>
<line x1="295.90" y1="585.30" x2="302.70" y2="582.30" stroke="#333" stroke-width="0.9"/>
<line x1="392.20" y1="585.30" x2="399.00" y2="582.30" stroke="#333" stroke-width="0.9"/>
<text stroke="#333" stroke-width="0.07" x="0" y="0" font-size="5.3" text-anchor="end" fill="#333" transform="translate(258.40 592.50) rotate(-45)">-50</text>
<text stroke="#333" stroke-width="0.07" x="0" y="0" font-size="5.3" text-anchor="end" fill="#333" transform="translate(262.50 592.50) rotate(-45)">0</text>
<text stroke="#333" stroke-width="0.07" x="0" y="0" font-size="5.3" text-anchor="end" fill="#333" transform="translate(284.65 592.50) rotate(-45)">125</text>
<text stroke="#333" stroke-width="0.07" x="0" y="0" font-size="5.3" text-anchor="end" fill="#333" transform="translate(298.10 592.50) rotate(-45)">250</text>
<text stroke="#333" stroke-width="0.07" x="0" y="0" font-size="5.3" text-anchor="end" fill="#333" transform="translate(305.20 592.50) rotate(-45)">-250</text>
<text stroke="#333" stroke-width="0.07" x="0" y="0" font-size="5.3" text-anchor="end" fill="#333" transform="translate(324.25 592.50) rotate(-45)">-125</text>
<text stroke="#333" stroke-width="0.07" x="0" y="0" font-size="5.3" text-anchor="end" fill="#333" transform="translate(340.20 592.50) rotate(-45)">0</text>
<text stroke="#333" stroke-width="0.07" x="0" y="0" font-size="5.3" text-anchor="end" fill="#333" transform="translate(346.80 592.50) rotate(-45)">50</text>
<text stroke="#333" stroke-width="0.07" x="0" y="0" font-size="5.3" text-anchor="end" fill="#333" transform="translate(355.00 592.50) rotate(-45)">-50</text>
<text stroke="#333" stroke-width="0.07" x="0" y="0" font-size="5.3" text-anchor="end" fill="#333" transform="translate(359.50 592.50) rotate(-45)">0</text>
<text stroke="#333" stroke-width="0.07" x="0" y="0" font-size="5.3" text-anchor="end" fill="#333" transform="translate(381.20 592.50) rotate(-45)">125</text>
<text stroke="#333" stroke-width="0.07" x="0" y="0" font-size="5.3" text-anchor="end" fill="#333" transform="translate(394.20 592.50) rotate(-45)">250</text>
<text stroke="#333" stroke-width="0.07" x="0" y="0" font-size="5.3" text-anchor="end" fill="#333" transform="translate(401.80 592.50) rotate(-45)">-250</text>
<text stroke="#333" stroke-width="0.07" x="0" y="0" font-size="5.3" text-anchor="end" fill="#333" transform="translate(420.50 592.50) rotate(-45)">-125</text>
<text stroke="#333" stroke-width="0.07" x="0" y="0" font-size="5.3" text-anchor="end" fill="#333" transform="translate(436.10 592.50) rotate(-45)">0</text>
<text stroke="#333" stroke-width="0.07" x="0" y="0" font-size="5.3" text-anchor="end" fill="#333" transform="translate(442.90 592.50) rotate(-45)">50</text>
<rect x="253.10" y="603.10" width="45.50" height="45.20" fill="none" stroke="#3c3c3c" stroke-width="0.8"/>
<rect x="299.80" y="603.10" width="46.20" height="45.20" fill="none" stroke="#3c3c3c" stroke-width="0.8"/>
<rect x="349.70" y="603.10" width="45.00" height="45.20" fill="none" stroke="#3c3c3c" stroke-width="0.8"/>
<rect x="396.40" y="603.10" width="45.70" height="45.20" fill="none" stroke="#3c3c3c" stroke-width="0.8"/>
<polyline points="253.50,647.90 253.85,647.77 254.19,647.90 254.54,647.57 254.89,647.90 255.23,647.90 255.58,647.90 255.93,647.90 256.27,647.90 256.62,647.85 256.97,647.76 257.31,647.90 257.66,647.37 258.00,647.65 258.35,647.90 258.70,647.62 259.04,647.11 259.39,647.90 259.74,647.90 260.08,647.90 260.43,647.90 260.78,647.76 261.12,647.34 261.47,647.74 261.82,647.90 262.16,647.86 262.51,647.89 262.86,647.90 263.20,647.90 263.55,647.63 263.90,647.90 264.24,647.81 264.59,647.90 264.93,647.90 265.28,647.90 265.63,647.67 265.97,647.63 266.32,647.79 266.67,647.90 267.01,647.85 267.36,647.80 267.71,647.90 268.05,647.45 268.40,647.90 268.75,647.90 269.09,647.89 269.44,647.90 269.79,647.90 270.13,647.45 270.48,647.90 270.83,647.87 271.17,647.90 271.52,647.05 271.87,647.90 272.21,647.58 272.56,647.90 272.90,647.84 273.25,647.89 273.60,647.60 273.94,647.90 274.29,647.90 274.64,647.90 274.98,647.90 275.33,647.57 275.68,647.30 276.02,647.90 276.37,647.90 276.72,647.90 277.06,647.90 277.41,647.90 277.76,647.90 278.10,647.58 278.45,647.90 278.80,647.27 279.14,647.85 279.49,647.90 279.83,647.90 280.18,647.90 280.53,647.90 280.87,647.68 281.22,647.90 281.57,647.90 281.91,647.90 282.26,647.90 282.61,647.90 282.95,647.90 283.30,647.86 283.65,647.87 283.99,647.90 284.34,647.87 284.69,647.90 285.03,647.90 285.38,647.90 285.73,647.90 286.07,647.61 286.42,647.90 286.77,647.41 287.11,647.90 287.46,647.90 287.80,647.90 288.15,647.90 288.50,647.61 288.84,647.90 289.19,647.64 289.54,647.90 289.88,647.90 290.23,647.90 290.58,647.90 290.92,647.87 291.27,647.90 291.62,647.65 291.96,647.45 292.31,647.90 292.66,647.90 293.00,647.90 293.35,647.54 293.70,647.33 294.04,647.90 294.39,647.90 294.73,647.90 295.08,647.90 295.43,647.90 295.77,647.31 296.12,647.72 296.47,647.88 296.81,647.90 297.16,647.90 297.51,647.83 297.85,647.80 298.20,647.57" fill="none" stroke="#c4c4ea" stroke-width="0.35" stroke-linejoin="round"/>
<polyline points="300.20,647.08 300.55,647.61 300.90,647.81 301.26,647.90 301.61,647.39 301.96,647.76 302.31,647.72 302.66,647.73 303.02,647.54 303.37,647.90 303.72,647.89 304.07,647.89 304.42,647.85 304.78,647.73 305.13,646.93 305.48,647.80 305.83,647.90 306.18,646.92 306.53,647.90 306.89,647.33 307.24,647.45 307.59,647.90 307.94,647.85 308.29,647.62 308.65,647.31 309.00,647.53 309.35,647.90 309.70,647.90 310.05,647.90 310.41,647.27 310.76,647.90 311.11,647.18 311.46,647.90 311.81,647.86 312.17,647.90 312.52,647.90 312.87,646.91 313.22,647.80 313.57,647.69 313.93,647.70 314.28,647.47 314.63,647.90 314.98,647.48 315.33,647.90 315.69,647.48 316.04,647.36 316.39,647.32 316.74,647.19 317.09,647.68 317.44,647.90 317.80,647.90 318.15,647.62 318.50,647.44 318.85,647.90 319.20,647.65 319.56,647.90 319.91,647.90 320.26,647.63 320.61,647.79 320.96,647.79 321.32,647.63 321.67,647.49 322.02,647.90 322.37,647.90 322.72,647.90 323.08,647.65 323.43,647.69 323.78,647.48 324.13,647.13 324.48,647.90 324.84,647.84 325.19,647.90 325.54,647.90 325.89,647.90 326.24,647.87 326.60,647.59 326.95,647.90 327.30,647.90 327.65,647.90 328.00,647.23 328.36,647.90 328.71,647.40 329.06,647.90 329.41,647.87 329.76,647.76 330.11,647.90 330.47,647.90 330.82,647.90 331.17,647.90 331.52,647.90 331.87,647.62 332.23,647.90 332.58,647.90 332.93,647.19 333.28,647.76 333.63,647.90 333.99,647.13 334.34,647.90 334.69,647.90 335.04,647.90 335.39,647.90 335.75,647.90 336.10,647.76 336.45,647.34 336.80,647.43 337.15,647.51 337.51,647.11 337.86,647.90 338.21,647.38 338.56,647.90 338.91,647.90 339.27,647.72 339.62,647.90 339.97,647.34 340.32,647.53 340.67,647.90 341.02,647.82 341.38,647.78 341.73,647.69 342.08,647.90 342.43,647.82 342.78,647.90 343.14,647.68 343.49,647.90 343.84,647.55 344.19,647.72 344.54,647.46 344.90,647.86 345.25,647.90 345.60,647.26" fill="none" stroke="#c4c4ea" stroke-width="0.35" stroke-linejoin="round"/>
<polyline points="350.10,647.40 350.44,647.65 350.79,647.90 351.13,647.88 351.47,647.90 351.81,647.90 352.16,647.55 352.50,647.90 352.84,647.67 353.18,647.67 353.53,647.84 353.87,647.19 354.21,647.90 354.55,647.53 354.90,647.90 355.24,647.85 355.58,647.90 355.92,647.54 356.27,647.68 356.61,647.90 356.95,646.92 357.30,647.90 357.64,647.90 357.98,647.90 358.32,647.90 358.67,647.74 359.01,647.90 359.35,647.90 359.69,647.90 360.04,647.80 360.38,647.66 360.72,647.31 361.06,647.90 361.41,646.93 361.75,647.65 362.09,647.87 362.43,647.90 362.78,647.90 363.12,647.90 363.46,647.68 363.81,647.90 364.15,647.30 364.49,647.90 364.83,647.74 365.18,647.53 365.52,647.54 365.86,647.78 366.20,647.64 366.55,647.90 366.89,647.51 367.23,647.81 367.57,647.81 367.92,647.81 368.26,647.82 368.60,647.61 368.94,647.57 369.29,647.46 369.63,647.20 369.97,647.89 370.32,647.90 370.66,647.58 371.00,647.58 371.34,647.67 371.69,647.62 372.03,647.23 372.37,647.90 372.71,647.90 373.06,647.52 373.40,647.90 373.74,647.62 374.08,647.72 374.43,647.90 374.77,647.90 375.11,647.90 375.46,647.90 375.80,647.70 376.14,647.60 376.48,647.84 376.83,647.85 377.17,647.51 377.51,647.55 377.85,647.90 378.20,647.90 378.54,647.71 378.88,647.54 379.22,647.69 379.57,647.40 379.91,647.69 380.25,647.90 380.59,647.77 380.94,647.90 381.28,647.86 381.62,647.90 381.97,647.74 382.31,647.90 382.65,647.31 382.99,647.68 383.34,647.33 383.68,647.90 384.02,647.90 384.36,647.59 384.71,647.90 385.05,647.68 385.39,647.25 385.73,647.69 386.08,647.90 386.42,647.71 386.76,647.90 387.10,647.90 387.45,647.90 387.79,647.90 388.13,647.13 388.48,647.65 388.82,646.71 389.16,647.54 389.50,647.90 389.85,647.46 390.19,647.55 390.53,647.90 390.87,647.90 391.22,647.66 391.56,647.70 391.90,647.90 392.24,647.90 392.59,647.69 392.93,647.90 393.27,647.83 393.61,647.90 393.96,647.90 394.30,647.68" fill="none" stroke="#c4c4ea" stroke-width="0.35" stroke-linejoin="round"/>
<polyline points="396.80,647.68 397.15,647.57 397.50,647.36 397.84,647.33 398.19,647.90 398.54,647.90 398.89,647.39 399.24,647.90 399.58,647.60 399.93,647.90 400.28,647.31 400.63,647.90 400.98,647.03 401.32,647.83 401.67,647.90 402.02,647.77 402.37,647.49 402.72,647.90 403.07,647.90 403.41,647.90 403.76,647.90 404.11,647.80 404.46,647.59 404.81,647.89 405.15,647.90 405.50,647.28 405.85,647.66 406.20,647.44 406.55,647.31 406.89,647.08 407.24,647.40 407.59,647.90 407.94,647.66 408.29,647.09 408.63,647.35 408.98,647.90 409.33,647.90 409.68,647.76 410.03,647.90 410.37,647.63 410.72,647.73 411.07,647.90 411.42,647.90 411.77,647.71 412.11,647.90 412.46,647.68 412.81,647.78 413.16,647.79 413.51,647.90 413.86,647.72 414.20,647.90 414.55,647.90 414.90,647.05 415.25,647.77 415.60,647.28 415.94,647.90 416.29,647.90 416.64,647.90 416.99,647.17 417.34,647.90 417.68,647.65 418.03,647.50 418.38,647.90 418.73,647.90 419.08,647.90 419.42,647.90 419.77,647.90 420.12,647.90 420.47,647.77 420.82,647.04 421.16,647.84 421.51,647.84 421.86,647.46 422.21,647.46 422.56,647.46 422.90,647.34 423.25,647.40 423.60,647.61 423.95,647.88 424.30,647.54 424.64,647.80 424.99,647.90 425.34,647.34 425.69,647.59 426.04,647.26 426.39,647.33 426.73,647.88 427.08,647.90 427.43,647.65 427.78,647.90 428.13,647.51 428.47,647.90 428.82,647.58 429.17,647.74 429.52,647.90 429.87,647.75 430.21,647.90 430.56,647.74 430.91,647.53 431.26,647.90 431.61,647.60 431.95,647.07 432.30,647.76 432.65,647.64 433.00,647.56 433.35,647.90 433.69,647.90 434.04,647.08 434.39,647.90 434.74,647.90 435.09,647.85 435.43,647.90 435.78,647.74 436.13,647.84 436.48,647.48 436.83,647.87 437.18,647.90 437.52,647.30 437.87,647.48 438.22,647.90 438.57,647.43 438.92,646.95 439.26,647.90 439.61,647.90 439.96,647.90 440.31,647.89 440.66,647.90 441.00,647.90 441.35,647.51 441.70,647.32" fill="none" stroke="#c4c4ea" stroke-width="0.35" stroke-linejoin="round"/>
<polyline points="253.50,643.68 253.85,645.77 254.19,640.88 254.54,640.48 254.89,644.96 255.23,641.86 255.58,638.32 255.93,639.94 256.27,638.76 256.62,640.33 256.97,642.27 257.31,639.77 257.66,640.77 258.00,644.88 258.35,647.90 258.70,646.12 259.04,641.29 259.39,636.00 259.74,645.16 260.08,638.57 260.43,637.61 260.78,634.39 261.12,633.17 261.47,628.94 261.82,630.84 262.16,623.25 262.51,622.43 262.86,622.48 263.20,621.67 263.55,622.54 263.90,621.26 264.24,617.64 264.59,612.97 264.93,614.55 265.28,613.50 265.63,613.45 265.97,612.14 266.32,614.18 266.67,616.36 267.01,621.47 267.36,620.87 267.71,626.56 268.05,625.85 268.40,624.23 268.75,623.42 269.09,622.36 269.44,618.10 269.79,620.27 270.13,616.66 270.48,616.47 270.83,616.14 271.17,617.15 271.52,612.61 271.87,611.42 272.21,609.53 272.56,614.74 272.90,613.89 273.25,614.84 273.60,613.16 273.94,617.91 274.29,618.14 274.64,617.59 274.98,615.32 275.33,618.53 275.68,618.07 276.02,616.51 276.37,616.16 276.72,619.60 277.06,615.63 277.41,613.03 277.76,615.36 278.10,616.17 278.45,616.20 278.80,610.12 279.14,611.23 279.49,612.72 279.83,609.96 280.18,610.26 280.53,606.06 280.87,605.65 281.22,612.54 281.57,608.41 281.91,606.87 282.26,606.25 282.61,604.30 282.95,603.72 283.30,603.60 283.65,609.65 283.99,613.08 284.34,616.81 284.69,618.65 285.03,622.19 285.38,626.10 285.73,629.49 286.07,633.95 286.42,632.55 286.77,630.64 287.11,632.22 287.46,631.06 287.80,633.21 288.15,634.53 288.50,639.12 288.84,636.84 289.19,639.00 289.54,636.86 289.88,639.34 290.23,635.82 290.58,638.81 290.92,639.98 291.27,636.77 291.62,633.29 291.96,631.15 292.31,631.74 292.66,630.68 293.00,634.03 293.35,623.79 293.70,624.06 294.04,624.95 294.39,622.63 294.73,625.18 295.08,619.84 295.43,619.57 295.77,616.63 296.12,620.53 296.47,619.43 296.81,616.40 297.16,615.28 297.51,616.84 297.85,611.28 298.20,610.66" fill="none" stroke="#e6b488" stroke-width="0.45" stroke-linejoin="round"/>
<polyline points="300.20,639.94 300.55,638.65 300.90,633.32 301.26,635.45 301.61,637.12 301.96,630.67 302.31,633.69 302.66,628.99 303.02,627.55 303.37,633.56 303.72,629.57 304.07,633.84 304.42,639.91 304.78,637.69 305.13,636.18 305.48,639.75 305.83,643.92 306.18,647.50 306.53,641.46 306.89,644.93 307.24,645.22 307.59,647.78 307.94,646.08 308.29,644.52 308.65,644.08 309.00,646.60 309.35,645.20 309.70,644.13 310.05,643.33 310.41,646.28 310.76,644.12 311.11,643.35 311.46,646.86 311.81,646.06 312.17,643.44 312.52,646.68 312.87,647.78 313.22,646.17 313.57,647.90 313.93,642.43 314.28,647.90 314.63,645.90 314.98,647.80 315.33,642.37 315.69,638.89 316.04,641.01 316.39,637.91 316.74,636.70 317.09,630.42 317.44,632.93 317.80,630.37 318.15,627.49 318.50,629.62 318.85,633.41 319.20,632.91 319.56,632.79 319.91,637.70 320.26,635.42 320.61,634.83 320.96,644.48 321.32,638.39 321.67,643.32 322.02,642.93 322.37,639.32 322.72,643.79 323.08,642.25 323.43,642.52 323.78,640.96 324.13,644.79 324.48,645.96 324.84,641.32 325.19,647.65 325.54,645.97 325.89,639.69 326.24,638.34 326.60,642.49 326.95,640.68 327.30,640.42 327.65,637.97 328.00,640.21 328.36,635.36 328.71,635.82 329.06,638.11 329.41,634.96 329.76,633.48 330.11,633.99 330.47,633.69 330.82,633.04 331.17,630.86 331.52,632.07 331.87,631.88 332.23,630.14 332.58,632.10 332.93,628.48 333.28,628.93 333.63,632.40 333.99,629.37 334.34,633.79 334.69,634.70 335.04,635.35 335.39,641.11 335.75,639.78 336.10,639.25 336.45,640.01 336.80,640.78 337.15,643.77 337.51,643.80 337.86,641.97 338.21,641.50 338.56,644.41 338.91,640.38 339.27,646.56 339.62,644.67 339.97,643.82 340.32,646.16 340.67,645.92 341.02,642.52 341.38,647.90 341.73,643.52 342.08,644.35 342.43,647.90 342.78,647.76 343.14,644.87 343.49,643.97 343.84,645.38 344.19,647.77 344.54,642.78 344.90,647.39 345.25,642.95 345.60,647.90" fill="none" stroke="#e6b488" stroke-width="0.45" stroke-linejoin="round"/>
<polyline points="350.10,638.82 350.44,641.77 350.79,638.78 351.13,638.17 351.47,643.73 351.81,641.92 352.16,637.69 352.50,635.33 352.84,641.58 353.18,641.29 353.53,638.52 353.87,637.04 354.21,640.93 354.55,645.24 354.90,642.91 355.24,640.03 355.58,641.56 355.92,638.62 356.27,635.56 356.61,642.97 356.95,642.51 357.30,647.90 357.64,643.73 357.98,647.06 358.32,646.72 358.67,641.00 359.01,643.37 359.35,643.86 359.69,641.24 360.04,646.14 360.38,645.14 360.72,643.09 361.06,645.97 361.41,645.53 361.75,646.96 362.09,645.29 362.43,645.48 362.78,646.19 363.12,647.07 363.46,645.91 363.81,647.90 364.15,646.95 364.49,645.88 364.83,644.66 365.18,640.65 365.52,643.86 365.86,646.43 366.20,646.66 366.55,647.90 366.89,645.09 367.23,647.90 367.57,640.34 367.92,647.19 368.26,642.62 368.60,647.90 368.94,647.82 369.29,643.54 369.63,644.13 369.97,647.90 370.32,645.98 370.66,644.72 371.00,642.54 371.34,644.94 371.69,642.24 372.03,641.70 372.37,639.97 372.71,642.08 373.06,640.65 373.40,638.81 373.74,637.95 374.08,638.75 374.43,636.48 374.77,641.29 375.11,639.15 375.46,636.11 375.80,641.03 376.14,633.44 376.48,637.72 376.83,636.40 377.17,634.19 377.51,637.80 377.85,636.06 378.20,634.86 378.54,638.65 378.88,634.71 379.22,634.33 379.57,632.28 379.91,630.49 380.25,634.14 380.59,630.59 380.94,631.20 381.28,633.99 381.62,629.67 381.97,635.56 382.31,635.94 382.65,637.29 382.99,633.84 383.34,635.50 383.68,634.40 384.02,635.15 384.36,641.13 384.71,639.72 385.05,637.61 385.39,637.34 385.73,639.73 386.08,639.49 386.42,640.76 386.76,642.47 387.10,645.01 387.45,643.96 387.79,646.25 388.13,646.85 388.48,644.95 388.82,640.94 389.16,640.50 389.50,645.44 389.85,647.90 390.19,647.90 390.53,647.79 390.87,645.09 391.22,643.61 391.56,644.57 391.90,641.22 392.24,644.25 392.59,644.73 392.93,640.84 393.27,646.54 393.61,640.86 393.96,643.90 394.30,647.90" fill="none" stroke="#e6b488" stroke-width="0.45" stroke-linejoin="round"/>
<polyline points="396.80,622.33 397.15,620.90 397.50,624.22 397.84,624.66 398.19,626.73 398.54,628.10 398.89,632.62 399.24,634.46 399.58,635.16 399.93,640.75 400.28,634.42 400.63,632.08 400.98,629.70 401.32,629.72 401.67,626.40 402.02,624.77 402.37,619.20 402.72,614.95 403.07,618.82 403.41,615.44 403.76,620.19 404.11,624.51 404.46,627.19 404.81,624.64 405.15,624.82 405.50,630.41 405.85,633.76 406.20,633.34 406.55,633.33 406.89,638.20 407.24,635.62 407.59,641.95 407.94,645.28 408.29,640.05 408.63,642.86 408.98,640.26 409.33,640.16 409.68,642.19 410.03,642.24 410.37,645.09 410.72,643.04 411.07,647.12 411.42,644.73 411.77,642.82 412.11,646.72 412.46,644.34 412.81,641.01 413.16,640.44 413.51,637.90 413.86,644.45 414.20,641.58 414.55,641.94 414.90,640.22 415.25,635.31 415.60,638.24 415.94,636.68 416.29,634.17 416.64,637.45 416.99,638.62 417.34,637.12 417.68,633.95 418.03,632.08 418.38,627.28 418.73,632.49 419.08,633.57 419.42,634.05 419.77,633.94 420.12,633.98 420.47,631.97 420.82,630.56 421.16,631.14 421.51,632.64 421.86,632.65 422.21,627.83 422.56,627.91 422.90,629.77 423.25,630.05 423.60,629.61 423.95,631.31 424.30,627.33 424.64,624.70 424.99,628.66 425.34,628.50 425.69,623.25 426.04,622.73 426.39,625.78 426.73,622.63 427.08,622.41 427.43,617.47 427.78,615.72 428.13,617.34 428.47,620.57 428.82,620.74 429.17,625.68 429.52,624.75 429.87,622.66 430.21,627.98 430.56,621.32 430.91,626.95 431.26,628.63 431.61,627.65 431.95,623.61 432.30,632.38 432.65,634.30 433.00,633.32 433.35,635.45 433.69,634.29 434.04,638.55 434.39,638.62 434.74,642.18 435.09,643.96 435.43,641.03 435.78,644.63 436.13,645.64 436.48,644.73 436.83,637.98 437.18,643.52 437.52,642.03 437.87,643.91 438.22,645.57 438.57,640.61 438.92,640.06 439.26,646.80 439.61,642.58 439.96,639.69 440.31,641.14 440.66,642.86 441.00,639.58 441.35,638.04 441.70,639.48" fill="none" stroke="#e6b488" stroke-width="0.45" stroke-linejoin="round"/>
<line x1="260.30" y1="603.10" x2="260.30" y2="648.30" stroke="#444" stroke-width="0.7"/>
<rect x="253.10" y="603.10" width="45.50" height="45.20" fill="none" stroke="#3c3c3c" stroke-width="0.8"/>
<line x1="338.30" y1="603.10" x2="338.30" y2="648.30" stroke="#444" stroke-width="0.7"/>
<rect x="299.80" y="603.10" width="46.20" height="45.20" fill="none" stroke="#3c3c3c" stroke-width="0.8"/>
<line x1="357.30" y1="603.10" x2="357.30" y2="648.30" stroke="#9c9c9c" stroke-width="1.3"/>
<rect x="349.70" y="603.10" width="45.00" height="45.20" fill="none" stroke="#3c3c3c" stroke-width="0.8"/>
<line x1="434.20" y1="603.10" x2="434.20" y2="648.30" stroke="#9c9c9c" stroke-width="1.3"/>
<rect x="396.40" y="603.10" width="45.70" height="45.20" fill="none" stroke="#3c3c3c" stroke-width="0.8"/>
<line x1="442.10" y1="603.40" x2="444.90" y2="603.40" stroke="#3c3c3c" stroke-width="0.6"/>
<text stroke="#333" stroke-width="0.07" x="447.30" y="605.20" font-size="5.0" text-anchor="start" fill="#333">4.095</text>
<line x1="442.10" y1="614.50" x2="444.90" y2="614.50" stroke="#3c3c3c" stroke-width="0.6"/>
<text stroke="#333" stroke-width="0.07" x="447.30" y="616.30" font-size="5.0" text-anchor="start" fill="#333">3.071</text>
<line x1="442.10" y1="625.80" x2="444.90" y2="625.80" stroke="#3c3c3c" stroke-width="0.6"/>
<text stroke="#333" stroke-width="0.07" x="447.30" y="627.60" font-size="5.0" text-anchor="start" fill="#333">2.047</text>
<line x1="442.10" y1="637.10" x2="444.90" y2="637.10" stroke="#3c3c3c" stroke-width="0.6"/>
<text stroke="#333" stroke-width="0.07" x="447.30" y="638.90" font-size="5.0" text-anchor="start" fill="#333">1.024</text>
<line x1="442.10" y1="648.70" x2="444.90" y2="648.70" stroke="#3c3c3c" stroke-width="0.6"/>
<text stroke="#333" stroke-width="0.07" x="447.30" y="650.50" font-size="5.0" text-anchor="start" fill="#333">0.0</text>
<text x="0" y="0" font-size="6.6" text-anchor="middle" fill="#222" stroke="#222" stroke-width="0.3" transform="translate(465.90 625.70) rotate(90) scale(0.71 1)">Negative log10(P-value)</text>
<text stroke="#333" stroke-width="0.07" x="477.60" y="529.45" font-size="4.85" text-anchor="start" fill="#333">Motif Score</text>
<line x1="477.60" y1="536.30" x2="484.10" y2="536.30" stroke="#e0b070" stroke-width="1.0"/>
<text stroke="#333" stroke-width="0.07" x="487.40" y="538.05" font-size="4.85" text-anchor="start" fill="#333">+Inclusion</text>
<line x1="477.60" y1="545.00" x2="484.10" y2="545.00" stroke="#9aaac0" stroke-width="1.0"/>
<text stroke="#333" stroke-width="0.07" x="487.40" y="546.75" font-size="4.85" text-anchor="start" fill="#333">-Inclusion</text>
<line x1="477.60" y1="553.70" x2="484.10" y2="553.70" stroke="#606060" stroke-width="1.0"/>
<text stroke="#333" stroke-width="0.07" x="487.40" y="555.45" font-size="4.85" text-anchor="start" fill="#333">Background</text>
<text stroke="#333" stroke-width="0.07" x="470.20" y="619.40" font-size="5.0" fill="#333">-Log<tspan font-size="3.2" dy="1">10</tspan><tspan dy="-1">(PValue)</tspan></text>
<line x1="470.20" y1="626.30" x2="472.70" y2="626.30" stroke="#8a8a8a" stroke-width="0.8"/>
<line x1="475.20" y1="626.30" x2="477.70" y2="626.30" stroke="#8a8a8a" stroke-width="0.8"/>
<text stroke="#333" stroke-width="0.07" x="482.50" y="628.01" font-size="4.75" text-anchor="start" fill="#333">+Inclusion</text>
<line x1="470.20" y1="634.70" x2="472.70" y2="634.70" stroke="#c8c8c8" stroke-width="0.8"/>
<line x1="475.20" y1="634.70" x2="477.70" y2="634.70" stroke="#c8c8c8" stroke-width="0.8"/>
<text stroke="#333" stroke-width="0.07" x="482.50" y="636.41" font-size="4.75" text-anchor="start" fill="#333">-Inclusion</text>
<rect x="0.5" y="0.5" width="519" height="657" fill="none" stroke="#5a5a5a" stroke-width="1.2"/>
</svg>
</body></html>
